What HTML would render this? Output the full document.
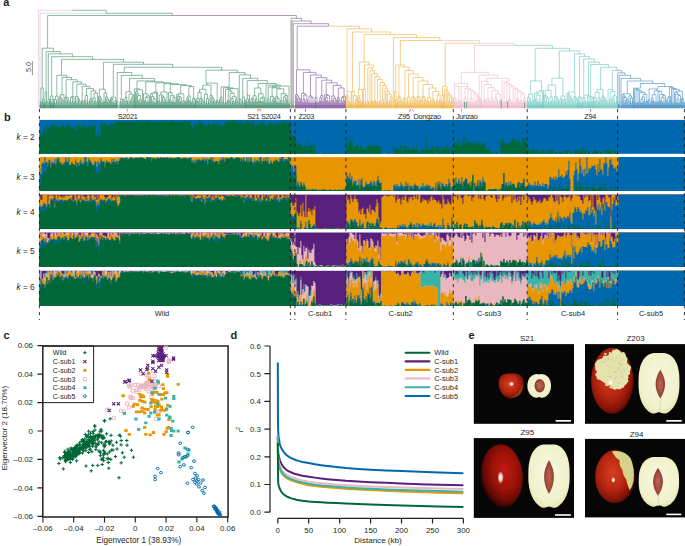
<!DOCTYPE html>
<html><head><meta charset="utf-8"><style>
html,body{margin:0;padding:0;background:#fff;}
body{width:685px;height:546px;overflow:hidden;}
svg{display:block;font-family:"Liberation Sans",sans-serif;}
</style></head><body>
<svg width="685" height="546" viewBox="0 0 685 546">
<text x="3.2" y="6.0" font-size="11" text-anchor="start" font-weight="bold" font-style="normal" fill="#231F20" >a</text>
<text x="4.0" y="120.6" font-size="11" text-anchor="start" font-weight="bold" font-style="normal" fill="#231F20" >b</text>
<text x="3.6" y="338.6" font-size="11" text-anchor="start" font-weight="bold" font-style="normal" fill="#231F20" >c</text>
<text x="230.6" y="338.8" font-size="11" text-anchor="start" font-weight="bold" font-style="normal" fill="#231F20" >d</text>
<text x="468.4" y="339.0" font-size="11" text-anchor="start" font-weight="bold" font-style="normal" fill="#231F20" >e</text>
<rect x="39.2" y="100.9" width="251.0" height="3.9" fill="#006838" fill-opacity="0.1"/>
<rect x="39.2" y="104.8" width="251.0" height="3.5" fill="#006838" fill-opacity="0.36"/>
<rect x="290.2" y="100.9" width="4.8" height="3.9" fill="#444444" fill-opacity="0.1"/>
<rect x="290.2" y="104.8" width="4.8" height="3.5" fill="#444444" fill-opacity="0.36"/>
<rect x="295.0" y="100.9" width="50.9" height="3.9" fill="#56207C" fill-opacity="0.1"/>
<rect x="295.0" y="104.8" width="50.9" height="3.5" fill="#56207C" fill-opacity="0.36"/>
<rect x="345.9" y="100.9" width="107.4" height="3.9" fill="#E89600" fill-opacity="0.1"/>
<rect x="345.9" y="104.8" width="107.4" height="3.5" fill="#E89600" fill-opacity="0.36"/>
<rect x="453.3" y="100.9" width="73.9" height="3.9" fill="#E6A0B4" fill-opacity="0.1"/>
<rect x="453.3" y="104.8" width="73.9" height="3.5" fill="#E6A0B4" fill-opacity="0.36"/>
<rect x="527.2" y="100.9" width="90.5" height="3.9" fill="#38B4A6" fill-opacity="0.1"/>
<rect x="527.2" y="104.8" width="90.5" height="3.5" fill="#38B4A6" fill-opacity="0.36"/>
<rect x="617.7" y="100.9" width="67.1" height="3.9" fill="#0068AC" fill-opacity="0.1"/>
<rect x="617.7" y="104.8" width="67.1" height="3.5" fill="#0068AC" fill-opacity="0.36"/>
<path d="M38.4,10.3H72.3M38.4,10.3V108.2" fill="none" stroke="#D868C8" stroke-opacity="0.32" stroke-width="0.9"/>
<path d="M72.3,10.3H106.2M106.2,10.3V13.3M106.2,13.3H172.3M172.3,13.3V15.5M47.6,15.5H172.0M47.6,15.5V48.2M42.2,48.2H47.8M47.8,48.2H53.4M42.2,48.2V88.0M41.0,88.0H42.1M42.1,88.0H43.2M41.0,88.0V102.3M40.5,102.3H41.0M41.0,102.3H41.5M40.5,102.3V108.2M41.5,102.3V108.2M43.2,88.0V99.1M42.5,99.1H43.2M43.2,99.1H44.0M42.5,99.1V108.2M44.0,99.1V103.4M43.5,103.4H44.0M44.0,103.4H44.5M43.5,103.4V108.2M44.5,103.4V108.2M53.4,48.2V51.6M46.1,51.6H53.2M53.2,51.6H60.4M46.1,51.6V92.0M45.0,92.0H45.8M45.8,92.0H46.5M45.0,92.0V108.2M46.5,92.0V102.2M46.0,102.2H46.5M46.5,102.2H47.0M46.0,102.2V108.2M47.0,102.2V108.2M60.4,51.6V53.8M48.3,53.8H60.4M60.4,53.8H72.4M48.3,53.8V99.0M48.0,99.0H48.8M48.8,99.0H49.5M48.0,99.0V108.2M49.5,99.0V102.6M49.0,102.6H49.5M49.5,102.6H50.0M49.0,102.6V108.2M50.0,102.6V108.2M72.4,53.8V56.7M51.7,56.7H72.2M72.2,56.7H92.6M51.7,56.7V96.0M50.5,96.0H51.6M51.6,96.0H52.8M50.5,96.0V108.2M52.8,96.0V99.2M52.0,99.2H52.8M52.8,99.2H53.5M52.0,99.2V103.1M51.5,103.1H52.0M52.0,103.1H52.5M51.5,103.1V108.2M52.5,103.1V108.2M53.5,99.2V108.2M92.6,56.7V59.4M61.5,59.4H92.5M92.5,59.4H123.6M61.5,59.4V75.3M56.8,75.3H61.8M61.8,75.3H66.8M56.8,75.3V96.2M55.5,96.2H56.8M56.8,96.2H58.0M55.5,96.2V99.6M54.5,99.6H55.5M55.5,99.6H56.5M54.5,99.6V103.3M54.0,103.3H54.5M54.5,103.3H55.0M54.0,103.3V108.2M55.0,103.3V108.2M56.5,99.6V102.9M56.0,102.9H56.5M56.5,102.9H57.0M56.0,102.9V108.2M57.0,102.9V108.2M58.0,96.2V108.2M66.8,75.3V77.5M62.0,77.5H66.8M66.8,77.5H71.6M62.0,77.5V94.8M60.1,94.8H62.0M62.0,94.8H64.0M60.1,94.8V97.2M59.0,97.2H60.1M60.1,97.2H61.1M59.0,97.2V108.2M61.1,97.2V98.8M60.0,98.8H61.1M61.1,98.8H62.2M60.0,98.8V108.2M62.2,98.8V100.2M61.5,100.2H62.2M62.2,100.2H63.0M61.5,100.2V103.2M61.0,103.2H61.5M61.5,103.2H62.0M61.0,103.2V108.2M62.0,103.2V108.2M63.0,100.2V108.2M64.0,94.8V108.2M71.6,77.5V79.7M66.1,79.7H71.6M71.6,79.7H77.1M66.1,79.7V97.0M65.0,97.0H66.1M66.1,97.0H67.1M65.0,97.0V108.2M67.1,97.0V97.9M66.0,97.9H67.1M67.1,97.9H68.2M66.0,97.9V108.2M68.2,97.9V100.1M67.5,100.1H68.2M68.2,100.1H69.0M67.5,100.1V102.5M67.0,102.5H67.5M67.5,102.5H68.0M67.0,102.5V108.2M68.0,102.5V108.2M69.0,100.1V108.2M77.1,79.7V81.9M72.8,81.9H77.1M77.1,81.9H81.4M72.8,81.9V96.6M71.5,96.6H72.8M72.8,96.6H74.0M71.5,96.6V97.5M70.5,97.5H71.5M71.5,97.5H72.5M70.5,97.5V102.7M70.0,102.7H70.5M70.5,102.7H71.0M70.0,102.7V108.2M71.0,102.7V108.2M72.5,97.5V102.1M72.0,102.1H72.5M72.5,102.1H73.0M72.0,102.1V108.2M73.0,102.1V108.2M74.0,96.6V108.2M81.4,81.9V84.2M76.8,84.2H81.4M81.4,84.2H86.1M76.8,84.2V96.6M75.5,96.6H76.8M76.8,96.6H78.1M75.5,96.6V102.7M75.0,102.7H75.5M75.5,102.7H76.0M75.0,102.7V108.2M76.0,102.7V108.2M78.1,96.6V98.7M77.0,98.7H78.1M78.1,98.7H79.2M77.0,98.7V108.2M79.2,98.7V100.3M78.5,100.3H79.2M79.2,100.3H80.0M78.5,100.3V103.6M78.0,103.6H78.5M78.5,103.6H79.0M78.0,103.6V108.2M79.0,103.6V108.2M80.0,100.3V108.2M86.1,84.2V86.4M82.2,86.4H86.1M86.1,86.4H89.9M82.2,86.4V100.8M81.5,100.8H82.2M82.2,100.8H83.0M81.5,100.8V103.0M81.0,103.0H81.5M81.5,103.0H82.0M81.0,103.0V108.2M82.0,103.0V108.2M83.0,100.8V108.2M89.9,86.4V88.6M86.4,88.6H89.9M89.9,88.6H93.5M86.4,88.6V95.6M85.2,95.6H86.4M86.4,95.6H87.5M85.2,95.6V100.2M84.5,100.2H85.2M85.2,100.2H86.0M84.5,100.2V102.1M84.0,102.1H84.5M84.5,102.1H85.0M84.0,102.1V108.2M85.0,102.1V108.2M86.0,100.2V108.2M87.5,95.6V103.6M87.0,103.6H87.5M87.5,103.6H88.0M87.0,103.6V108.2M88.0,103.6V108.2M93.5,88.6V90.8M91.1,90.8H93.5M93.5,90.8H95.8M91.1,90.8V98.6M90.2,98.6H91.1M91.1,98.6H92.0M90.2,98.6V100.3M89.5,100.3H90.2M90.2,100.3H91.0M89.5,100.3V102.2M89.0,102.2H89.5M89.5,102.2H90.0M89.0,102.2V108.2M90.0,102.2V108.2M91.0,100.3V108.2M92.0,98.6V108.2M95.8,90.8V93.0M94.1,93.0H95.8M95.8,93.0H97.5M94.1,93.0V97.9M93.0,97.9H94.1M94.1,97.9H95.2M93.0,97.9V108.2M95.2,97.9V101.3M94.5,101.3H95.2M95.2,101.3H96.0M94.5,101.3V102.9M94.0,102.9H94.5M94.5,102.9H95.0M94.0,102.9V108.2M95.0,102.9V108.2M96.0,101.3V108.2M97.5,93.0V102.7M97.0,102.7H97.5M97.5,102.7H98.0M97.0,102.7V108.2M98.0,102.7V108.2M123.6,59.4V62.2M103.4,62.2H123.5M123.5,62.2H143.5M103.4,62.2V89.2M99.4,89.2H102.4M102.4,89.2H105.3M99.4,89.2V96.4M98.5,96.4H99.4M99.4,96.4H100.4M98.5,96.4V108.2M100.4,96.4V97.8M99.5,97.8H100.4M100.4,97.8H101.2M99.5,97.8V108.2M101.2,97.8V99.7M100.5,99.7H101.2M101.2,99.7H102.0M100.5,99.7V108.2M102.0,99.7V103.1M101.5,103.1H102.0M102.0,103.1H102.5M101.5,103.1V108.2M102.5,103.1V108.2M105.3,89.2V92.9M104.0,92.9H105.3M105.3,92.9H106.6M104.0,92.9V102.0M103.5,102.0H104.0M104.0,102.0H104.5M103.5,102.0V108.2M104.5,102.0V108.2M106.6,92.9V97.1M105.5,97.1H106.6M106.6,97.1H107.6M105.5,97.1V108.2M107.6,97.1V99.0M106.5,99.0H107.6M107.6,99.0H108.8M106.5,99.0V108.2M108.8,99.0V100.5M108.0,100.5H108.8M108.8,100.5H109.5M108.0,100.5V102.6M107.5,102.6H108.0M108.0,102.6H108.5M107.5,102.6V108.2M108.5,102.6V108.2M109.5,100.5V108.2M143.5,62.2V64.3M113.3,64.3H143.0M143.0,64.3H172.7M113.3,64.3V97.2M111.4,97.2H113.6M113.6,97.2H115.8M111.4,97.2V98.1M110.5,98.1H111.4M111.4,98.1H112.2M110.5,98.1V108.2M112.2,98.1V99.5M111.5,99.5H112.2M112.2,99.5H113.0M111.5,99.5V108.2M113.0,99.5V102.8M112.5,102.8H113.0M113.0,102.8H113.5M112.5,102.8V108.2M113.5,102.8V108.2M115.8,97.2V100.8M115.0,100.8H115.8M115.8,100.8H116.5M115.0,100.8V103.4M114.5,103.4H115.0M115.0,103.4H115.5M114.5,103.4V108.2M115.5,103.4V108.2M116.5,100.8V108.2M172.7,64.3V67.3M124.2,67.3H172.9M172.9,67.3H221.6M124.2,67.3V72.5M117.2,72.5H124.5M124.5,72.5H131.8M117.2,72.5V108.2M131.8,72.5V75.4M121.3,75.4H131.8M131.8,75.4H142.3M121.3,75.4V99.2M120.5,99.2H121.9M121.9,99.2H123.2M120.5,99.2V102.1M120.0,102.1H120.5M120.5,102.1H121.0M120.0,102.1V108.2M121.0,102.1V108.2M123.2,99.2V100.1M122.5,100.1H123.2M123.2,100.1H124.0M122.5,100.1V102.6M122.0,102.6H122.5M122.5,102.6H123.0M122.0,102.6V108.2M123.0,102.6V108.2M124.0,100.1V108.2M142.3,75.4V78.4M129.5,78.4H142.1M142.1,78.4H154.6M129.5,78.4V91.8M125.9,91.8H128.5M128.5,91.8H131.0M125.9,91.8V97.5M125.0,97.5H125.9M125.9,97.5H126.8M125.0,97.5V108.2M126.8,97.5V101.4M126.0,101.4H126.8M126.8,101.4H127.5M126.0,101.4V108.2M127.5,101.4V103.3M127.0,103.3H127.5M127.5,103.3H128.0M127.0,103.3V108.2M128.0,103.3V108.2M131.0,91.8V94.2M129.0,94.2H131.0M131.0,94.2H133.1M129.0,94.2V108.2M133.1,94.2V96.0M132.1,96.0H133.1M133.1,96.0H134.0M132.1,96.0V98.4M131.2,98.4H132.1M132.1,98.4H133.0M131.2,98.4V100.5M130.5,100.5H131.2M131.2,100.5H132.0M130.5,100.5V102.2M130.0,102.2H130.5M130.5,102.2H131.0M130.0,102.2V108.2M131.0,102.2V108.2M132.0,100.5V108.2M133.0,98.4V108.2M134.0,96.0V108.2M154.6,78.4V80.9M137.0,80.9H145.8M145.8,80.9H154.6M137.0,80.9V88.9M134.5,88.9H137.0M137.0,88.9H139.6M134.5,88.9V108.2M139.6,88.9V89.8M136.6,89.8H139.6M139.6,89.8H142.5M136.6,89.8V91.7M135.5,91.7H136.6M136.6,91.7H137.7M135.5,91.7V108.2M137.7,91.7V93.7M136.5,93.7H137.7M137.7,93.7H138.9M136.5,93.7V108.2M138.9,93.7V95.6M137.5,95.6H138.9M138.9,95.6H140.4M137.5,95.6V108.2M140.4,95.6V99.6M139.2,99.6H140.4M140.4,99.6H141.5M139.2,99.6V101.0M138.5,101.0H139.2M139.2,101.0H140.0M138.5,101.0V108.2M140.0,101.0V103.0M139.5,103.0H140.0M140.0,103.0H140.5M139.5,103.0V108.2M140.5,103.0V108.2M141.5,99.6V108.2M142.5,89.8V108.2M154.6,80.9V81.8M145.8,81.8H154.6M154.6,81.8H163.4M145.8,81.8V93.8M143.5,93.8H145.8M145.8,93.8H148.1M143.5,93.8V108.2M148.1,93.8V96.0M146.6,96.0H148.1M148.1,96.0H149.5M146.6,96.0V97.3M145.2,97.3H146.6M146.6,97.3H148.0M145.2,97.3V100.8M144.5,100.8H145.2M145.2,100.8H146.0M144.5,100.8V108.2M146.0,100.8V102.5M145.5,102.5H146.0M146.0,102.5H146.5M145.5,102.5V108.2M146.5,102.5V108.2M148.0,97.3V102.7M147.5,102.7H148.0M148.0,102.7H148.5M147.5,102.7V108.2M148.5,102.7V108.2M149.5,96.0V108.2M163.4,81.8V82.8M155.8,82.8H163.4M163.4,82.8H171.1M155.8,82.8V92.1M154.1,92.1H155.8M155.8,92.1H157.5M154.1,92.1V93.0M151.6,93.0H154.1M154.1,93.0H156.5M151.6,93.0V94.1M150.5,94.1H151.6M151.6,94.1H152.8M150.5,94.1V108.2M152.8,94.1V96.6M151.5,96.6H152.8M152.8,96.6H154.0M151.5,96.6V108.2M154.0,96.6V98.6M153.0,98.6H154.0M154.0,98.6H155.0M153.0,98.6V102.5M152.5,102.5H153.0M153.0,102.5H153.5M152.5,102.5V108.2M153.5,102.5V108.2M155.0,98.6V103.2M154.5,103.2H155.0M155.0,103.2H155.5M154.5,103.2V108.2M155.5,103.2V108.2M156.5,93.0V108.2M157.5,92.1V108.2M171.1,82.8V83.7M164.0,83.7H171.1M171.1,83.7H178.2M164.0,83.7V92.0M160.9,92.0H164.0M164.0,92.0H167.0M160.9,92.0V95.0M159.2,95.0H160.9M160.9,95.0H162.6M159.2,95.0V101.1M158.5,101.1H159.2M159.2,101.1H160.0M158.5,101.1V108.2M160.0,101.1V103.1M159.5,103.1H160.0M160.0,103.1H160.5M159.5,103.1V108.2M160.5,103.1V108.2M162.6,95.0V96.2M161.5,96.2H162.6M162.6,96.2H163.6M161.5,96.2V108.2M163.6,96.2V97.6M162.5,97.6H163.6M163.6,97.6H164.8M162.5,97.6V108.2M164.8,97.6V99.5M164.0,99.5H164.8M164.8,99.5H165.5M164.0,99.5V102.3M163.5,102.3H164.0M164.0,102.3H164.5M163.5,102.3V108.2M164.5,102.3V108.2M165.5,99.5V108.2M167.0,92.0V102.3M166.5,102.3H167.0M167.0,102.3H167.5M166.5,102.3V108.2M167.5,102.3V108.2M178.2,83.7V84.6M170.3,84.6H178.2M178.2,84.6H186.0M170.3,84.6V92.6M168.5,92.6H170.3M170.3,92.6H172.1M168.5,92.6V108.2M172.1,92.6V95.7M170.2,95.7H172.1M172.1,95.7H174.0M170.2,95.7V99.8M169.5,99.8H170.2M170.2,99.8H171.0M169.5,99.8V108.2M171.0,99.8V102.2M170.5,102.2H171.0M171.0,102.2H171.5M170.5,102.2V108.2M171.5,102.2V108.2M174.0,95.7V97.2M173.0,97.2H174.0M174.0,97.2H175.0M173.0,97.2V102.1M172.5,102.1H173.0M173.0,102.1H173.5M172.5,102.1V108.2M173.5,102.1V108.2M175.0,97.2V102.9M174.5,102.9H175.0M175.0,102.9H175.5M174.5,102.9V108.2M175.5,102.9V108.2M186.0,84.6V85.6M180.7,85.6H186.0M186.0,85.6H191.3M180.7,85.6V93.8M177.7,93.8H180.7M180.7,93.8H183.8M177.7,93.8V94.7M176.5,94.7H177.7M177.7,94.7H178.9M176.5,94.7V108.2M178.9,94.7V96.6M177.5,96.6H178.9M178.9,96.6H180.4M177.5,96.6V108.2M180.4,96.6V97.7M179.2,97.7H180.4M180.4,97.7H181.5M179.2,97.7V99.5M178.5,99.5H179.2M179.2,99.5H180.0M178.5,99.5V108.2M180.0,99.5V102.0M179.5,102.0H180.0M180.0,102.0H180.5M179.5,102.0V108.2M180.5,102.0V108.2M181.5,97.7V108.2M183.8,93.8V101.1M183.0,101.1H183.8M183.8,101.1H184.5M183.0,101.1V103.5M182.5,103.5H183.0M183.0,103.5H183.5M182.5,103.5V108.2M183.5,103.5V108.2M184.5,101.1V108.2M191.3,85.6V86.5M188.9,86.5H191.3M191.3,86.5H193.6M188.9,86.5V96.0M187.6,96.0H188.9M188.9,96.0H190.2M187.6,96.0V97.8M186.8,97.8H187.6M187.6,97.8H188.5M186.8,97.8V99.9M186.0,99.9H186.8M186.8,99.9H187.5M186.0,99.9V102.2M185.5,102.2H186.0M186.0,102.2H186.5M185.5,102.2V108.2M186.5,102.2V108.2M187.5,99.9V108.2M188.5,97.8V108.2M190.2,96.0V101.1M189.5,101.1H190.2M190.2,101.1H191.0M189.5,101.1V108.2M191.0,101.1V102.9M190.5,102.9H191.0M191.0,102.9H191.5M190.5,102.9V108.2M191.5,102.9V108.2M193.6,86.5V98.3M192.5,98.3H193.6M193.6,98.3H194.8M192.5,98.3V108.2M194.8,98.3V99.2M194.0,99.2H194.8M194.8,99.2H195.5M194.0,99.2V103.4M193.5,103.4H194.0M194.0,103.4H194.5M193.5,103.4V108.2M194.5,103.4V108.2M195.5,99.2V108.2M221.6,67.3V70.2M206.0,70.2H221.7M221.7,70.2H237.4M206.0,70.2V83.1M206.0,83.1H212.1M212.1,83.1H217.2M206.9,83.1V85.1M202.8,85.1H206.9M206.9,85.1H211.0M202.8,85.1V89.3M199.5,89.3H202.8M202.8,89.3H206.0M199.5,89.3V92.3M197.9,92.3H199.5M199.5,92.3H201.1M197.9,92.3V98.3M196.8,98.3H197.9M197.9,98.3H199.0M196.8,98.3V100.9M196.0,100.9H196.8M196.8,100.9H197.5M196.0,100.9V108.2M197.5,100.9V102.2M197.0,102.2H197.5M197.5,102.2H198.0M197.0,102.2V108.2M198.0,102.2V108.2M199.0,98.3V108.2M201.1,92.3V98.3M200.0,98.3H201.1M201.1,98.3H202.2M200.0,98.3V108.2M202.2,98.3V99.9M201.5,99.9H202.2M202.2,99.9H203.0M201.5,99.9V103.4M201.0,103.4H201.5M201.5,103.4H202.0M201.0,103.4V108.2M202.0,103.4V108.2M203.0,99.9V108.2M206.0,89.3V94.2M204.5,94.2H206.0M206.0,94.2H207.5M204.5,94.2V102.3M204.0,102.3H204.5M204.5,102.3H205.0M204.0,102.3V108.2M205.0,102.3V108.2M207.5,94.2V98.7M206.5,98.7H207.5M207.5,98.7H208.5M206.5,98.7V103.5M206.0,103.5H206.5M206.5,103.5H207.0M206.0,103.5V108.2M207.0,103.5V108.2M208.5,98.7V103.4M208.0,103.4H208.5M208.5,103.4H209.0M208.0,103.4V108.2M209.0,103.4V108.2M211.0,85.1V95.3M210.0,95.3H211.0M211.0,95.3H212.1M210.0,95.3V108.2M212.1,95.3V97.1M211.0,97.1H212.1M212.1,97.1H213.1M211.0,97.1V108.2M213.1,97.1V98.8M212.0,98.8H213.1M213.1,98.8H214.2M212.0,98.8V108.2M214.2,98.8V101.0M213.5,101.0H214.2M214.2,101.0H215.0M213.5,101.0V102.6M213.0,102.6H213.5M213.5,102.6H214.0M213.0,102.6V108.2M214.0,102.6V108.2M215.0,101.0V108.2M217.2,83.1V100.5M216.5,100.5H217.2M217.2,100.5H218.0M216.5,100.5V102.3M216.0,102.3H216.5M216.5,102.3H217.0M216.0,102.3V108.2M217.0,102.3V108.2M218.0,100.5V108.2M237.4,70.2V72.6M229.2,72.6H237.1M237.1,72.6H245.0M229.2,72.6V86.9M221.1,86.9H224.7M224.7,86.9H229.2M221.1,86.9V97.2M220.2,97.2H221.1M221.1,97.2H222.0M220.2,97.2V99.4M219.5,99.4H220.2M220.2,99.4H221.0M219.5,99.4V102.0M219.0,102.0H219.5M219.5,102.0H220.0M219.0,102.0V108.2M220.0,102.0V108.2M221.0,99.4V108.2M222.0,97.2V108.2M228.2,86.9V87.8M223.5,87.8H228.2M228.2,87.8H232.9M223.5,87.8V103.2M223.0,103.2H223.5M223.5,103.2H224.0M223.0,103.2V108.2M224.0,103.2V108.2M232.9,87.8V88.7M227.8,88.7H232.9M232.9,88.7H238.0M227.8,88.7V89.6M225.5,89.6H227.8M227.8,89.6H230.2M225.5,89.6V103.5M225.0,103.5H225.5M225.5,103.5H226.0M225.0,103.5V108.2M226.0,103.5V108.2M230.2,89.6V91.2M228.2,91.2H230.2M230.2,91.2H232.1M228.2,91.2V100.3M227.5,100.3H228.2M228.2,100.3H229.0M227.5,100.3V102.0M227.0,102.0H227.5M227.5,102.0H228.0M227.0,102.0V108.2M228.0,102.0V108.2M229.0,100.3V108.2M232.1,91.2V93.2M230.0,93.2H232.1M232.1,93.2H234.2M230.0,93.2V108.2M234.2,93.2V96.7M232.1,96.7H234.2M234.2,96.7H236.2M232.1,96.7V98.6M231.0,98.6H232.1M232.1,98.6H233.2M231.0,98.6V108.2M233.2,98.6V101.3M232.5,101.3H233.2M233.2,101.3H234.0M232.5,101.3V103.6M232.0,103.6H232.5M232.5,103.6H233.0M232.0,103.6V108.2M233.0,103.6V108.2M234.0,101.3V108.2M236.2,96.7V99.3M235.5,99.3H236.2M236.2,99.3H237.0M235.5,99.3V102.1M235.0,102.1H235.5M235.5,102.1H236.0M235.0,102.1V108.2M236.0,102.1V108.2M237.0,99.3V108.2M238.0,88.7V108.2M245.0,72.6V74.9M239.3,74.9H244.9M244.9,74.9H250.6M239.3,74.9V99.0M239.3,99.0H240.2M240.2,99.0H241.0M239.5,99.0V103.2M239.0,103.2H239.5M239.5,103.2H240.0M239.0,103.2V108.2M240.0,103.2V108.2M241.0,99.0V108.2M250.6,74.9V78.3M242.7,78.3H250.2M250.2,78.3H257.7M242.7,78.3V97.0M242.5,97.0H243.5M243.5,97.0H244.5M242.5,97.0V102.4M242.0,102.4H242.5M242.5,102.4H243.0M242.0,102.4V108.2M243.0,102.4V108.2M244.5,97.0V103.3M244.0,103.3H244.5M244.5,103.3H245.0M244.0,103.3V108.2M245.0,103.3V108.2M257.7,78.3V80.6M247.2,80.6H257.2M257.2,80.6H267.2M247.2,80.6V95.0M247.2,95.0H248.4M248.4,95.0H249.5M247.4,95.0V99.0M246.2,99.0H247.4M247.4,99.0H248.5M246.2,99.0V100.8M245.5,100.8H246.2M246.2,100.8H247.0M245.5,100.8V108.2M247.0,100.8V102.6M246.5,102.6H247.0M247.0,102.6H247.5M246.5,102.6V108.2M247.5,102.6V108.2M248.5,99.0V108.2M249.5,95.0V108.2M267.2,80.6V83.5M258.2,83.5H267.2M267.2,83.5H276.3M258.2,83.5V88.0M254.6,88.0H257.7M257.7,88.0H260.8M254.6,88.0V95.8M252.9,95.8H254.6M254.6,95.8H256.2M252.9,95.8V98.2M251.8,98.2H252.9M252.9,98.2H254.0M251.8,98.2V99.4M251.0,99.4H251.8M251.8,99.4H252.5M251.0,99.4V102.4M250.5,102.4H251.0M251.0,102.4H251.5M250.5,102.4V108.2M251.5,102.4V108.2M252.5,99.4V108.2M254.0,98.2V102.1M253.5,102.1H254.0M254.0,102.1H254.5M253.5,102.1V108.2M254.5,102.1V108.2M256.2,95.8V99.1M255.5,99.1H256.2M256.2,99.1H257.0M255.5,99.1V108.2M257.0,99.1V102.1M256.5,102.1H257.0M257.0,102.1H257.5M256.5,102.1V108.2M257.5,102.1V108.2M260.8,88.0V93.7M258.5,93.7H260.8M260.8,93.7H263.1M258.5,93.7V108.2M263.1,93.7V97.2M261.6,97.2H263.1M263.1,97.2H264.5M261.6,97.2V98.3M260.2,98.3H261.6M261.6,98.3H263.0M260.2,98.3V101.0M259.5,101.0H260.2M260.2,101.0H261.0M259.5,101.0V108.2M261.0,101.0V102.3M260.5,102.3H261.0M261.0,102.3H261.5M260.5,102.3V108.2M261.5,102.3V108.2M263.0,98.3V102.0M262.5,102.0H263.0M263.0,102.0H263.5M262.5,102.0V108.2M263.5,102.0V108.2M264.5,97.2V108.2M276.3,83.5V85.2M266.0,85.2H273.3M273.3,85.2H280.6M266.0,85.2V103.2M265.5,103.2H266.0M266.0,103.2H266.5M265.5,103.2V108.2M266.5,103.2V108.2M280.6,85.2V86.1M272.2,86.1H280.6M280.6,86.1H289.0M272.2,86.1V87.0M268.2,87.0H272.2M272.2,87.0H276.1M268.2,87.0V99.1M267.5,99.1H268.2M268.2,99.1H269.0M267.5,99.1V108.2M269.0,99.1V103.2M268.5,103.2H269.0M269.0,103.2H269.5M268.5,103.2V108.2M269.5,103.2V108.2M276.1,87.0V87.9M272.1,87.9H276.1M276.1,87.9H280.2M272.1,87.9V96.4M270.5,96.4H272.1M272.1,96.4H273.6M270.5,96.4V108.2M273.6,96.4V98.3M272.8,98.3H273.6M273.6,98.3H274.5M272.8,98.3V100.6M272.0,100.6H272.8M272.8,100.6H273.5M272.0,100.6V103.4M271.5,103.4H272.0M272.0,103.4H272.5M271.5,103.4V108.2M272.5,103.4V108.2M273.5,100.6V108.2M274.5,98.3V108.2M280.2,87.9V88.8M276.8,88.8H280.2M280.2,88.8H283.7M276.8,88.8V96.8M275.5,96.8H276.8M276.8,96.8H278.0M275.5,96.8V108.2M278.0,96.8V98.1M277.0,98.1H278.0M278.0,98.1H279.0M277.0,98.1V102.8M276.5,102.8H277.0M277.0,102.8H277.5M276.5,102.8V108.2M277.5,102.8V108.2M279.0,98.1V103.1M278.5,103.1H279.0M279.0,103.1H279.5M278.5,103.1V108.2M279.5,103.1V108.2M283.7,88.8V93.7M281.2,93.7H283.7M283.7,93.7H286.1M281.2,93.7V100.3M280.5,100.3H281.2M281.2,100.3H282.0M280.5,100.3V108.2M282.0,100.3V103.4M281.5,103.4H282.0M282.0,103.4H282.5M281.5,103.4V108.2M282.5,103.4V108.2M286.1,93.7V95.6M284.6,95.6H286.1M286.1,95.6H287.5M284.6,95.6V97.0M283.5,97.0H284.6M284.6,97.0H285.8M283.5,97.0V108.2M285.8,97.0V99.7M285.0,99.7H285.8M285.8,99.7H286.5M285.0,99.7V103.5M284.5,103.5H285.0M285.0,103.5H285.5M284.5,103.5V108.2M285.5,103.5V108.2M286.5,99.7V108.2M287.5,95.6V108.2M289.0,86.1V103.6M288.5,103.6H289.0M289.0,103.6H289.5M288.5,103.6V108.2M289.5,103.6V108.2" fill="none" stroke="#006838" stroke-opacity="0.5" stroke-width="0.9"/>
<path d="M40.0,13.3H106.2M40.0,13.3V108.2" fill="none" stroke="#006838" stroke-opacity="0.2" stroke-width="0.9"/>
<path d="M172.0,15.5H296.4M296.4,15.5V18.4M296.3,18.4H301.6M301.6,18.4V21.0M301.5,21.0H311.0M311.0,21.0V23.7M310.9,23.7H328.5M328.5,23.7V26.2M297.2,26.2H328.4M297.2,26.2V69.8M296.5,69.8H303.1M303.1,69.8H309.7M296.5,69.8V94.7M295.5,94.7H296.5M296.5,94.7H297.6M295.5,94.7V108.2M297.6,94.7V95.9M296.5,95.9H297.6M297.6,95.9H298.6M296.5,95.9V108.2M298.6,95.9V98.2M297.5,98.2H298.6M298.6,98.2H299.8M297.5,98.2V108.2M299.8,98.2V99.2M299.0,99.2H299.8M299.8,99.2H300.5M299.0,99.2V102.0M298.5,102.0H299.0M299.0,102.0H299.5M298.5,102.0V108.2M299.5,102.0V108.2M300.5,99.2V108.2M309.7,69.8V72.4M303.4,72.4H309.7M309.7,72.4H315.9M303.4,72.4V93.4M301.5,93.4H303.4M303.4,93.4H305.2M301.5,93.4V108.2M305.2,93.4V95.0M303.8,95.0H305.2M305.2,95.0H306.8M303.8,95.0V99.1M303.0,99.1H303.8M303.8,99.1H304.5M303.0,99.1V103.0M302.5,103.0H303.0M303.0,103.0H303.5M302.5,103.0V108.2M303.5,103.0V108.2M304.5,99.1V108.2M306.8,95.0V99.6M306.0,99.6H306.8M306.8,99.6H307.5M306.0,99.6V103.0M305.5,103.0H306.0M306.0,103.0H306.5M305.5,103.0V108.2M306.5,103.0V108.2M307.5,99.6V108.2M315.9,72.4V75.0M310.5,75.0H315.9M315.9,75.0H321.4M310.5,75.0V96.1M309.0,96.1H310.5M310.5,96.1H312.0M309.0,96.1V103.0M308.5,103.0H309.0M309.0,103.0H309.5M308.5,103.0V108.2M309.5,103.0V108.2M312.0,96.1V97.5M311.0,97.5H312.0M312.0,97.5H313.0M311.0,97.5V103.3M310.5,103.3H311.0M311.0,103.3H311.5M310.5,103.3V108.2M311.5,103.3V108.2M313.0,97.5V103.5M312.5,103.5H313.0M313.0,103.5H313.5M312.5,103.5V108.2M313.5,103.5V108.2M321.4,75.0V77.6M316.0,77.6H321.4M321.4,77.6H326.8M316.0,77.6V97.8M315.0,97.8H316.0M316.0,97.8H317.0M315.0,97.8V103.4M314.5,103.4H315.0M315.0,103.4H315.5M314.5,103.4V108.2M315.5,103.4V108.2M317.0,97.8V103.1M316.5,103.1H317.0M317.0,103.1H317.5M316.5,103.1V108.2M317.5,103.1V108.2M326.8,77.6V80.2M321.8,80.2H326.8M326.8,80.2H331.7M321.8,80.2V95.6M320.6,95.6H321.8M321.8,95.6H323.0M320.6,95.6V97.8M319.8,97.8H320.6M320.6,97.8H321.5M319.8,97.8V101.2M319.0,101.2H319.8M319.8,101.2H320.5M319.0,101.2V103.0M318.5,103.0H319.0M319.0,103.0H319.5M318.5,103.0V108.2M319.5,103.0V108.2M320.5,101.2V108.2M321.5,97.8V108.2M323.0,95.6V102.3M322.5,102.3H323.0M323.0,102.3H323.5M322.5,102.3V108.2M323.5,102.3V108.2M331.7,80.2V82.8M326.2,82.8H331.7M331.7,82.8H337.2M326.2,82.8V94.7M324.5,94.7H326.2M326.2,94.7H327.9M324.5,94.7V108.2M327.9,94.7V95.6M326.4,95.6H327.9M327.9,95.6H329.5M326.4,95.6V97.3M325.5,97.3H326.4M326.4,97.3H327.2M325.5,97.3V108.2M327.2,97.3V101.0M326.5,101.0H327.2M327.2,101.0H328.0M326.5,101.0V108.2M328.0,101.0V102.8M327.5,102.8H328.0M328.0,102.8H328.5M327.5,102.8V108.2M328.5,102.8V108.2M329.5,95.6V108.2M337.2,82.8V85.4M333.2,85.4H337.2M337.2,85.4H341.2M333.2,85.4V96.0M331.8,96.0H333.2M333.2,96.0H334.6M331.8,96.0V100.6M331.0,100.6H331.8M331.8,100.6H332.5M331.0,100.6V102.8M330.5,102.8H331.0M331.0,102.8H331.5M330.5,102.8V108.2M331.5,102.8V108.2M332.5,100.6V108.2M334.6,96.0V98.4M333.5,98.4H334.6M334.6,98.4H335.8M333.5,98.4V108.2M335.8,98.4V100.3M335.0,100.3H335.8M335.8,100.3H336.5M335.0,100.3V103.1M334.5,103.1H335.0M335.0,103.1H335.5M334.5,103.1V108.2M335.5,103.1V108.2M336.5,100.3V108.2M341.2,85.4V88.0M338.4,88.0H341.2M341.2,88.0H344.1M338.4,88.0V97.6M337.5,97.6H338.4M338.4,97.6H339.2M337.5,97.6V108.2M339.2,97.6V99.8M338.5,99.8H339.2M339.2,99.8H340.0M338.5,99.8V108.2M340.0,99.8V103.4M339.5,103.4H340.0M340.0,103.4H340.5M339.5,103.4V108.2M340.5,103.4V108.2M344.1,88.0V96.3M342.6,96.3H344.1M344.1,96.3H345.5M342.6,96.3V97.4M341.5,97.4H342.6M342.6,97.4H343.8M341.5,97.4V108.2M343.8,97.4V100.8M343.0,100.8H343.8M343.8,100.8H344.5M343.0,100.8V103.1M342.5,103.1H343.0M343.0,103.1H343.5M342.5,103.1V108.2M343.5,103.1V108.2M344.5,100.8V108.2M345.5,96.3V108.2" fill="none" stroke="#56207C" stroke-opacity="0.5" stroke-width="0.9"/>
<path d="M291.0,18.4H296.3M291.0,18.4V108.2M292.0,21.0H301.5M292.0,21.0V108.2M293.3,23.7H310.9M293.3,23.7V108.2" fill="none" stroke="#444444" stroke-opacity="0.5" stroke-width="0.9"/>
<path d="M328.4,26.2H359.6M359.6,26.2V28.9M347.0,28.9H359.2M359.2,28.9H371.5M347.0,28.9V91.6M347.0,91.6H349.3M349.3,91.6H351.3M347.2,91.6V95.2M346.3,95.2H347.2M347.2,95.2H348.2M346.3,95.2V108.2M348.2,95.2V97.1M347.3,97.1H348.2M348.2,97.1H349.1M347.3,97.1V108.2M349.1,97.1V101.3M348.3,101.3H349.1M349.1,101.3H349.8M348.3,101.3V108.2M349.8,101.3V103.5M349.3,103.5H349.8M349.8,103.5H350.3M349.3,103.5V108.2M350.3,103.5V108.2M351.3,91.6V108.2M371.5,28.9V32.0M352.6,32.0H371.6M371.6,32.0H390.5M352.6,32.0V91.6M352.0,91.6H353.4M353.4,91.6H354.9M352.0,91.6V108.2M354.9,91.6V95.6M353.5,95.6H354.9M354.9,95.6H356.2M353.5,95.6V103.5M353.0,103.5H353.5M353.5,103.5H354.0M353.0,103.5V108.2M354.0,103.5V108.2M356.2,95.6V99.9M355.5,99.9H356.2M356.2,99.9H357.0M355.5,99.9V102.8M355.0,102.8H355.5M355.5,102.8H356.0M355.0,102.8V108.2M356.0,102.8V108.2M357.0,99.9V108.2M390.5,32.0V34.6M364.2,34.6H390.4M390.4,34.6H416.6M364.2,34.6V62.1M359.3,62.1H364.1M364.1,62.1H368.9M359.3,62.1V89.5M358.4,89.5H360.5M360.5,89.5H362.5M358.4,89.5V95.8M357.5,95.8H358.4M358.4,95.8H359.4M357.5,95.8V108.2M359.4,95.8V98.4M358.5,98.4H359.4M359.4,98.4H360.2M358.5,98.4V108.2M360.2,98.4V100.8M359.5,100.8H360.2M360.2,100.8H361.0M359.5,100.8V108.2M361.0,100.8V102.4M360.5,102.4H361.0M361.0,102.4H361.5M360.5,102.4V108.2M361.5,102.4V108.2M362.5,89.5V108.2M368.9,62.1V65.0M364.5,65.0H368.9M368.9,65.0H373.3M364.5,65.0V89.0M363.5,89.0H364.5M364.5,89.0H365.5M363.5,89.0V102.6M363.0,102.6H363.5M363.5,102.6H364.0M363.0,102.6V108.2M364.0,102.6V108.2M365.5,89.0V103.6M365.0,103.6H365.5M365.5,103.6H366.0M365.0,103.6V108.2M366.0,103.6V108.2M373.3,65.0V67.9M367.8,67.9H370.0M370.0,67.9H373.3M367.8,67.9V101.3M367.0,101.3H367.8M367.8,101.3H368.5M367.0,101.3V108.2M368.5,101.3V103.5M368.0,103.5H368.5M368.5,103.5H369.0M368.0,103.5V108.2M369.0,103.5V108.2M372.3,67.9V70.8M370.0,70.8H372.3M372.3,70.8H374.5M370.0,70.8V108.2M374.5,70.8V73.7M371.8,73.7H374.5M374.5,73.7H377.3M371.8,73.7V101.0M371.0,101.0H371.8M371.8,101.0H372.5M371.0,101.0V108.2M372.5,101.0V102.8M372.0,102.8H372.5M372.5,102.8H373.0M372.0,102.8V108.2M373.0,102.8V108.2M377.3,73.7V76.6M374.8,76.6H377.3M377.3,76.6H379.9M374.8,76.6V100.6M374.0,100.6H374.8M374.8,100.6H375.5M374.0,100.6V108.2M375.5,100.6V102.1M375.0,102.1H375.5M375.5,102.1H376.0M375.0,102.1V108.2M376.0,102.1V108.2M379.9,76.6V79.5M377.5,79.5H379.9M379.9,79.5H382.4M377.5,79.5V102.3M377.0,102.3H377.5M377.5,102.3H378.0M377.0,102.3V108.2M378.0,102.3V108.2M382.4,79.5V82.5M380.2,82.5H382.4M382.4,82.5H384.5M380.2,82.5V101.3M379.5,101.3H380.2M380.2,101.3H381.0M379.5,101.3V103.5M379.0,103.5H379.5M379.5,103.5H380.0M379.0,103.5V108.2M380.0,103.5V108.2M381.0,101.3V108.2M384.5,82.5V85.4M382.8,85.4H384.5M384.5,85.4H386.3M382.8,85.4V99.3M382.0,99.3H382.8M382.8,99.3H383.5M382.0,99.3V108.2M383.5,99.3V103.4M383.0,103.4H383.5M383.5,103.4H384.0M383.0,103.4V108.2M384.0,103.4V108.2M386.3,85.4V88.3M385.0,88.3H386.3M386.3,88.3H387.7M385.0,88.3V108.2M387.7,88.3V91.2M386.0,91.2H387.7M387.7,91.2H389.3M386.0,91.2V108.2M389.3,91.2V94.1M387.5,94.1H389.3M389.3,94.1H391.1M387.5,94.1V102.4M387.0,102.4H387.5M387.5,102.4H388.0M387.0,102.4V108.2M388.0,102.4V108.2M391.1,94.1V97.0M390.2,97.0H391.1M391.1,97.0H392.0M390.2,97.0V100.2M389.5,100.2H390.2M390.2,100.2H391.0M389.5,100.2V103.2M389.0,103.2H389.5M389.5,103.2H390.0M389.0,103.2V108.2M390.0,103.2V108.2M391.0,100.2V108.2M392.0,97.0V108.2M416.6,34.6V37.6M393.4,37.6H416.6M416.6,37.6H439.9M393.4,37.6V108.2M439.9,37.6V40.5M400.4,40.5H440.0M400.4,40.5V65.0M395.7,65.0H400.1M400.1,65.0H404.5M395.7,65.0V91.6M394.5,91.6H395.4M395.4,91.6H396.2M394.5,91.6V108.2M396.2,91.6V99.3M395.5,99.3H396.2M396.2,99.3H397.0M395.5,99.3V108.2M397.0,99.3V103.4M396.5,103.4H397.0M397.0,103.4H397.5M396.5,103.4V108.2M397.5,103.4V108.2M404.5,65.0V67.0M398.9,67.0H404.0M404.0,67.0H409.1M398.9,67.0V96.1M398.0,96.1H398.9M398.9,96.1H399.9M398.0,96.1V108.2M399.9,96.1V97.5M399.0,97.5H399.9M399.9,97.5H400.8M399.0,97.5V108.2M400.8,97.5V101.3M400.0,101.3H400.8M400.8,101.3H401.5M400.0,101.3V108.2M401.5,101.3V102.4M401.0,102.4H401.5M401.5,102.4H402.0M401.0,102.4V108.2M402.0,102.4V108.2M409.1,67.0V70.5M404.9,70.5H409.1M409.1,70.5H413.3M404.9,70.5V98.4M403.8,98.4H404.9M404.9,98.4H406.0M403.8,98.4V99.3M403.0,99.3H403.8M403.8,99.3H404.5M403.0,99.3V108.2M404.5,99.3V102.9M404.0,102.9H404.5M404.5,102.9H405.0M404.0,102.9V108.2M405.0,102.9V108.2M406.0,98.4V108.2M413.3,70.5V74.0M408.6,74.0H413.3M413.3,74.0H418.0M408.6,74.0V97.1M407.5,97.1H408.6M408.6,97.1H409.8M407.5,97.1V103.3M407.0,103.3H407.5M407.5,103.3H408.0M407.0,103.3V108.2M408.0,103.3V108.2M409.8,97.1V99.8M409.0,99.8H409.8M409.8,99.8H410.5M409.0,99.8V108.2M410.5,99.8V103.2M410.0,103.2H410.5M410.5,103.2H411.0M410.0,103.2V108.2M411.0,103.2V108.2M418.0,74.0V77.5M413.1,77.5H418.0M418.0,77.5H422.9M413.1,77.5V96.8M412.0,96.8H413.1M413.1,96.8H414.1M412.0,96.8V108.2M414.1,96.8V98.2M413.0,98.2H414.1M414.1,98.2H415.2M413.0,98.2V108.2M415.2,98.2V100.0M414.5,100.0H415.2M415.2,100.0H416.0M414.5,100.0V103.0M414.0,103.0H414.5M414.5,103.0H415.0M414.0,103.0V108.2M415.0,103.0V108.2M416.0,100.0V108.2M422.9,77.5V81.0M418.1,81.0H422.9M422.9,81.0H427.8M418.1,81.0V96.4M417.0,96.4H418.1M418.1,96.4H419.1M417.0,96.4V108.2M419.1,96.4V97.3M418.0,97.3H419.1M419.1,97.3H420.2M418.0,97.3V108.2M420.2,97.3V100.4M419.5,100.4H420.2M420.2,100.4H421.0M419.5,100.4V102.1M419.0,102.1H419.5M419.5,102.1H420.0M419.0,102.1V108.2M420.0,102.1V108.2M421.0,100.4V108.2M427.8,81.0V84.5M423.1,84.5H427.8M427.8,84.5H432.5M423.1,84.5V96.2M422.0,96.2H423.1M423.1,96.2H424.1M422.0,96.2V108.2M424.1,96.2V97.1M423.0,97.1H424.1M424.1,97.1H425.2M423.0,97.1V108.2M425.2,97.1V99.6M424.5,99.6H425.2M425.2,99.6H426.0M424.5,99.6V102.7M424.0,102.7H424.5M424.5,102.7H425.0M424.0,102.7V108.2M425.0,102.7V108.2M426.0,99.6V108.2M432.5,84.5V88.0M429.1,88.0H432.5M432.5,88.0H435.8M429.1,88.0V97.6M427.8,97.6H429.1M429.1,97.6H430.5M427.8,97.6V101.1M427.0,101.1H427.8M427.8,101.1H428.5M427.0,101.1V108.2M428.5,101.1V102.8M428.0,102.8H428.5M428.5,102.8H429.0M428.0,102.8V108.2M429.0,102.8V108.2M430.5,97.6V102.5M430.0,102.5H430.5M430.5,102.5H431.0M430.0,102.5V108.2M431.0,102.5V108.2M435.8,88.0V91.5M432.9,91.5H435.8M435.8,91.5H438.8M432.9,91.5V99.0M432.0,99.0H432.9M432.9,99.0H433.8M432.0,99.0V108.2M433.8,99.0V101.0M433.0,101.0H433.8M433.8,101.0H434.5M433.0,101.0V108.2M434.5,101.0V102.6M434.0,102.6H434.5M434.5,102.6H435.0M434.0,102.6V108.2M435.0,102.6V108.2M438.8,91.5V95.0M437.2,95.0H438.8M438.8,95.0H440.2M437.2,95.0V100.8M436.5,100.8H437.2M437.2,100.8H438.0M436.5,100.8V103.0M436.0,103.0H436.5M436.5,103.0H437.0M436.0,103.0V108.2M437.0,103.0V108.2M438.0,100.8V108.2M440.2,95.0V100.1M439.5,100.1H440.2M440.2,100.1H441.0M439.5,100.1V102.2M439.0,102.2H439.5M439.5,102.2H440.0M439.0,102.2V108.2M440.0,102.2V108.2M441.0,100.1V108.2M445.2,43.2H479.5M445.2,43.2V86.3M442.5,86.3H444.7M444.7,86.3H446.9M442.5,86.3V95.0M442.0,95.0H442.8M442.8,95.0H443.5M442.0,95.0V102.7M441.5,102.7H442.0M442.0,102.7H442.5M441.5,102.7V108.2M442.5,102.7V108.2M443.5,95.0V108.2M446.9,86.3V89.0M444.5,89.0H445.8M445.8,89.0H447.1M444.5,89.0V103.0M444.0,103.0H444.5M444.5,103.0H445.0M444.0,103.0V108.2M445.0,103.0V108.2M447.1,89.0V91.0M446.0,91.0H447.1M447.1,91.0H448.2M446.0,91.0V108.2M448.2,91.0V93.0M447.0,93.0H448.2M448.2,93.0H449.4M447.0,93.0V108.2M449.4,93.0V95.0M448.0,95.0H449.4M449.4,95.0H450.9M448.0,95.0V108.2M450.9,95.0V97.0M449.5,97.0H450.9M450.9,97.0H452.2M449.5,97.0V102.1M449.0,102.1H449.5M449.5,102.1H450.0M449.0,102.1V108.2M450.0,102.1V108.2M452.2,97.0V99.0M451.5,99.0H452.2M452.2,99.0H453.0M451.5,99.0V102.5M451.0,102.5H451.5M451.5,102.5H452.0M451.0,102.5V108.2M452.0,102.5V108.2M453.0,99.0V108.2" fill="none" stroke="#E89600" stroke-opacity="0.5" stroke-width="0.9"/>
<path d="M440.0,40.5H479.6M479.6,40.5V43.2M479.5,43.2H513.9M513.9,43.2V45.3M474.6,45.3H513.5M474.6,45.3V72.4M461.3,72.4H474.9M474.9,72.4H488.4M461.3,72.4V83.4M454.4,83.4H460.9M460.9,83.4H467.5M454.4,83.4V86.1M454.4,86.1H456.7M456.7,86.1H458.8M454.6,86.1V98.0M453.5,98.0H454.6M454.6,98.0H455.8M453.5,98.0V108.2M455.8,98.0V99.8M455.0,99.8H455.8M455.8,99.8H456.5M455.0,99.8V102.0M454.5,102.0H455.0M455.0,102.0H455.5M454.5,102.0V108.2M455.5,102.0V108.2M456.5,99.8V108.2M458.8,86.1V100.9M458.0,100.9H458.8M458.8,100.9H459.5M458.0,100.9V102.7M457.5,102.7H458.0M458.0,102.7H458.5M457.5,102.7V108.2M458.5,102.7V108.2M459.5,100.9V108.2M467.5,83.4V86.5M461.2,86.5H464.6M464.6,86.5H467.9M461.2,86.5V100.3M460.5,100.3H461.2M461.2,100.3H462.0M460.5,100.3V108.2M462.0,100.3V103.4M461.5,103.4H462.0M462.0,103.4H462.5M461.5,103.4V108.2M462.5,103.4V108.2M467.9,86.5V88.4M465.0,88.4H467.9M467.9,88.4H470.7M465.0,88.4V98.4M464.0,98.4H465.0M465.0,98.4H466.0M464.0,98.4V102.7M463.5,102.7H464.0M464.0,102.7H464.5M463.5,102.7V108.2M464.5,102.7V108.2M466.0,98.4V103.4M465.5,103.4H466.0M466.0,103.4H466.5M465.5,103.4V108.2M466.5,103.4V108.2M470.7,88.4V90.3M468.0,90.3H470.7M470.7,90.3H473.4M468.0,90.3V102.1M467.5,102.1H468.0M468.0,102.1H468.5M467.5,102.1V108.2M468.5,102.1V108.2M473.4,90.3V92.2M471.0,92.2H473.4M473.4,92.2H475.8M471.0,92.2V98.1M470.0,98.1H471.0M471.0,98.1H472.0M470.0,98.1V102.7M469.5,102.7H470.0M470.0,102.7H470.5M469.5,102.7V108.2M470.5,102.7V108.2M472.0,98.1V103.5M471.5,103.5H472.0M472.0,103.5H472.5M471.5,103.5V108.2M472.5,103.5V108.2M475.8,92.2V94.1M474.0,94.1H475.8M475.8,94.1H477.6M474.0,94.1V103.4M473.5,103.4H474.0M474.0,103.4H474.5M473.5,103.4V108.2M474.5,103.4V108.2M477.6,94.1V96.0M476.8,96.0H477.6M477.6,96.0H478.5M476.8,96.0V100.1M476.0,100.1H476.8M476.8,100.1H477.5M476.0,100.1V102.3M475.5,102.3H476.0M476.0,102.3H476.5M475.5,102.3V108.2M476.5,102.3V108.2M477.5,100.1V108.2M478.5,96.0V108.2M488.4,72.4V75.1M479.2,75.1H488.4M488.4,75.1H497.7M479.2,75.1V98.0M479.2,98.0H480.0M480.0,98.0H480.5M479.5,98.0V108.2M480.5,98.0V108.2M497.7,75.1V78.3M486.7,78.3H497.5M497.5,78.3H508.4M486.7,78.3V81.4M481.5,81.4H484.6M484.6,81.4H487.8M481.5,81.4V102.5M481.0,102.5H481.5M481.5,102.5H482.0M481.0,102.5V108.2M482.0,102.5V108.2M487.8,81.4V84.6M484.1,84.6H487.8M487.8,84.6H491.4M484.1,84.6V99.8M483.0,99.8H484.1M484.1,99.8H485.2M483.0,99.8V108.2M485.2,99.8V100.9M484.5,100.9H485.2M485.2,100.9H486.0M484.5,100.9V102.7M484.0,102.7H484.5M484.5,102.7H485.0M484.0,102.7V108.2M485.0,102.7V108.2M486.0,100.9V108.2M491.4,84.6V87.7M487.9,87.7H491.4M491.4,87.7H495.0M487.9,87.7V98.8M487.0,98.8H487.9M487.9,98.8H488.8M487.0,98.8V108.2M488.8,98.8V101.1M488.0,101.1H488.8M488.8,101.1H489.5M488.0,101.1V108.2M489.5,101.1V103.4M489.0,103.4H489.5M489.5,103.4H490.0M489.0,103.4V108.2M490.0,103.4V108.2M495.0,87.7V90.8M491.9,90.8H495.0M495.0,90.8H498.1M491.9,90.8V98.1M491.0,98.1H491.9M491.9,98.1H492.8M491.0,98.1V108.2M492.8,98.1V101.2M492.0,101.2H492.8M492.8,101.2H493.5M492.0,101.2V108.2M493.5,101.2V102.7M493.0,102.7H493.5M493.5,102.7H494.0M493.0,102.7V108.2M494.0,102.7V108.2M498.1,90.8V94.0M495.9,94.0H498.1M498.1,94.0H500.2M495.9,94.0V97.4M495.0,97.4H495.9M495.9,97.4H496.8M495.0,97.4V108.2M496.8,97.4V100.1M496.0,100.1H496.8M496.8,100.1H497.5M496.0,100.1V108.2M497.5,100.1V103.3M497.0,103.3H497.5M497.5,103.3H498.0M497.0,103.3V108.2M498.0,103.3V108.2M500.2,94.0V101.2M499.5,101.2H500.2M500.2,101.2H501.0M499.5,101.2V102.3M499.0,102.3H499.5M499.5,102.3H500.0M499.0,102.3V108.2M500.0,102.3V108.2M501.0,101.2V108.2M508.4,78.3V81.4M502.0,81.4H504.4M504.4,81.4H508.4M502.0,81.4V103.1M501.5,103.1H502.0M502.0,103.1H502.5M501.5,103.1V108.2M502.5,103.1V108.2M506.8,81.4V83.2M504.0,83.2H506.8M506.8,83.2H509.5M504.0,83.2V102.1M503.5,102.1H504.0M504.0,102.1H504.5M503.5,102.1V108.2M504.5,102.1V108.2M509.5,83.2V85.0M506.8,85.0H509.5M509.5,85.0H512.3M506.8,85.0V101.2M506.0,101.2H506.8M506.8,101.2H507.5M506.0,101.2V102.2M505.5,102.2H506.0M506.0,102.2H506.5M505.5,102.2V108.2M506.5,102.2V108.2M507.5,101.2V108.2M512.3,85.0V86.8M509.4,86.8H512.3M512.3,86.8H515.3M509.4,86.8V99.2M508.5,99.2H509.4M509.4,99.2H510.2M508.5,99.2V108.2M510.2,99.2V100.1M509.5,100.1H510.2M510.2,100.1H511.0M509.5,100.1V108.2M511.0,100.1V103.0M510.5,103.0H511.0M511.0,103.0H511.5M510.5,103.0V108.2M511.5,103.0V108.2M515.3,86.8V88.6M513.0,88.6H515.3M515.3,88.6H517.5M513.0,88.6V103.2M512.5,103.2H513.0M513.0,103.2H513.5M512.5,103.2V108.2M513.5,103.2V108.2M517.5,88.6V90.4M515.0,90.4H517.5M517.5,90.4H520.1M515.0,90.4V103.5M514.5,103.5H515.0M515.0,103.5H515.5M514.5,103.5V108.2M515.5,103.5V108.2M520.1,90.4V92.2M517.4,92.2H520.1M520.1,92.2H522.8M517.4,92.2V98.7M516.5,98.7H517.4M517.4,98.7H518.2M516.5,98.7V108.2M518.2,98.7V99.6M517.5,99.6H518.2M518.2,99.6H519.0M517.5,99.6V108.2M519.0,99.6V102.1M518.5,102.1H519.0M519.0,102.1H519.5M518.5,102.1V108.2M519.5,102.1V108.2M522.8,92.2V94.0M521.2,94.0H522.8M522.8,94.0H524.4M521.2,94.0V100.4M520.5,100.4H521.2M521.2,100.4H522.0M520.5,100.4V108.2M522.0,100.4V103.0M521.5,103.0H522.0M522.0,103.0H522.5M521.5,103.0V108.2M522.5,103.0V108.2M524.4,94.0V98.7M523.5,98.7H524.4M524.4,98.7H525.2M523.5,98.7V108.2M525.2,98.7V100.8M524.5,100.8H525.2M525.2,100.8H526.0M524.5,100.8V108.2M526.0,100.8V102.2M525.5,102.2H526.0M526.0,102.2H526.5M525.5,102.2V108.2M526.5,102.2V108.2" fill="none" stroke="#E6A0B4" stroke-opacity="0.5" stroke-width="0.9"/>
<path d="M513.5,45.3H552.4M552.4,45.3V48.3M535.2,48.3H552.4M552.4,48.3H569.5M535.2,48.3V80.9M530.7,80.9H536.1M536.1,80.9H541.5M530.7,80.9V94.2M528.6,94.2H530.7M530.7,94.2H532.8M528.6,94.2V97.6M527.5,97.6H528.6M528.6,97.6H529.8M527.5,97.6V108.2M529.8,97.6V99.3M529.0,99.3H529.8M529.8,99.3H530.5M529.0,99.3V102.5M528.5,102.5H529.0M529.0,102.5H529.5M528.5,102.5V108.2M529.5,102.5V108.2M530.5,99.3V108.2M532.8,94.2V100.3M532.0,100.3H532.8M532.8,100.3H533.5M532.0,100.3V102.8M531.5,102.8H532.0M532.0,102.8H532.5M531.5,102.8V108.2M532.5,102.8V108.2M533.5,100.3V108.2M541.5,80.9V90.5M539.4,90.5H541.5M541.5,90.5H543.5M539.4,90.5V91.9M536.3,91.9H539.4M539.4,91.9H542.5M536.3,91.9V93.3M534.5,93.3H536.3M536.3,93.3H538.1M534.5,93.3V108.2M538.1,93.3V95.2M536.2,95.2H538.1M538.1,95.2H540.0M536.2,95.2V99.0M535.5,99.0H536.2M536.2,99.0H537.0M535.5,99.0V108.2M537.0,99.0V102.0M536.5,102.0H537.0M537.0,102.0H537.5M536.5,102.0V108.2M537.5,102.0V108.2M540.0,95.2V99.7M539.0,99.7H540.0M540.0,99.7H541.0M539.0,99.7V102.3M538.5,102.3H539.0M539.0,102.3H539.5M538.5,102.3V108.2M539.5,102.3V108.2M541.0,99.7V102.5M540.5,102.5H541.0M541.0,102.5H541.5M540.5,102.5V108.2M541.5,102.5V108.2M542.5,91.9V108.2M543.5,90.5V108.2M569.5,48.3V51.0M559.3,51.0H569.5M569.5,51.0H579.7M559.3,51.0V78.2M551.9,78.2H557.4M557.4,78.2H562.9M551.9,78.2V85.1M548.1,85.1H551.9M551.9,85.1H555.7M548.1,85.1V90.3M545.1,90.3H548.1M548.1,90.3H551.1M545.1,90.3V95.3M544.0,95.3H545.1M545.1,95.3H546.2M544.0,95.3V108.2M546.2,95.3V96.4M545.0,96.4H546.2M546.2,96.4H547.5M545.0,96.4V108.2M547.5,96.4V98.1M546.5,98.1H547.5M547.5,98.1H548.5M546.5,98.1V102.1M546.0,102.1H546.5M546.5,102.1H547.0M546.0,102.1V108.2M547.0,102.1V108.2M548.5,98.1V103.1M548.0,103.1H548.5M548.5,103.1H549.0M548.0,103.1V108.2M549.0,103.1V108.2M551.1,90.3V97.0M550.0,97.0H551.1M551.1,97.0H552.2M550.0,97.0V108.2M552.2,97.0V100.6M551.5,100.6H552.2M552.2,100.6H553.0M551.5,100.6V102.6M551.0,102.6H551.5M551.5,102.6H552.0M551.0,102.6V108.2M552.0,102.6V108.2M553.0,100.6V108.2M555.7,85.1V96.5M554.5,96.5H555.7M555.7,96.5H556.9M554.5,96.5V102.3M554.0,102.3H554.5M554.5,102.3H555.0M554.0,102.3V108.2M555.0,102.3V108.2M556.9,96.5V98.1M556.0,98.1H556.9M556.9,98.1H557.8M556.0,98.1V108.2M557.8,98.1V99.8M557.0,99.8H557.8M557.8,99.8H558.5M557.0,99.8V108.2M558.5,99.8V102.2M558.0,102.2H558.5M558.5,102.2H559.0M558.0,102.2V108.2M559.0,102.2V108.2M562.9,78.2V96.0M561.1,96.0H562.9M562.9,96.0H564.8M561.1,96.0V98.9M560.0,98.9H561.1M561.1,98.9H562.2M560.0,98.9V108.2M562.2,98.9V99.9M561.5,99.9H562.2M562.2,99.9H563.0M561.5,99.9V103.2M561.0,103.2H561.5M561.5,103.2H562.0M561.0,103.2V108.2M562.0,103.2V108.2M563.0,99.9V108.2M564.8,96.0V99.3M564.0,99.3H564.8M564.8,99.3H565.5M564.0,99.3V108.2M565.5,99.3V103.3M565.0,103.3H565.5M565.5,103.3H566.0M565.0,103.3V108.2M566.0,103.3V108.2M579.7,51.0V53.9M574.6,53.9H579.6M579.6,53.9H584.6M574.6,53.9V92.0M568.0,92.0H571.5M571.5,92.0H574.9M568.0,92.0V93.4M567.0,93.4H568.0M568.0,93.4H569.0M567.0,93.4V108.2M569.0,93.4V95.0M568.0,95.0H569.0M569.0,95.0H569.9M568.0,95.0V108.2M569.9,95.0V96.6M569.0,96.6H569.9M569.9,96.6H570.9M569.0,96.6V108.2M570.9,96.6V98.6M570.0,98.6H570.9M570.9,98.6H571.8M570.0,98.6V108.2M571.8,98.6V99.8M571.0,99.8H571.8M571.8,99.8H572.5M571.0,99.8V108.2M572.5,99.8V103.3M572.0,103.3H572.5M572.5,103.3H573.0M572.0,103.3V108.2M573.0,103.3V108.2M574.9,92.0V96.7M574.0,96.7H574.9M574.9,96.7H575.9M574.0,96.7V108.2M575.9,96.7V97.8M575.0,97.8H575.9M575.9,97.8H576.8M575.0,97.8V108.2M576.8,97.8V99.3M576.0,99.3H576.8M576.8,99.3H577.5M576.0,99.3V108.2M577.5,99.3V103.3M577.0,103.3H577.5M577.5,103.3H578.0M577.0,103.3V108.2M578.0,103.3V108.2M584.6,53.9V56.4M579.5,56.4H584.4M584.4,56.4H589.2M579.5,56.4V97.0M578.5,97.0H579.8M579.8,97.0H581.0M578.5,97.0V108.2M581.0,97.0V98.0M580.0,98.0H581.0M581.0,98.0H582.0M580.0,98.0V102.4M579.5,102.4H580.0M580.0,102.4H580.5M579.5,102.4V108.2M580.5,102.4V108.2M582.0,98.0V103.2M581.5,103.2H582.0M582.0,103.2H582.5M581.5,103.2V108.2M582.5,103.2V108.2M589.2,56.4V59.0M583.7,59.0H589.0M589.0,59.0H594.3M583.7,59.0V95.0M583.7,95.0H585.7M585.7,95.0H587.5M583.9,95.0V97.5M583.0,97.5H583.9M583.9,97.5H584.8M583.0,97.5V108.2M584.8,97.5V101.4M584.0,101.4H584.8M584.8,101.4H585.5M584.0,101.4V108.2M585.5,101.4V103.3M585.0,103.3H585.5M585.5,103.3H586.0M585.0,103.3V108.2M586.0,103.3V108.2M587.5,95.0V102.4M587.0,102.4H587.5M587.5,102.4H588.0M587.0,102.4V108.2M588.0,102.4V108.2M594.3,59.0V62.2M588.5,62.2H594.1M594.1,62.2H599.7M588.5,62.2V96.0M588.5,96.0H589.8M589.8,96.0H590.5M589.0,96.0V102.6M588.5,102.6H589.0M589.0,102.6H589.5M588.5,102.6V108.2M589.5,102.6V108.2M590.5,96.0V108.2M599.7,62.2V64.5M590.7,64.5H599.6M599.6,64.5H608.5M590.7,64.5V97.0M590.7,97.0H592.8M592.8,97.0H593.5M592.0,97.0V102.0M591.5,102.0H592.0M592.0,102.0H592.5M591.5,102.0V108.2M592.5,102.0V108.2M593.5,97.0V108.2M608.5,64.5V67.3M600.6,67.3H608.8M608.8,67.3H617.0M600.6,67.3V89.3M597.1,89.3H600.0M600.0,89.3H603.0M597.1,89.3V92.4M595.1,92.4H597.1M597.1,92.4H599.1M595.1,92.4V97.9M594.0,97.9H595.1M595.1,97.9H596.2M594.0,97.9V108.2M596.2,97.9V100.9M595.5,100.9H596.2M596.2,100.9H597.0M595.5,100.9V102.4M595.0,102.4H595.5M595.5,102.4H596.0M595.0,102.4V108.2M596.0,102.4V108.2M597.0,100.9V108.2M599.1,92.4V98.2M598.0,98.2H599.1M599.1,98.2H600.2M598.0,98.2V108.2M600.2,98.2V100.4M599.5,100.4H600.2M600.2,100.4H601.0M599.5,100.4V103.2M599.0,103.2H599.5M599.5,103.2H600.0M599.0,103.2V108.2M600.0,103.2V108.2M601.0,100.4V108.2M603.0,89.3V96.0M602.0,96.0H603.0M603.0,96.0H603.9M602.0,96.0V108.2M603.9,96.0V97.6M603.0,97.6H603.9M603.9,97.6H604.9M603.0,97.6V108.2M604.9,97.6V99.1M604.0,99.1H604.9M604.9,99.1H605.8M604.0,99.1V108.2M605.8,99.1V100.8M605.0,100.8H605.8M605.8,100.8H606.5M605.0,100.8V108.2M606.5,100.8V103.4M606.0,103.4H606.5M606.5,103.4H607.0M606.0,103.4V108.2M607.0,103.4V108.2M617.0,67.3V70.4M612.3,70.4H616.8M612.3,70.4V89.3M608.0,89.3H610.2M610.2,89.3H612.5M608.0,89.3V108.2M612.5,89.3V91.7M610.2,91.7H612.5M612.5,91.7H614.7M610.2,91.7V99.3M609.5,99.3H610.2M610.2,99.3H611.0M609.5,99.3V103.3M609.0,103.3H609.5M609.5,103.3H610.0M609.0,103.3V108.2M610.0,103.3V108.2M611.0,99.3V108.2M614.7,91.7V96.0M612.9,96.0H614.7M614.7,96.0H616.5M612.9,96.0V97.8M612.0,97.8H612.9M612.9,97.8H613.8M612.0,97.8V108.2M613.8,97.8V99.5M613.0,99.5H613.8M613.8,99.5H614.5M613.0,99.5V108.2M614.5,99.5V103.2M614.0,103.2H614.5M614.5,103.2H615.0M614.0,103.2V108.2M615.0,103.2V108.2M616.5,96.0V102.5M616.0,102.5H616.5M616.5,102.5H617.0M616.0,102.5V108.2M617.0,102.5V108.2M617.5,104.0H618.0M617.5,104.0V108.2" fill="none" stroke="#38B4A6" stroke-opacity="0.5" stroke-width="0.9"/>
<path d="M616.8,70.4H621.4M621.4,70.4V72.9M617.7,72.9H621.2M621.2,72.9H624.8M617.7,72.9V104.0M618.0,104.0H618.5M618.5,104.0V108.2M624.8,72.9V75.3M619.3,75.3H625.0M625.0,75.3H630.6M619.3,75.3V108.2M630.6,75.3V78.4M621.0,78.4H630.9M630.9,78.4H640.7M621.0,78.4V108.2M640.7,78.4V81.0M627.3,81.0H640.1M640.1,81.0H652.9M627.3,81.0V93.8M623.1,93.8H626.7M626.7,93.8H630.2M623.1,93.8V94.7M622.0,94.7H623.1M623.1,94.7H624.3M622.0,94.7V108.2M624.3,94.7V96.7M623.0,96.7H624.3M624.3,96.7H625.6M623.0,96.7V108.2M625.6,96.7V97.7M624.0,97.7H625.6M625.6,97.7H627.1M624.0,97.7V108.2M627.1,97.7V99.4M626.2,99.4H627.1M627.1,99.4H628.0M626.2,99.4V100.6M625.5,100.6H626.2M626.2,100.6H627.0M625.5,100.6V102.8M625.0,102.8H625.5M625.5,102.8H626.0M625.0,102.8V108.2M626.0,102.8V108.2M627.0,100.6V108.2M628.0,99.4V108.2M630.2,93.8V95.9M629.0,95.9H630.2M630.2,95.9H631.5M629.0,95.9V108.2M631.5,95.9V98.0M630.5,98.0H631.5M631.5,98.0H632.5M630.5,98.0V103.2M630.0,103.2H630.5M630.5,103.2H631.0M630.0,103.2V108.2M631.0,103.2V108.2M632.5,98.0V102.6M632.0,102.6H632.5M632.5,102.6H633.0M632.0,102.6V108.2M633.0,102.6V108.2M652.9,81.0V83.5M640.4,83.5H652.6M652.6,83.5H664.8M640.4,83.5V88.2M633.5,88.2H634.9M634.9,88.2H640.4M633.5,88.2V108.2M636.3,88.2V89.1M634.5,89.1H636.3M636.3,89.1H638.1M634.5,89.1V108.2M638.1,89.1V90.0M636.0,90.0H638.1M638.1,90.0H640.1M636.0,90.0V103.5M635.5,103.5H636.0M636.0,103.5H636.5M635.5,103.5V108.2M636.5,103.5V108.2M640.1,90.0V90.9M638.0,90.9H640.1M640.1,90.9H642.2M638.0,90.9V103.0M637.5,103.0H638.0M638.0,103.0H638.5M637.5,103.0V108.2M638.5,103.0V108.2M642.2,90.9V92.6M639.5,92.6H642.2M642.2,92.6H645.0M639.5,92.6V108.2M645.0,92.6V94.3M643.2,94.3H645.0M645.0,94.3H646.8M643.2,94.3V97.1M642.0,97.1H643.2M643.2,97.1H644.5M642.0,97.1V99.4M641.0,99.4H642.0M642.0,99.4H643.0M641.0,99.4V103.0M640.5,103.0H641.0M641.0,103.0H641.5M640.5,103.0V108.2M641.5,103.0V108.2M643.0,99.4V102.8M642.5,102.8H643.0M643.0,102.8H643.5M642.5,102.8V108.2M643.5,102.8V108.2M644.5,97.1V108.2M646.8,94.3V101.2M646.0,101.2H646.8M646.8,101.2H647.5M646.0,101.2V102.5M645.5,102.5H646.0M646.0,102.5H646.5M645.5,102.5V108.2M646.5,102.5V108.2M647.5,101.2V108.2M664.8,83.5V86.5M658.0,86.5H665.1M665.1,86.5H672.2M658.0,86.5V89.0M649.2,89.0H653.1M653.1,89.0H658.0M649.2,89.0V99.7M648.5,99.7H649.2M649.2,99.7H650.0M648.5,99.7V108.2M650.0,99.7V103.6M649.5,103.6H650.0M650.0,103.6H650.5M649.5,103.6V108.2M650.5,103.6V108.2M657.0,89.0V90.9M654.2,90.9H657.0M657.0,90.9H659.9M654.2,90.9V94.7M652.4,94.7H654.2M654.2,94.7H656.0M652.4,94.7V98.4M651.5,98.4H652.4M652.4,98.4H653.2M651.5,98.4V108.2M653.2,98.4V101.1M652.5,101.1H653.2M653.2,101.1H654.0M652.5,101.1V108.2M654.0,101.1V102.2M653.5,102.2H654.0M654.0,102.2H654.5M653.5,102.2V108.2M654.5,102.2V108.2M656.0,94.7V102.9M655.5,102.9H656.0M656.0,102.9H656.5M655.5,102.9V108.2M656.5,102.9V108.2M659.9,90.9V91.8M658.0,91.8H659.9M659.9,91.8H661.8M658.0,91.8V102.1M657.5,102.1H658.0M658.0,102.1H658.5M657.5,102.1V108.2M658.5,102.1V108.2M661.8,91.8V94.5M659.5,94.5H661.8M661.8,94.5H664.1M659.5,94.5V108.2M664.1,94.5V95.7M662.6,95.7H664.1M664.1,95.7H665.5M662.6,95.7V97.6M661.2,97.6H662.6M662.6,97.6H664.0M661.2,97.6V100.9M660.5,100.9H661.2M661.2,100.9H662.0M660.5,100.9V108.2M662.0,100.9V102.7M661.5,102.7H662.0M662.0,102.7H662.5M661.5,102.7V108.2M662.5,102.7V108.2M664.0,97.6V103.1M663.5,103.1H664.0M664.0,103.1H664.5M663.5,103.1V108.2M664.5,103.1V108.2M665.5,95.7V108.2M672.2,86.5V87.6M669.4,87.6H671.6M671.6,87.6H673.8M669.4,87.6V96.5M668.4,96.5H669.4M669.4,96.5H670.5M668.4,96.5V97.9M667.2,97.9H668.4M668.4,97.9H669.5M667.2,97.9V100.4M666.5,100.4H667.2M667.2,100.4H668.0M666.5,100.4V108.2M668.0,100.4V102.9M667.5,102.9H668.0M668.0,102.9H668.5M667.5,102.9V108.2M668.5,102.9V108.2M669.5,97.9V108.2M670.5,96.5V108.2M673.8,87.6V88.5M671.5,88.5H673.8M673.8,88.5H676.1M671.5,88.5V108.2M676.1,88.5V89.4M673.0,89.4H676.1M676.1,89.4H679.2M673.0,89.4V103.5M672.5,103.5H673.0M673.0,103.5H673.5M672.5,103.5V108.2M673.5,103.5V108.2M679.2,89.4V91.2M675.9,91.2H679.2M679.2,91.2H682.4M675.9,91.2V92.3M674.5,92.3H675.9M675.9,92.3H677.4M674.5,92.3V108.2M677.4,92.3V94.2M675.5,94.2H677.4M677.4,94.2H679.2M675.5,94.2V108.2M679.2,94.2V95.6M678.0,95.6H679.2M679.2,95.6H680.5M678.0,95.6V99.1M677.0,99.1H678.0M678.0,99.1H679.0M677.0,99.1V103.0M676.5,103.0H677.0M677.0,103.0H677.5M676.5,103.0V108.2M677.5,103.0V108.2M679.0,99.1V103.6M678.5,103.6H679.0M679.0,103.6H679.5M678.5,103.6V108.2M679.5,103.6V108.2M680.5,95.6V108.2M682.4,91.2V98.4M681.5,98.4H682.4M682.4,98.4H683.2M681.5,98.4V108.2M683.2,98.4V99.7M682.5,99.7H683.2M683.2,99.7H684.0M682.5,99.7V108.2M684.0,99.7V103.0M683.5,103.0H684.0M684.0,103.0H684.5M683.5,103.0V108.2M684.5,103.0V108.2" fill="none" stroke="#0068AC" stroke-opacity="0.5" stroke-width="0.9"/>
<path d="M315.5,101.0V108.2M464.5,101.5V108.2M466.5,102.0V108.2M501.2,99.5V108.2M507.6,101.5V108.2M524.5,103.0V108.2" fill="none" stroke="#1A8A56" stroke-opacity="0.6" stroke-width="0.9"/>
<text transform="translate(30.7,67.0) rotate(-90)" font-size="7.2" text-anchor="middle" fill="#4a4a4a">5.0</text>
<line x1="32.4" y1="61" x2="32.4" y2="75.2" stroke="#777" stroke-width="0.75"/>
<rect x="39.4" y="119.9" width="645.6" height="33.90" fill="#0068AC"/>
<path d="M39.4,153.8H39.4V135.3H40.4V131.9H41.4V135.9H42.4V132.7H43.4V127.6H44.4V129.5H45.4V135.1H46.4V124.6H47.4V128.9H48.4V129H49.4V125.5H50.4V126.1H51.4V125.5H52.4V125.3H53.4V125.1H54.4V124H55.4V126.6H56.4V126.2H57.4V126.8H58.4V127.6H59.4V127.4H60.4V125.6H61.4V125.9H62.4V123.8H63.4V126.2H64.4V127.4H65.4V128.5H66.4V124.6H67.4V123.6H68.4V125.4H69.4V125H70.4V127H71.4V127.6H72.4V126.9H73.4V128.5H74.4V125.6H75.4V129.2H76.4V130.3H77.4V123.8H78.4V124.3H79.4V127.2H80.4V126H81.4V129H82.4V123.7H83.4V127.1H84.4V125.2H85.4V128.5H86.4V126.8H87.4V126.9H88.4V125.2H89.4V126.1H90.4V126.2H92.4V125.1H93.4V126.4H94.4V125.2H95.4V136H96.4V136.9H97.4V131.2H98.4V135.1H99.4V136H100.4V123.3H101.4V122.9H102.4V124.4H103.4V122.9H104.4V123.3H105.4V124.7H106.4V124.6H107.4V126.6H108.4V126.8H109.4V123.1H110.4V123.3H111.4V124.6H112.4V123.6H113.4V126.4H114.4V124H115.4V121H116.4V121.8H117.4V121.6H118.4V122.2H119.4V121.1H120.4V122.3H121.4V121.5H122.4V120.8H123.4V122.5H124.4V122.4H125.4V121.5H126.4V120.9H127.4V122.7H128.4V121.5H129.4V122H130.4V121.5H131.4V121.2H132.4V122.6H133.4V121.3H134.4V121.4H135.4V123.6H136.4V119.9H137.4V120.7H138.4V121.1H139.4V121.6H140.4V122.4H141.4V122.2H142.4V120.5H143.4V122.9H144.4V120.6H145.4V121.3H147.4V120.8H148.4V120.6H149.4V122.1H150.4V123H151.4V120.9H152.4V121.9H153.4V121.5H154.4V121.1H155.4V122H156.4V121.9H157.4V121.1H158.4V121.9H159.4V121H160.4V122H161.4V119.9H162.4V121.8H163.4V121.5H164.4V122H165.4V121.4H167.4V122.8H168.4V121.5H170.4V121.4H171.4V120.2H172.4V121.3H173.4V120.7H174.4V121.7H175.4V122.8H176.4V121.7H177.4V123H178.4V121.8H179.4V121.2H180.4V121.9H181.4V122.1H182.4V121.2H183.4V121.5H184.4V121H185.4V120.7H186.4V122H187.4V121.1H188.4V121H189.4V121.3H190.4V125H191.4V125.8H192.4V129.5H193.4V124.8H194.4V123.7H195.4V126.9H196.4V123.6H197.4V125.5H198.4V120.2H199.4V123.8H200.4V120.9H201.4V123.4H202.4V124.9H203.4V122.8H204.4V126.4H205.4V126.3H206.4V124.8H207.4V124.9H208.4V121.3H209.4V124.3H210.4V124H211.4V125.2H212.4V125.1H213.4V119.9H214.4V123.9H215.4V124.7H217.4V123H218.4V124.6H219.4V125.7H220.4V125.8H221.4V124.9H222.4V125.5H223.4V124H224.4V124.2H225.4V121.8H226.4V121.3H227.4V121.8H228.4V122.1H229.4V120.7H230.4V121.4H231.4V120.8H232.4V119.9H235.4V120.9H236.4V122.4H237.4V121H238.4V123.7H239.4V119.9H240.4V122.1H241.4V124.5H242.4V123.7H243.4V123.3H244.4V123.2H245.4V124.4H246.4V119.9H247.4V121.9H248.4V121.5H249.4V123.8H251.4V121.3H252.4V120.3H253.4V123H254.4V126H255.4V124H256.4V123.9H257.4V125.1H258.4V123.4H259.4V120.9H260.4V124.8H261.4V120.7H262.4V123H263.4V120.9H264.4V124H265.4V126.1H266.4V126.5H267.4V123H268.4V123.2H269.4V123.5H270.4V121.4H271.4V122.7H272.4V123.7H273.4V126.3H274.4V122.8H275.4V123.2H276.4V124.5H277.4V122.9H278.4V123.8H279.4V121H280.4V122.6H281.4V124.5H282.4V121.1H283.4V122H284.4V121.8H285.4V122.3H286.4V122.6H287.4V123.7H288.4V121.4H289.4V124.7H290.4V133.9H291.4V135.1H292.4V135.5H293.4V135.8H294.4V139.4H295.4V140H296.4V143.7H297.4V146.3H298.4V142.9H299.4V144H300.4V144.7H301.4V147.4H302.4V146.2H303.4V149.3H304.4V145.5H305.4V145.9H306.4V146H307.4V150.2H308.4V141.2H309.4V145.5H310.4V146.4H311.4V144.5H312.4V148.3H313.4V144.7H314.4V146.2H315.4V152.8H316.4V153.2H317.4V151.5H318.4V153.5H319.4V153.6H320.4V153.3H321.4V153.7H322.4V152.9H323.4V152.4H324.4V152.9H325.4V153.3H326.4V152.9H327.4V153.2H328.4V152.6H329.4V153.3H330.4V153H331.4V152.8H332.4V153.3H333.4V152.8H334.4V153.1H335.4V152.9H336.4V153H337.4V153.1H338.4V152.7H339.4V153.4H340.4V152.9H341.4V153.2H342.4V153H343.4V152.8H345.4V153.1H346.4V140.4H347.4V146.7H348.4V140.3H349.4V141.4H350.4V141.9H351.4V138.3H352.4V145.8H353.4V149H354.4V146.8H355.4V146.1H356.4V145H357.4V144.7H358.4V149.6H359.4V147.4H360.4V144.2H361.4V147.6H362.4V147.9H363.4V148.7H364.4V149.1H365.4V149.4H366.4V146.8H367.4V146.6H368.4V146.5H369.4V143H370.4V147.2H371.4V146.2H372.4V144.6H373.4V146.5H374.4V145.9H375.4V147.9H376.4V145.5H377.4V146.3H378.4V145.7H379.4V147H380.4V147.8H381.4V153.7H382.4V153.5H383.4V153.4H384.4V153.7H386.4V152.7H387.4V153.4H388.4V153.1H389.4V153.3H390.4V153.2H391.4V153.4H393.4V145.3H394.4V151.2H395.4V147.1H396.4V149.5H397.4V148.7H398.4V149.2H399.4V150H400.4V144.7H401.4V152.4H402.4V146.7H403.4V151.3H404.4V146.3H405.4V146H406.4V147H407.4V150.4H408.4V148.1H409.4V149.8H411.4V150.3H412.4V147.1H413.4V148.5H414.4V148H415.4V151.3H416.4V144.4H417.4V150.4H418.4V153H419.4V151.8H420.4V150.8H421.4V148.3H422.4V149.6H423.4V148.1H424.4V152.3H425.4V138.4H426.4V147H427.4V150.1H428.4V149.8H429.4V148.5H430.4V149.5H431.4V145.4H432.4V148H433.4V148.1H434.4V148.2H435.4V153.8H436.4V145.8H437.4V147.2H438.4V147H439.4V152.1H440.4V149.6H441.4V149.2H442.4V147.1H443.4V148.9H444.4V146.5H445.4V149.6H446.4V144.4H447.4V148.7H448.4V147.2H449.4V152.8H450.4V147.4H451.4V146.3H452.4V152.5H453.4V142.3H454.4V142.4H455.4V141.3H456.4V144.7H457.4V143.9H458.4V138.9H459.4V146.7H460.4V145.8H461.4V142.5H462.4V142.2H463.4V137.5H464.4V145.1H465.4V135.8H466.4V144.4H467.4V141.4H468.4V142H469.4V142.3H470.4V142.8H471.4V144.1H472.4V141.4H473.4V146H474.4V144.7H475.4V141.1H476.4V143.7H477.4V143.5H478.4V143.3H479.4V142.4H480.4V146.1H481.4V143.4H482.4V143.2H483.4V142.6H484.4V144.3H485.4V149.9H486.4V148.7H487.4V147.8H488.4V149.2H489.4V152.3H490.4V152.9H491.4V152H492.4V152.9H493.4V153.8H494.4V151.8H495.4V152.1H496.4V151.8H497.4V152.1H498.4V153.8H499.4V153.4H500.4V140H501.4V141.9H502.4V137.6H503.4V142.2H504.4V143.7H505.4V145.6H506.4V143.1H507.4V144.4H508.4V143.4H509.4V142.5H510.4V141.7H511.4V141.5H512.4V137.3H513.4V140.6H514.4V139.2H515.4V143H516.4V141.4H517.4V138.2H518.4V141H519.4V141.4H520.4V145.1H521.4V146.7H522.4V137.3H523.4V137.5H524.4V142H525.4V138.8H526.4V142.3H527.4V149.6H528.4V148.5H529.4V152.8H530.4V148.8H531.4V151.6H532.4V148H533.4V150.1H534.4V151.6H535.4V151.3H536.4V150.7H537.4V148.7H538.4V152.1H539.4V150.9H540.4V151.9H541.4V153.3H542.4V148.4H543.4V150.5H544.4V151.6H545.4V153.5H546.4V149.2H547.4V152.5H548.4V151.8H549.4V149.8H550.4V148.6H551.4V151.1H552.4V148.7H553.4V153.8H554.4V152.3H557.4V153.4H558.4V150.9H559.4V152.4H560.4V151.7H561.4V152.3H562.4V150.3H563.4V153.8H564.4V152H565.4V150.2H566.4V150.7H567.4V149.4H568.4V153.8H569.4V149.3H570.4V152.5H571.4V153.1H572.4V153.8H573.4V152.1H574.4V150.4H575.4V148.9H576.4V150.9H577.4V150.4H578.4V148.9H579.4V150.7H580.4V152.1H581.4V147.7H582.4V150H583.4V147.8H584.4V151H585.4V151.2H586.4V152.9H587.4V151H588.4V150.6H589.4V152.2H590.4V153.8H591.4V152.8H592.4V151.7H593.4V151.3H594.4V148.7H595.4V150.9H596.4V151.3H597.4V151.2H598.4V153.8H599.4V150H600.4V152.1H601.4V152.9H602.4V153H603.4V153.8H604.4V150.5H605.4V153.6H606.4V150H607.4V150.5H608.4V148.8H609.4V150.8H611.4V153.8H612.4V150.3H613.4V150.5H614.4V150.9H615.4V151H616.4V152.2H617.4V152.9H618.4V153.8H685V153.8Z" fill="#006838"/>
<rect x="39.4" y="157.1" width="645.6" height="33.90" fill="#E89600"/>
<path d="M39.4,191.0H39.4V168.5H40.4V174H41.4V163.7H42.4V161.9H43.4V163.5H44.4V157.1H45.4V162.7H46.4V161.8H47.4V167H48.4V159.9H49.4V159.6H50.4V167.8H51.4V161.3H52.4V162.4H53.4V162.9H54.4V159.1H55.4V164.9H56.4V158.9H57.4V157.1H58.4V158.4H59.4V163.4H60.4V162H61.4V165H62.4V164.1H63.4V162.7H64.4V162.2H65.4V157.1H66.4V161.7H67.4V161.5H68.4V157.1H69.4V164.7H70.4V165.3H71.4V162.3H72.4V164.1H74.4V165.2H75.4V159.4H76.4V166.5H77.4V163H78.4V165.4H79.4V161.8H80.4V159.8H81.4V164.6H82.4V161.9H83.4V163.4H84.4V157.1H86.4V161.5H87.4V165.9H88.4V157.9H89.4V159.9H90.4V161.5H91.4V163.8H92.4V164.7H93.4V164.4H94.4V160.8H95.4V161.9H96.4V166.8H97.4V160.9H98.4V162.4H99.4V164.4H100.4V158.4H101.4V160.2H102.4V161.9H103.4V161.5H104.4V167.5H105.4V162.1H106.4V160.2H107.4V162.6H108.4V161.5H109.4V162.8H110.4V163.9H111.4V158.9H112.4V161.7H113.4V158.7H114.4V161.5H115.4V162H116.4V160.4H117.4V164.7H118.4V160.9H119.4V158.3H120.4V158.2H121.4V157.5H122.4V158.5H123.4V158.2H124.4V158H125.4V158.6H126.4V157.1H127.4V158.7H128.4V159.2H129.4V158.5H130.4V157.1H131.4V157.4H132.4V158.4H133.4V157.9H135.4V157.8H138.4V158.6H139.4V157.1H140.4V157.7H141.4V157.6H142.4V157.9H143.4V158.4H144.4V159.3H145.4V159.5H146.4V157.1H148.4V157.4H149.4V158.1H150.4V157.5H151.4V161.5H152.4V157.8H153.4V159H154.4V158.4H155.4V158.1H156.4V159.4H157.4V157.1H158.4V158.3H159.4V158.5H160.4V157.1H161.4V157.9H163.4V157.6H164.4V158.1H166.4V157.1H167.4V157.8H168.4V159.3H169.4V157.8H170.4V158.5H171.4V158.1H172.4V158.7H173.4V158.5H174.4V158H175.4V158.6H176.4V157.6H177.4V157.1H179.4V157.9H180.4V159.3H181.4V158.4H182.4V158.8H183.4V158H185.4V157.7H186.4V158.4H187.4V159.4H188.4V158.2H189.4V158H190.4V157.1H191.4V162H192.4V160H193.4V163H194.4V159.8H195.4V162.5H196.4V159H197.4V160.5H198.4V158.8H199.4V159.9H200.4V161.3H201.4V159.4H202.4V159.6H203.4V157.7H204.4V160.9H205.4V159H206.4V158.6H207.4V164.5H208.4V159.5H209.4V159.3H210.4V157.1H211.4V160.6H212.4V157.6H213.4V161.2H214.4V162H215.4V160.7H216.4V160.9H217.4V161H218.4V163.9H219.4V160.6H220.4V158.3H221.4V160.1H222.4V157.1H223.4V158.7H224.4V162.1H225.4V157.8H226.4V159.2H227.4V157.9H228.4V158.9H229.4V158.3H230.4V157.5H231.4V157.1H232.4V158.7H233.4V159.5H234.4V158.6H235.4V158.2H236.4V157.8H237.4V157.6H238.4V158.2H239.4V157.8H240.4V161.3H241.4V158.6H242.4V161H243.4V157.1H244.4V161.1H245.4V161.7H246.4V157.1H247.4V162.5H248.4V157.1H249.4V161.9H250.4V157.2H251.4V161.9H252.4V161.3H253.4V163.5H254.4V159H255.4V162.8H256.4V160.5H257.4V159.6H258.4V162.1H259.4V157.1H261.4V163.6H262.4V161.3H263.4V158H264.4V161.2H265.4V157.1H266.4V162H267.4V157.1H268.4V164.2H269.4V163.7H270.4V160.2H271.4V163H272.4V163.9H273.4V160.7H274.4V161.2H275.4V159.4H276.4V159.7H277.4V161.3H278.4V162.5H279.4V158.4H280.4V158.6H281.4V157.1H283.4V160.8H284.4V159.1H285.4V159.2H286.4V159.5H287.4V158.8H288.4V157.1H289.4V162.7H290.4V168.5H291.4V165H292.4V166.1H293.4V171.2H294.4V166.7H295.4V165.7H296.4V185.7H297.4V181H298.4V184.7H299.4V187H300.4V182.1H301.4V184.7H302.4V186.8H303.4V182.4H304.4V185.4H305.4V189.4H306.4V190H307.4V189.3H308.4V189.7H310.4V189.5H311.4V189.8H312.4V189.1H313.4V190.1H314.4V189.5H315.4V189.6H316.4V189.7H317.4V189.9H318.4V190.1H319.4V189.5H320.4V190.3H321.4V190.1H322.4V189.2H323.4V190H324.4V189.3H325.4V190H326.4V189.9H327.4V190.3H328.4V190.1H329.4V189.4H330.4V190H331.4V190.1H332.4V189.9H333.4V190.1H334.4V189.4H335.4V190.1H336.4V190.2H337.4V190H338.4V189.8H339.4V189.7H340.4V190H341.4V189.9H342.4V189.5H343.4V190.3H344.4V189.5H345.4V188.6H346.4V173.4H347.4V176.4H348.4V178.4H349.4V173.2H350.4V179.7H351.4V176.2H352.4V186.5H353.4V181.2H354.4V180.9H355.4V180.5H356.4V185.8H357.4V185.2H358.4V179.6H359.4V188.9H360.4V180.1H361.4V178.2H362.4V187.4H363.4V186.4H364.4V186.5H365.4V181.8H366.4V183.7H367.4V184.1H368.4V184.3H369.4V182.9H370.4V180.8H371.4V182.5H372.4V185.7H373.4V180.8H374.4V182.3H375.4V186H376.4V181H377.4V175.7H378.4V180.1H379.4V183.3H380.4V182.5H381.4V190.9H382.4V190.7H383.4V190.9H384.4V190.4H385.4V190.6H386.4V190.7H387.4V190.5H388.4V190.6H389.4V190.3H390.4V190.9H391.4V191H392.4V190.7H393.4V185H394.4V184.5H395.4V186.8H396.4V183.9H397.4V186.2H398.4V186.3H399.4V186.5H400.4V182.8H401.4V184.7H402.4V185.8H403.4V187H404.4V186H405.4V181.4H406.4V186.2H407.4V183.2H408.4V191H409.4V185.3H410.4V186.4H411.4V185.8H412.4V188.6H413.4V185.6H414.4V183.5H415.4V185.1H416.4V186H417.4V186.1H418.4V189.5H419.4V188.1H420.4V186.3H421.4V186.8H422.4V182.9H423.4V187.5H424.4V185.7H425.4V186.3H426.4V184.5H427.4V185.3H428.4V186.3H429.4V185.2H430.4V188.8H431.4V187.7H432.4V187.5H433.4V186.9H434.4V191H435.4V182.4H436.4V191H437.4V181.6H438.4V184.6H439.4V181.3H440.4V189.2H441.4V182.9H442.4V183.7H443.4V185.8H444.4V187.2H445.4V183.7H446.4V184.5H447.4V186.4H448.4V178.8H449.4V183.1H450.4V191H451.4V187.1H452.4V186.1H453.4V177.8H454.4V184.8H455.4V177.8H456.4V182.1H457.4V184.1H458.4V178.4H459.4V183.9H460.4V182.2H461.4V177H462.4V187.3H463.4V181.8H464.4V180H465.4V177.7H466.4V179.3H467.4V183H468.4V184.6H469.4V181.7H470.4V187.6H471.4V181.6H472.4V174.8H473.4V191H474.4V182.8H475.4V187.3H476.4V186.2H477.4V179.8H478.4V186.3H479.4V180H480.4V181.5H481.4V186.7H482.4V177.3H483.4V180.8H484.4V182.3H485.4V190.3H486.4V190.9H487.4V190.5H488.4V189.5H489.4V189H490.4V189.9H491.4V189.2H493.4V189.8H494.4V189H495.4V188.6H496.4V190.3H497.4V190.4H498.4V189.2H499.4V191H500.4V188.8H501.4V183.7H502.4V184H503.4V172.9H504.4V185.5H505.4V182.2H506.4V183.1H507.4V186.9H508.4V181.8H509.4V185.6H510.4V181.6H511.4V186.1H512.4V183.8H513.4V184.3H514.4V186.7H515.4V187.9H516.4V188H517.4V182.9H518.4V181.8H519.4V187.4H520.4V183.1H521.4V183.3H522.4V183H523.4V178.4H524.4V186.2H525.4V187H526.4V188.8H527.4V184.7H528.4V182.5H529.4V184.8H530.4V185.6H531.4V184.6H532.4V186.3H533.4V185H534.4V181.6H535.4V186.1H536.4V185.6H537.4V180.8H538.4V186.1H539.4V184.1H540.4V186.3H541.4V186.1H542.4V183.3H543.4V186.5H544.4V184H545.4V183.8H546.4V184.2H547.4V188.4H548.4V185.2H549.4V177.3H550.4V176.7H551.4V179.4H552.4V178.5H553.4V176.6H554.4V180.2H555.4V176.2H556.4V179.3H557.4V177.3H558.4V169.3H559.4V177H560.4V176H561.4V174.4H562.4V177.9H563.4V177.6H564.4V176.2H565.4V171.3H566.4V174.7H567.4V170.1H568.4V160.7H569.4V178.9H570.4V191H573.4V175.2H574.4V170.7H575.4V162.4H576.4V169.3H577.4V180.5H578.4V173.5H579.4V158.3H580.4V165.7H581.4V173.4H582.4V169.4H583.4V176.6H584.4V168.8H585.4V174.6H586.4V157.1H587.4V173H588.4V167.7H589.4V169.7H590.4V168H591.4V165.8H592.4V166.6H593.4V166.1H594.4V165.1H595.4V169.8H596.4V175.3H597.4V163.9H598.4V171.9H599.4V159H600.4V169.5H601.4V169.4H602.4V174.8H603.4V162.5H604.4V164.3H605.4V157.1H606.4V163.2H607.4V176H608.4V167.5H609.4V160H610.4V158.8H611.4V164.5H612.4V164.9H613.4V168H614.4V169.1H615.4V167H616.4V171.5H617.4V167.5H618.4V157.1H685V191.0Z" fill="#0068AC"/>
<path d="M39.4,191.0H39.4V179H40.4V183.9H41.4V174.7H42.4V174.3H43.4V171.6H44.4V170.7H45.4V173.7H46.4V162.8H47.4V167H48.4V163.1H49.4V163.4H50.4V167.8H51.4V164.1H52.4V164.3H53.4V165.8H54.4V163H55.4V165.6H56.4V162.8H57.4V160.3H58.4V162.3H59.4V163.4H60.4V163.2H61.4V165.1H62.4V165.9H63.4V167.1H64.4V164.3H65.4V159.8H66.4V163.9H67.4V163.1H68.4V165.7H69.4V165.1H70.4V165.3H71.4V162.3H72.4V165.1H73.4V167.3H74.4V165.9H75.4V161.7H76.4V166.5H77.4V163H78.4V167.4H79.4V165.5H80.4V163.4H81.4V164.6H83.4V165.7H84.4V162.2H85.4V165H86.4V162.2H87.4V165.9H88.4V161.4H89.4V164.3H90.4V162.6H91.4V166.9H92.4V166.5H93.4V166.3H94.4V165.1H95.4V172.7H96.4V174.2H97.4V172.1H98.4V170.9H99.4V173.1H100.4V161.4H101.4V162.6H102.4V164.1H103.4V161.5H104.4V167.5H105.4V163.9H106.4V162.5H107.4V162.6H108.4V162.8H109.4V164.4H110.4V164.2H111.4V163.2H113.4V163.5H114.4V163.2H115.4V163.3H116.4V161.5H117.4V164.7H118.4V160.9H119.4V160.3H120.4V158.9H121.4V158.2H122.4V158.5H123.4V158.7H124.4V158.3H125.4V158.7H126.4V159.9H127.4V158.7H128.4V159.6H129.4V158.5H130.4V157.6H131.4V158.4H132.4V158.9H133.4V159.2H134.4V158H135.4V158.8H136.4V158.1H137.4V158.4H138.4V158.8H139.4V158H140.4V158.8H141.4V157.6H142.4V158.4H144.4V159.3H145.4V159.5H146.4V158.3H147.4V158H148.4V157.4H149.4V158.3H150.4V157.5H151.4V161.6H152.4V157.8H153.4V159.3H154.4V158.4H155.4V159.1H156.4V159.5H157.4V158H158.4V158.8H159.4V158.9H160.4V157.6H161.4V158H162.4V158.4H163.4V157.6H164.4V158.6H165.4V158.1H166.4V159.6H167.4V157.8H168.4V159.3H169.4V157.8H170.4V158.8H171.4V158.2H172.4V158.7H173.4V158.5H174.4V158H175.4V158.9H176.4V157.6H177.4V159.5H178.4V157.1H179.4V158.1H180.4V159.6H181.4V158.4H182.4V158.8H183.4V158H185.4V158.2H186.4V158.7H187.4V159.6H188.4V158.4H189.4V158H190.4V159.5H191.4V163H192.4V161.5H193.4V163.1H194.4V161.7H195.4V165.6H196.4V159.9H197.4V160.6H198.4V161.3H199.4V159.9H200.4V162H201.4V160.3H202.4V160.8H204.4V163.6H205.4V159.9H206.4V161.6H207.4V165H208.4V159.5H209.4V160.3H210.4V158.9H211.4V163.1H212.4V161.2H213.4V163.4H214.4V162.7H215.4V161.7H216.4V161.1H217.4V163.3H218.4V163.9H219.4V161.3H220.4V160H221.4V161.3H222.4V161.2H223.4V159.4H224.4V162.1H225.4V157.9H226.4V159.2H227.4V157.9H228.4V159H229.4V158.4H230.4V157.5H231.4V157.6H232.4V158.7H233.4V159.5H234.4V158.6H235.4V158.4H236.4V157.8H237.4V157.7H238.4V158.2H239.4V158H240.4V163.1H241.4V158.6H242.4V162.4H243.4V159.7H244.4V161.1H245.4V161.9H246.4V159.3H247.4V162.5H248.4V160.7H249.4V161.9H250.4V159.1H251.4V163H252.4V163.1H253.4V166.7H254.4V161.7H255.4V162.8H256.4V160.5H257.4V161.7H258.4V162.8H259.4V161.2H260.4V160.3H261.4V164.8H262.4V161.3H263.4V161.1H264.4V161.2H265.4V160.5H266.4V162H267.4V161.1H268.4V164.2H269.4V165.2H270.4V162.1H271.4V163H272.4V164.1H273.4V160.7H274.4V161.2H275.4V162.1H276.4V160.7H277.4V161.3H278.4V162.5H279.4V161.6H280.4V161.2H281.4V159.1H282.4V160.8H283.4V161.7H284.4V160.7H285.4V161.4H286.4V161H288.4V157.1H289.4V163.8H290.4V175.4H291.4V173.6H292.4V176.2H293.4V177.7H294.4V177.9H295.4V174.8H296.4V189.2H297.4V183.3H298.4V186.8H299.4V187H300.4V182.3H301.4V186H302.4V187.4H303.4V184.8H304.4V186.7H305.4V189.4H306.4V190.1H307.4V189.4H308.4V189.7H309.4V189.9H310.4V189.6H311.4V190.3H312.4V189.1H313.4V190.2H314.4V189.5H315.4V190H316.4V189.7H317.4V190.1H318.4V190.2H319.4V189.6H320.4V190.3H321.4V190.1H322.4V189.4H323.4V190H324.4V189.3H325.4V190H327.4V190.5H328.4V190.2H329.4V189.5H330.4V190H331.4V190.1H332.4V189.9H333.4V190.2H334.4V189.5H335.4V190.2H336.4V190.3H337.4V190H338.4V189.8H339.4V189.7H340.4V190H341.4V189.9H342.4V189.5H343.4V190.3H344.4V189.5H345.4V188.6H346.4V179.6H347.4V181.4H348.4V182.6H349.4V179.1H350.4V182.1H351.4V183.5H352.4V186.7H353.4V183.4H354.4V184H355.4V185.4H356.4V185.8H357.4V185.2H358.4V185H359.4V189.8H360.4V185H362.4V188.1H363.4V188.5H364.4V187H365.4V185.6H366.4V186.2H367.4V185.6H368.4V186.9H369.4V185.3H370.4V186.2H371.4V184.5H372.4V186.4H373.4V186.1H374.4V184.9H375.4V189.3H376.4V186.8H377.4V181.4H378.4V183.2H379.4V185.7H380.4V182.9H381.4V190.9H382.4V190.7H383.4V190.9H384.4V190.5H385.4V190.6H386.4V190.7H387.4V190.5H388.4V190.7H389.4V190.3H390.4V190.9H391.4V191H392.4V190.7H393.4V191H394.4V189.8H396.4V188.5H397.4V191H398.4V189.9H399.4V188H400.4V191H401.4V187.3H402.4V189.8H403.4V189.7H404.4V189.6H405.4V186.3H406.4V189.7H407.4V185.9H408.4V191H409.4V189.4H410.4V188.4H411.4V188.3H412.4V189.8H413.4V190.4H414.4V185.7H415.4V187.8H416.4V191H417.4V186.1H418.4V190.2H419.4V191H422.4V187.4H423.4V189.9H424.4V190.7H425.4V188.7H426.4V187.6H427.4V189.2H428.4V189.4H429.4V188.6H430.4V190H431.4V189.8H432.4V190.2H433.4V191H435.4V187.5H436.4V191H437.4V186.6H438.4V187.8H439.4V187H440.4V191H441.4V187.2H442.4V185.7H443.4V186.4H444.4V187.3H446.4V188H447.4V188.2H448.4V184.1H449.4V186.5H450.4V191H451.4V189H452.4V190.4H453.4V180.1H454.4V186H455.4V184.4H456.4V184.6H457.4V184.1H458.4V180.4H459.4V185H460.4V185.5H461.4V184.4H462.4V191H463.4V181.8H464.4V182.7H465.4V178.8H466.4V183.4H467.4V184.1H468.4V184.6H469.4V185.7H470.4V187.6H471.4V181.8H472.4V175.2H473.4V191H474.4V183.2H475.4V187.3H476.4V186.2H477.4V182.4H478.4V189.5H479.4V185.2H480.4V183H481.4V186.7H482.4V182.3H483.4V183.3H484.4V182.9H485.4V190.3H486.4V191H487.4V190.5H488.4V189.5H489.4V189H490.4V189.9H491.4V189.3H493.4V189.9H494.4V189H495.4V188.7H496.4V190.3H497.4V190.4H498.4V189.2H499.4V191H500.4V188.8H501.4V188.5H502.4V184H503.4V172.9H504.4V188.7H505.4V184.8H506.4V185.8H507.4V186.9H508.4V185.6H510.4V184.5H511.4V188.5H512.4V183.8H513.4V184.3H514.4V186.7H515.4V187.9H516.4V188H517.4V184.6H518.4V182.1H519.4V187.4H520.4V184.8H521.4V185.9H522.4V185.5H523.4V178.9H524.4V187.7H525.4V187H526.4V188.8H527.4V191H528.4V188.8H529.4V189.5H530.4V190.9H531.4V190.1H532.4V190.9H533.4V189.3H534.4V188.9H535.4V190.4H536.4V191H537.4V188.4H538.4V191H539.4V189.6H540.4V190.5H541.4V190.9H542.4V188.5H543.4V190.4H544.4V188.6H545.4V189.5H546.4V189H547.4V190.5H548.4V191H549.4V187.4H550.4V191H551.4V189.9H552.4V188.7H553.4V186.6H554.4V190.3H555.4V186.6H556.4V191H557.4V189.4H558.4V185.6H559.4V191H560.4V187.7H561.4V188H562.4V191H563.4V188.9H565.4V187.8H566.4V189H567.4V185.8H568.4V191H569.4V189.9H570.4V191H575.4V182.5H576.4V185.2H577.4V191H578.4V187.5H579.4V181.8H580.4V184.1H581.4V191H582.4V186H583.4V191H585.4V187.4H586.4V182.1H587.4V191H588.4V188.2H589.4V187.6H590.4V191H591.4V186.4H592.4V187.5H593.4V183H594.4V187.5H595.4V190.1H596.4V190H597.4V188.2H598.4V187.4H599.4V184.5H600.4V187.8H601.4V186.2H602.4V190.7H603.4V183H604.4V191H605.4V184.3H606.4V189.6H607.4V191H609.4V190.8H610.4V185.8H611.4V190.5H612.4V191H614.4V186.1H615.4V191H685V191.0Z" fill="#006838"/>
<rect x="39.4" y="194.6" width="645.6" height="34.50" fill="#56207C"/>
<path d="M39.4,229.1H39.4V196H40.4V199.8H42.4V194.6H44.4V194.7H45.4V194.6H47.4V202H48.4V196.1H49.4V194.6H51.4V195.8H52.4V194.6H53.4V196.6H54.4V203H55.4V194.6H56.4V194.9H57.4V197.9H58.4V194.6H59.4V196.1H60.4V196.4H61.4V197.5H62.4V195.4H63.4V197.8H64.4V195.7H65.4V195.6H66.4V195.7H67.4V195.5H68.4V195.4H69.4V195.7H70.4V194.6H72.4V201.8H73.4V199.9H74.4V194.6H76.4V199.6H77.4V196.1H78.4V194.6H80.4V200.5H81.4V194.6H82.4V195.5H83.4V196.9H84.4V196.5H85.4V199.5H86.4V196.5H87.4V194.6H88.4V195.3H89.4V196.3H90.4V200H91.4V194.6H93.4V195.4H94.4V197.4H95.4V195.7H96.4V200.1H97.4V194.6H98.4V198.9H99.4V194.6H100.4V195H101.4V194.6H103.4V195.2H104.4V197.3H105.4V199H106.4V197.3H107.4V196.9H108.4V194.6H111.4V198.7H112.4V196.8H113.4V194.6H114.4V197.7H115.4V194.6H116.4V194.7H117.4V197H118.4V194.6H119.4V196.9H120.4V195.3H121.4V195.8H122.4V195.1H123.4V194.6H124.4V195.1H125.4V194.6H126.4V195.7H127.4V196H128.4V194.6H129.4V196H130.4V195.7H131.4V195.8H132.4V195.7H133.4V195.1H135.4V195.5H136.4V195.2H137.4V195.4H138.4V195.5H139.4V195.6H140.4V194.8H141.4V195.5H142.4V195.6H143.4V194.8H144.4V195H146.4V195.2H147.4V195.1H148.4V195H149.4V194.6H151.4V195.1H152.4V194.6H153.4V195.8H154.4V194.6H155.4V195.9H156.4V196H157.4V195H158.4V194.8H159.4V195.1H160.4V195.2H161.4V195H162.4V195.3H163.4V196.9H164.4V194.6H166.4V196.3H167.4V195H168.4V195.9H169.4V194.6H171.4V194.8H172.4V194.6H173.4V195.5H174.4V195.3H175.4V194.8H176.4V195.1H177.4V194.8H179.4V195.1H180.4V194.6H181.4V196.3H182.4V195.7H183.4V195H184.4V196.5H185.4V194.7H186.4V195.5H187.4V195.3H188.4V194.6H189.4V195.2H190.4V194.6H191.4V199.4H192.4V194.6H194.4V196.2H196.4V196H197.4V194.6H199.4V196.1H200.4V194.6H201.4V200H202.4V194.6H206.4V196.4H207.4V196.8H208.4V194.6H210.4V200.6H211.4V196.8H212.4V194.6H213.4V198.8H214.4V195.7H215.4V194.6H216.4V195.3H217.4V196.2H218.4V194.6H219.4V196.9H220.4V196H221.4V194.6H222.4V195.9H223.4V196.4H224.4V198.5H225.4V195.1H226.4V196H227.4V194.6H229.4V196.5H230.4V194.6H233.4V196.8H234.4V194.6H235.4V195.9H236.4V196.8H237.4V194.6H239.4V196.5H240.4V194.6H241.4V195.4H242.4V194.6H243.4V198.8H244.4V195.7H245.4V194.6H246.4V194.7H247.4V194.6H248.4V197.4H249.4V194.6H251.4V195.7H252.4V198.8H253.4V197.7H254.4V194.6H256.4V198.6H257.4V194.6H259.4V199.5H260.4V197.6H261.4V194.6H265.4V198.6H266.4V198.2H267.4V194.6H268.4V196.9H269.4V194.6H270.4V196H271.4V194.6H274.4V200.9H275.4V194.6H276.4V198.5H277.4V194.6H279.4V197.8H280.4V197H281.4V194.6H283.4V196.4H284.4V195.9H285.4V194.6H286.4V196.8H287.4V194.6H288.4V195.4H289.4V198.1H290.4V202.5H291.4V202.6H292.4V206.1H293.4V205.4H294.4V202.1H295.4V198.6H296.4V211.6H297.4V213.5H298.4V216.2H299.4V212.8H300.4V204.7H301.4V216.4H302.4V202.7H303.4V211.6H304.4V217.1H305.4V194.6H306.4V217.1H307.4V211.4H308.4V207.9H309.4V211.7H310.4V209.4H311.4V215H312.4V209H313.4V210.2H314.4V206.2H315.4V228.8H316.4V228.4H317.4V228.8H319.4V227.8H320.4V228.7H321.4V228.9H322.4V228.6H323.4V228H324.4V227.7H325.4V228.7H326.4V228H327.4V228.6H328.4V227.9H329.4V229H330.4V228.7H331.4V227.9H332.4V228.3H334.4V228.2H335.4V228.1H336.4V228.6H337.4V228.1H338.4V227.6H339.4V228.5H340.4V228.9H341.4V228.4H342.4V228.6H343.4V228.1H344.4V228.3H345.4V227.5H346.4V196H347.4V200H348.4V198.6H349.4V203.7H350.4V194.8H351.4V198.4H352.4V201.9H353.4V199.2H354.4V195.4H355.4V199.1H356.4V198.9H357.4V202.2H358.4V212.2H359.4V209.5H360.4V214.4H361.4V208.9H362.4V207.5H363.4V214.5H364.4V213.7H365.4V218.7H366.4V208.7H367.4V208.4H368.4V212.3H369.4V204.7H370.4V214.5H371.4V209.9H372.4V209.4H373.4V210.7H374.4V212.2H375.4V206.5H376.4V199.2H377.4V203.2H378.4V217.4H379.4V224.4H380.4V221.5H381.4V197.3H382.4V196.4H383.4V195.8H384.4V195.2H385.4V195.4H386.4V195.7H387.4V196.7H388.4V195.2H389.4V195.9H390.4V195.1H391.4V195.6H392.4V194.9H393.4V197H394.4V194.9H395.4V202.7H396.4V199.8H397.4V196.1H398.4V199.1H399.4V198.1H400.4V204.2H401.4V199.4H402.4V196.6H403.4V200H404.4V196.5H405.4V194.6H406.4V200.9H407.4V202.7H408.4V197.3H409.4V199H410.4V196.5H411.4V197H412.4V200.2H413.4V195.5H414.4V196.2H415.4V198.9H416.4V194.6H417.4V199.4H418.4V195H419.4V194.6H420.4V203H421.4V201.7H422.4V198.4H423.4V200.6H424.4V199.6H425.4V199.7H426.4V200.7H427.4V204H428.4V199.2H429.4V201.8H430.4V197H431.4V195.8H432.4V200.3H433.4V198.1H434.4V200H435.4V199.9H436.4V202.5H437.4V201.6H438.4V200.4H439.4V204H440.4V203.6H441.4V208.5H442.4V194.6H443.4V199.2H444.4V204.8H445.4V203.6H446.4V203.9H447.4V199.3H448.4V202.1H449.4V203.8H450.4V204.5H451.4V194.6H452.4V200.8H453.4V194.6H454.4V196H455.4V197H456.4V194.6H457.4V199.6H458.4V194.6H460.4V197.4H461.4V198.1H462.4V203.7H463.4V196.6H464.4V194.6H467.4V196.2H468.4V195.5H469.4V196.1H470.4V195.3H471.4V200.9H472.4V196.8H473.4V197.6H474.4V194.6H476.4V195H477.4V195.6H478.4V198.7H479.4V194.6H480.4V199.2H481.4V194.6H483.4V199H484.4V200.7H485.4V196.5H486.4V194.7H487.4V196H488.4V194.6H490.4V197.3H491.4V197.7H492.4V194.6H494.4V195.6H495.4V199H496.4V201.9H497.4V194.7H498.4V199.1H499.4V194.6H502.4V200.5H503.4V198.1H504.4V194.6H505.4V197H506.4V194.6H507.4V196.6H508.4V194.6H509.4V196.3H510.4V194.6H511.4V202.9H512.4V194.6H513.4V200.2H514.4V194.6H515.4V198.4H516.4V202H517.4V196.4H518.4V200.4H519.4V196H520.4V205H521.4V196.4H522.4V194.6H523.4V200H524.4V194.6H525.4V194.9H526.4V195.4H527.4V200.5H528.4V197H529.4V198.8H530.4V201.8H531.4V205.1H532.4V201.5H533.4V197.1H534.4V199.2H535.4V200.3H536.4V203H537.4V200.9H538.4V201.7H539.4V199.5H540.4V203.3H541.4V202.4H542.4V200.7H543.4V198.1H544.4V197.8H545.4V199H546.4V200.9H547.4V200.7H548.4V196.8H549.4V197.8H550.4V194.6H552.4V197.8H553.4V201.1H554.4V202.3H555.4V194.6H556.4V200.5H557.4V194.6H558.4V204.3H559.4V194.6H560.4V196.6H561.4V197.6H562.4V202H563.4V196.8H564.4V194.6H565.4V196.9H566.4V197.7H567.4V197.2H568.4V196.5H569.4V194.6H570.4V200.7H571.4V197.9H572.4V195.2H573.4V194.6H576.4V196.1H577.4V194.6H578.4V195.7H579.4V196.9H580.4V199.9H581.4V200.3H582.4V203.7H583.4V194.6H584.4V198H585.4V194.6H586.4V196.2H587.4V194.6H588.4V201.4H589.4V199.9H590.4V194.6H591.4V207.4H592.4V194.6H593.4V206.7H594.4V210.1H595.4V212.8H596.4V194.6H597.4V200.1H598.4V194.6H599.4V197.4H600.4V202.1H601.4V207.7H602.4V198.6H603.4V197.2H604.4V204.5H605.4V194.6H607.4V195.5H608.4V197.8H609.4V196.8H610.4V216.6H611.4V194.6H615.4V201H616.4V199.7H617.4V194.6H685V229.1Z" fill="#E89600"/>
<path d="M39.4,229.1H39.4V204.6H40.4V206.7H41.4V206.3H42.4V205.5H43.4V202.4H44.4V203.7H45.4V204.3H46.4V207.1H47.4V202H48.4V204.1H49.4V207.6H50.4V198.4H51.4V199.6H52.4V199.8H53.4V197.9H54.4V207.6H55.4V198.2H56.4V199.7H57.4V201.1H58.4V199.1H59.4V200.2H60.4V200.1H61.4V199.2H62.4V199.9H63.4V201.1H64.4V199.7H65.4V199.9H66.4V201.5H67.4V200.1H68.4V199H69.4V198.8H70.4V198.1H71.4V200.7H72.4V201.8H73.4V201.5H74.4V199.9H75.4V200.9H76.4V205.5H77.4V199.8H78.4V198.7H79.4V201.6H80.4V202.8H81.4V200.6H82.4V199.2H84.4V200.9H85.4V201.1H86.4V198H87.4V201.4H88.4V200.5H89.4V198.1H90.4V201.6H91.4V198.6H92.4V199.9H93.4V199.4H94.4V198.8H95.4V201.2H96.4V205.6H97.4V201.7H98.4V204.5H99.4V199.9H100.4V199.2H101.4V200.4H102.4V199.6H103.4V200.5H104.4V199.5H105.4V203H106.4V200.7H107.4V199.6H108.4V197.9H109.4V199.6H110.4V199.2H111.4V201.4H112.4V200.5H114.4V200.8H115.4V196.3H116.4V203.6H117.4V206.2H118.4V205.1H119.4V203.2H120.4V195.3H121.4V195.8H122.4V195.1H123.4V195.7H124.4V195.2H125.4V196.3H126.4V195.9H127.4V196H128.4V195.3H129.4V196H130.4V195.7H131.4V195.8H132.4V195.7H133.4V195.5H134.4V195.8H135.4V195.5H136.4V195.9H137.4V196.1H138.4V195.5H139.4V195.8H140.4V195.7H141.4V195.6H142.4V196.3H143.4V195.2H145.4V195.6H146.4V195.8H147.4V195.3H148.4V195.2H149.4V195H150.4V195.6H151.4V195.4H152.4V195.1H153.4V196.6H154.4V195.3H155.4V196.3H156.4V196.5H157.4V195.6H158.4V195.5H159.4V195.7H160.4V195.2H161.4V195.6H162.4V195.3H163.4V197.1H164.4V195.4H165.4V196H166.4V196.3H167.4V195.8H168.4V195.9H169.4V194.9H170.4V195.4H171.4V195.9H172.4V194.8H173.4V196H174.4V195.9H175.4V194.8H176.4V195.1H177.4V195.7H178.4V195.2H179.4V195.4H180.4V196.3H181.4V196.5H182.4V195.7H183.4V196H184.4V197.5H185.4V194.9H186.4V195.5H187.4V195.3H188.4V195.5H189.4V195.6H190.4V199.3H191.4V201.8H192.4V198.4H193.4V195H194.4V197.6H195.4V199.1H196.4V198.7H197.4V198H198.4V198.1H200.4V197.3H201.4V202.1H202.4V196.9H203.4V199.3H204.4V204.1H205.4V195.7H206.4V197.9H207.4V198H208.4V197.3H209.4V197H210.4V202.2H211.4V199H212.4V200.8H213.4V199.6H214.4V198.2H215.4V197.5H217.4V196.2H218.4V199.7H219.4V199.6H220.4V198.7H221.4V201.3H222.4V200.1H223.4V198.6H224.4V200.6H225.4V195.8H226.4V196.1H227.4V196.3H229.4V197.1H230.4V195.3H231.4V196H232.4V196.1H233.4V197.1H234.4V195.8H235.4V197.1H236.4V196.8H237.4V195.4H238.4V195.3H239.4V196.5H240.4V198.6H241.4V196.3H242.4V197.6H243.4V202.6H244.4V198.1H245.4V198.3H246.4V196.1H247.4V197.1H248.4V197.6H249.4V197H250.4V198.8H251.4V197.4H252.4V201H253.4V197.7H254.4V200.6H255.4V201.3H256.4V200.2H257.4V197.5H258.4V198.4H259.4V202.1H260.4V197.6H261.4V201.2H262.4V200H263.4V194.6H264.4V196.7H265.4V200.8H266.4V200.7H267.4V196.8H268.4V196.9H269.4V202H270.4V199H271.4V197.9H272.4V200.2H273.4V196.2H274.4V200.9H275.4V196.4H276.4V200.6H277.4V198.7H278.4V199.1H279.4V201.9H280.4V197.7H281.4V199.4H282.4V197.2H283.4V197.4H284.4V197.7H285.4V196.6H286.4V200.1H287.4V196.8H288.4V198.8H289.4V198.1H290.4V215.4H291.4V214.4H292.4V216.3H293.4V216.4H294.4V215.2H295.4V211.4H296.4V227.5H297.4V228H298.4V227.5H299.4V228.5H300.4V220.5H301.4V229.1H304.4V226.9H305.4V222H306.4V228.6H307.4V228.7H308.4V220.5H309.4V224.2H310.4V228H311.4V227.2H312.4V226.2H313.4V223.9H314.4V226.1H315.4V228.9H316.4V228.8H317.4V228.9H319.4V228.1H320.4V228.8H321.4V229.1H322.4V228.8H323.4V228.2H324.4V228.9H325.4V228.8H326.4V228H327.4V229H328.4V228.4H329.4V229H330.4V228.7H331.4V228.1H332.4V228.5H334.4V228.2H335.4V228.4H336.4V228.8H338.4V228.1H339.4V228.6H340.4V229H341.4V228.4H342.4V229.1H343.4V228.5H344.4V228.8H345.4V228.1H346.4V221.8H347.4V221.2H348.4V223.4H349.4V226.6H350.4V218.9H351.4V220.1H352.4V222.4H353.4V220.8H354.4V218.7H355.4V222.1H356.4V222.3H357.4V226.4H358.4V227.2H359.4V219.6H360.4V226.7H361.4V224.4H362.4V222.4H363.4V229.1H364.4V227.9H365.4V228.8H366.4V222.5H367.4V221.3H368.4V228.8H369.4V223H370.4V225.8H371.4V223.6H372.4V223.5H373.4V225.8H374.4V226.2H375.4V223.3H376.4V218.2H377.4V219.4H378.4V224.5H379.4V228H380.4V226.9H381.4V228.5H382.4V229.1H384.4V227.9H385.4V227.3H386.4V228.2H387.4V229H388.4V228.2H389.4V229.1H390.4V228.2H391.4V228.5H392.4V227.7H393.4V229.1H394.4V228.3H395.4V229.1H396.4V228.2H397.4V225.3H398.4V228.1H399.4V224.7H400.4V225.8H401.4V226.5H402.4V223.7H403.4V226.7H404.4V224.5H405.4V226.3H406.4V227.9H407.4V227.5H408.4V225.2H409.4V224.5H410.4V221.9H411.4V224.5H412.4V227.3H413.4V223.9H414.4V225.1H415.4V227.7H416.4V222.7H417.4V227.6H418.4V223.6H419.4V224.3H420.4V226.5H421.4V225.5H422.4V223.6H423.4V224.4H424.4V225.2H425.4V225.6H426.4V225.1H427.4V227.1H428.4V224.6H429.4V226H430.4V222.5H431.4V225.7H432.4V226.8H433.4V223.8H434.4V223.1H435.4V226.9H436.4V227H437.4V225.8H438.4V225.2H439.4V228.1H440.4V225.6H441.4V228.1H442.4V218.6H443.4V225H444.4V229.1H446.4V227.7H447.4V223H448.4V225.2H449.4V227.6H450.4V228.8H451.4V216.9H452.4V226.8H453.4V228.2H454.4V224.3H455.4V228.5H456.4V222.1H457.4V226.8H458.4V228.6H459.4V224.7H460.4V224.6H461.4V228.4H462.4V229.1H463.4V224.8H464.4V223.6H465.4V227.6H466.4V223.9H467.4V227.5H468.4V227.1H469.4V227.4H470.4V227.8H471.4V226.6H472.4V226.7H473.4V228H474.4V220.3H475.4V224.8H476.4V223.3H477.4V226.3H478.4V228.5H479.4V225H480.4V226.5H481.4V220.3H482.4V225.1H483.4V228.2H484.4V228.7H485.4V226.5H486.4V226.9H487.4V228.3H488.4V226.9H490.4V228.6H491.4V228.3H492.4V225.9H493.4V227H494.4V227.8H495.4V228.5H496.4V228.1H497.4V228H498.4V229.1H499.4V227.3H500.4V223.2H501.4V222.2H502.4V228H503.4V225.1H504.4V225.5H505.4V223.2H507.4V225.1H508.4V222.5H509.4V223.9H510.4V223.2H511.4V228.5H512.4V224.8H513.4V227.2H514.4V219.7H515.4V227.8H516.4V228H517.4V222.2H518.4V228H519.4V225.3H520.4V228.5H521.4V225.4H522.4V221.5H523.4V227.9H524.4V222.1H525.4V222.9H526.4V224.1H527.4V224.9H528.4V220.5H529.4V221.3H530.4V223.1H531.4V225.4H532.4V223.7H533.4V222.3H534.4V223.7H535.4V224H536.4V224.9H538.4V224.4H539.4V222.8H540.4V224.5H541.4V221.9H542.4V221.5H543.4V219.6H544.4V222.9H545.4V225.1H546.4V222.5H547.4V224H548.4V219.9H549.4V218.1H550.4V213.7H551.4V217.7H552.4V219.7H553.4V220.8H554.4V221.1H555.4V217.2H556.4V222H557.4V211.6H558.4V221.4H559.4V215.7H560.4V218H561.4V217.9H562.4V221.1H563.4V216.7H564.4V217H565.4V219.1H566.4V217.8H567.4V216H568.4V217.4H569.4V212.5H570.4V221.7H571.4V223.9H572.4V213.1H573.4V212.4H574.4V207H575.4V208.8H576.4V211.9H577.4V207.1H578.4V208.8H579.4V212.1H580.4V210.7H581.4V213.4H582.4V219.4H583.4V212.9H584.4V213.9H585.4V209.4H586.4V211H587.4V206.9H588.4V215.4H589.4V214.9H590.4V206.7H591.4V213H592.4V209.6H593.4V216.6H594.4V213.2H595.4V224.6H596.4V205.6H597.4V209.3H598.4V203.4H599.4V210.6H600.4V207.2H601.4V214.9H602.4V205.1H603.4V203.4H604.4V210.8H605.4V203.7H606.4V202H607.4V206.6H608.4V206.9H609.4V207.7H610.4V228.4H611.4V209.8H612.4V204H613.4V196.9H614.4V200.5H615.4V205.9H616.4V205.2H617.4V204.8H618.4V194.6H685V229.1Z" fill="#0068AC"/>
<path d="M39.4,229.1H39.4V208.9H40.4V210.5H41.4V211.9H42.4V210.1H43.4V205.1H44.4V212.5H45.4V209.4H46.4V207.1H47.4V205.2H48.4V204.1H49.4V208H50.4V201.2H51.4V199.6H52.4V203.2H53.4V197.9H54.4V208.1H55.4V200.9H56.4V202.6H57.4V201.1H58.4V201.3H59.4V203.2H60.4V201.3H61.4V199.7H62.4V203.8H63.4V201.1H64.4V200.9H65.4V199.9H66.4V201.5H67.4V200.1H68.4V199H69.4V198.8H70.4V199.9H71.4V200.7H72.4V201.8H73.4V204H74.4V200.1H75.4V201.5H76.4V205.5H77.4V200.8H78.4V199.4H79.4V203H80.4V202.8H81.4V200.6H82.4V201.6H83.4V200.1H84.4V202.5H85.4V201.1H86.4V201.8H87.4V203.9H88.4V201H89.4V199.9H90.4V203.2H91.4V200.1H92.4V200.6H93.4V202.1H94.4V202.5H95.4V207.9H96.4V212.4H97.4V209.8H98.4V206.7H99.4V207.2H100.4V199.2H101.4V200.7H102.4V202H103.4V200.6H104.4V200H105.4V203H106.4V201.2H107.4V199.7H108.4V205.3H109.4V202H110.4V201.7H111.4V201.4H112.4V200.5H113.4V201.7H114.4V200.8H115.4V200.1H116.4V203.6H117.4V206.9H118.4V206.3H119.4V203.2H120.4V195.3H121.4V195.8H122.4V195.4H123.4V195.7H124.4V195.4H125.4V196.3H126.4V195.9H127.4V196.2H128.4V195.5H129.4V196H130.4V195.8H132.4V195.7H133.4V195.5H134.4V195.8H135.4V195.6H136.4V196H137.4V196.1H138.4V195.5H139.4V196H140.4V195.7H141.4V195.6H142.4V196.5H143.4V195.4H144.4V195.2H145.4V195.8H147.4V195.3H148.4V195.2H149.4V195.3H150.4V195.6H151.4V195.5H152.4V195.1H153.4V196.8H154.4V195.7H155.4V196.3H156.4V196.5H157.4V195.8H158.4V195.5H159.4V195.8H160.4V195.4H161.4V195.8H162.4V195.4H163.4V197.2H164.4V195.5H165.4V196H166.4V196.4H167.4V195.9H169.4V194.9H170.4V195.5H171.4V196.2H172.4V194.8H173.4V196.1H174.4V195.9H175.4V194.9H176.4V195.1H177.4V195.7H178.4V195.2H179.4V195.5H180.4V196.6H181.4V196.5H182.4V195.7H183.4V196H184.4V197.5H185.4V194.9H186.4V195.7H187.4V195.5H189.4V195.6H190.4V201.4H191.4V201.8H192.4V203H193.4V197.3H194.4V198.8H195.4V201.5H196.4V198.7H197.4V198.6H198.4V201.1H199.4V200.5H200.4V201.3H201.4V202.1H202.4V198.8H203.4V199.3H204.4V207H205.4V202.8H206.4V199.2H207.4V201.9H208.4V199.3H209.4V199H210.4V202.2H211.4V200.5H212.4V200.8H213.4V200H214.4V201.1H215.4V202.5H216.4V198.5H217.4V197.6H218.4V199.7H219.4V200.3H220.4V199.6H221.4V201.3H222.4V200.5H223.4V198.6H224.4V200.8H225.4V196.2H226.4V196.4H228.4V196.3H229.4V197.1H230.4V195.5H231.4V196H232.4V196.3H233.4V197.1H234.4V196.1H235.4V197.1H236.4V196.8H237.4V195.7H238.4V195.5H239.4V196.7H240.4V198.6H242.4V197.6H243.4V203.7H244.4V198.1H245.4V201.6H246.4V199.6H247.4V201.6H248.4V198H249.4V198.8H250.4V200.5H251.4V198.4H252.4V201H253.4V198.1H254.4V200.6H255.4V203.1H256.4V200.7H257.4V201.4H258.4V200.4H259.4V204.3H260.4V199.2H261.4V202.2H262.4V200.8H263.4V197H264.4V198.4H265.4V200.8H266.4V202.3H267.4V199.4H268.4V197.2H269.4V202.7H270.4V200.4H271.4V198.5H272.4V200.2H273.4V198.7H274.4V201.2H275.4V198.1H276.4V200.6H277.4V202.8H278.4V201.7H279.4V201.9H280.4V199.8H281.4V199.5H282.4V200H283.4V199.3H284.4V197.7H285.4V197.9H286.4V202.5H287.4V197.6H288.4V198.8H289.4V198.1H290.4V218.2H291.4V217.5H292.4V217.6H293.4V218.7H294.4V218.2H295.4V212.7H296.4V229H297.4V228H298.4V229.1H300.4V223.7H301.4V229.1H304.4V227.9H305.4V229.1H306.4V228.6H307.4V229.1H308.4V220.5H309.4V224.2H310.4V228H311.4V229H312.4V226.2H313.4V225H314.4V229.1H315.4V228.9H316.4V228.8H317.4V228.9H319.4V228.1H320.4V228.8H321.4V229.1H323.4V228.2H324.4V229H325.4V228.8H326.4V228H327.4V229.1H328.4V228.5H329.4V229.1H330.4V228.7H331.4V228.1H332.4V228.7H333.4V228.5H334.4V228.3H335.4V228.5H336.4V229H337.4V228.8H338.4V228.1H339.4V228.6H340.4V229.1H341.4V228.5H342.4V229.1H343.4V228.6H344.4V228.9H345.4V228.1H346.4V227.1H347.4V224.2H348.4V223.7H349.4V226.9H350.4V221.8H351.4V220.1H352.4V222.5H353.4V226.7H354.4V220H355.4V225.1H356.4V226.8H357.4V226.5H358.4V227.4H359.4V225.1H360.4V226.9H361.4V229.1H362.4V224.6H363.4V229.1H364.4V227.9H365.4V229.1H366.4V227.9H367.4V222H368.4V228.8H369.4V223H370.4V225.8H371.4V228.1H372.4V223.5H373.4V229.1H374.4V228.1H375.4V229.1H376.4V221.9H377.4V219.4H378.4V224.5H379.4V228.3H380.4V227.6H381.4V228.5H382.4V229.1H384.4V228.1H385.4V227.3H386.4V228.4H387.4V229.1H388.4V228.6H389.4V229.1H390.4V228.2H391.4V228.5H392.4V228.2H393.4V229.1H394.4V228.5H395.4V229.1H396.4V228.4H397.4V227.6H398.4V228.2H399.4V228.3H400.4V229.1H401.4V226.8H402.4V228H403.4V229.1H405.4V227.8H406.4V229.1H409.4V226.5H410.4V223.6H411.4V227.9H412.4V229.1H413.4V227.2H415.4V227.7H416.4V227.8H417.4V228.4H418.4V228.9H419.4V227.9H420.4V228.9H421.4V229.1H423.4V227.2H424.4V229.1H425.4V228.3H426.4V227.3H427.4V229.1H428.4V226.4H429.4V229.1H430.4V226.6H431.4V229.1H432.4V228.5H433.4V227.2H434.4V227.5H435.4V229H436.4V228.2H437.4V228.7H438.4V229.1H440.4V227.6H441.4V229.1H442.4V228.7H443.4V227.5H444.4V229.1H447.4V225.7H448.4V228H449.4V227.6H450.4V228.8H451.4V222H452.4V229.1H453.4V228.3H454.4V224.3H455.4V228.6H456.4V222.1H457.4V226.8H458.4V229.1H459.4V224.8H460.4V224.6H461.4V228.9H462.4V229.1H463.4V225.9H464.4V223.6H465.4V227.6H466.4V223.9H467.4V227.5H468.4V227.2H469.4V227.4H470.4V227.9H471.4V226.8H472.4V226.7H473.4V228H474.4V220.5H475.4V224.8H476.4V223.3H477.4V226.3H478.4V228.5H479.4V225H480.4V228H481.4V220.3H482.4V226H483.4V228.3H484.4V228.7H485.4V226.9H487.4V228.4H488.4V226.9H489.4V227.1H490.4V228.6H491.4V228.4H492.4V226.3H493.4V227H494.4V227.8H495.4V228.7H496.4V228.1H497.4V228.3H498.4V229.1H499.4V227.9H500.4V223.2H501.4V222.6H502.4V228H503.4V225.1H504.4V225.9H505.4V223.2H506.4V223.5H507.4V226H508.4V222.7H509.4V224.3H510.4V223.2H511.4V229.1H512.4V225.6H513.4V227.4H514.4V219.9H515.4V227.8H516.4V228H517.4V222.3H518.4V228H519.4V227.1H520.4V228.5H521.4V225.4H522.4V221.5H523.4V227.9H524.4V222.7H525.4V222.9H526.4V224.3H527.4V226.9H528.4V225.4H529.4V227.8H530.4V226.8H531.4V228.4H532.4V229.1H533.4V226.7H534.4V227.4H535.4V228.7H536.4V227.5H537.4V229.1H539.4V227.5H540.4V227.4H541.4V227.1H542.4V229H543.4V229.1H544.4V225.8H545.4V229.1H546.4V228.2H547.4V227.7H549.4V224.2H550.4V225.3H551.4V226.8H552.4V228.5H553.4V229.1H555.4V225.7H556.4V229.1H557.4V218.4H558.4V229.1H559.4V224H560.4V228.3H561.4V229.1H563.4V223.1H564.4V229H565.4V228.8H566.4V229.1H567.4V224.2H568.4V226.4H569.4V224.9H570.4V229.1H572.4V226.9H573.4V223.9H574.4V226H575.4V226.2H576.4V229.1H577.4V223.9H578.4V226.8H579.4V226.4H580.4V229.1H581.4V227.6H582.4V226.9H583.4V229.1H584.4V228.9H585.4V226.4H586.4V229.1H587.4V222.1H588.4V228.6H589.4V228.9H590.4V229.1H591.4V227.1H592.4V227.3H593.4V229.1H596.4V225.6H597.4V229.1H598.4V225.1H599.4V229.1H600.4V226.4H601.4V229.1H603.4V228.4H604.4V229.1H605.4V220.6H606.4V227.2H607.4V229.1H608.4V226H609.4V228.9H610.4V229.1H612.4V227.7H613.4V226H614.4V222.6H615.4V227.4H616.4V229.1H617.4V228.1H618.4V229.1H685V229.1Z" fill="#006838"/>
<rect x="39.4" y="232.5" width="645.6" height="34.40" fill="#56207C"/>
<path d="M39.4,266.9H39.4V238.2H40.4V232.5H41.4V233.8H42.4V232.5H44.4V234.1H45.4V234.3H46.4V232.5H47.4V238.3H48.4V238.1H49.4V240.9H50.4V233.4H51.4V233.2H52.4V232.5H53.4V237.2H54.4V232.5H56.4V235.1H57.4V232.5H59.4V232.6H60.4V234.6H61.4V232.5H63.4V234.2H64.4V234.5H65.4V232.6H66.4V232.5H70.4V235.7H71.4V232.5H73.4V232.9H74.4V232.5H78.4V239.4H79.4V234.7H80.4V237.5H81.4V232.5H83.4V237.5H84.4V232.5H85.4V232.6H86.4V232.5H88.4V237.2H89.4V235.6H90.4V234.3H91.4V232.5H93.4V234.1H94.4V232.5H95.4V239.6H96.4V233.8H97.4V236.2H98.4V242.4H99.4V232.5H102.4V235.8H103.4V235.4H104.4V236.2H105.4V236.4H106.4V238H107.4V232.5H109.4V236.8H110.4V232.5H112.4V235.1H113.4V232.5H116.4V233H117.4V235.3H118.4V236.6H119.4V232.5H121.4V232.7H122.4V234.8H123.4V233.2H124.4V233.4H126.4V233.5H127.4V233.7H128.4V234.9H129.4V232.5H130.4V233.5H131.4V233.3H132.4V232.9H133.4V232.8H134.4V233.3H135.4V233.1H136.4V233.9H137.4V233.2H138.4V234.1H139.4V232.5H140.4V232.8H141.4V232.5H142.4V235H143.4V232.5H144.4V232.8H145.4V233.1H146.4V233.4H147.4V232.5H149.4V234H150.4V233.1H151.4V233.5H152.4V232.5H153.4V233H154.4V234.5H155.4V233.9H156.4V232.6H157.4V233H158.4V233.1H159.4V233.3H160.4V232.5H162.4V233.5H163.4V232.9H164.4V232.5H165.4V232.7H166.4V233.2H167.4V233.7H168.4V232.7H169.4V233.6H170.4V233.4H171.4V234H172.4V232.8H173.4V233H175.4V232.5H176.4V232.6H177.4V233H178.4V233.9H179.4V232.7H180.4V233.5H181.4V233.2H182.4V232.5H184.4V233.3H185.4V233.9H186.4V234H187.4V232.5H188.4V233.6H189.4V233.2H190.4V234.8H191.4V232.5H194.4V234.7H195.4V233.3H196.4V232.5H197.4V233H198.4V235.7H199.4V232.5H201.4V235.6H202.4V232.5H206.4V232.8H207.4V233.8H208.4V232.5H209.4V237.3H210.4V232.7H211.4V232.5H213.4V236.5H214.4V232.5H216.4V234H217.4V232.5H218.4V235.6H219.4V232.5H220.4V233.5H221.4V232.5H223.4V233.7H224.4V234.1H225.4V233.6H226.4V235.1H227.4V232.5H228.4V234.5H229.4V234H230.4V233.8H231.4V232.5H232.4V234.2H233.4V233.5H234.4V233.3H235.4V234.5H236.4V233.8H237.4V232.8H238.4V234H239.4V232.5H240.4V235.9H241.4V236.4H242.4V233.8H243.4V233.6H244.4V232.5H252.4V232.9H253.4V236.1H254.4V232.5H255.4V232.7H256.4V232.5H258.4V234H259.4V232.5H261.4V236.7H262.4V236.1H263.4V232.5H265.4V236.8H266.4V232.5H275.4V235.1H276.4V237.5H277.4V238.1H278.4V232.5H279.4V235.1H280.4V232.5H281.4V234.1H282.4V232.5H283.4V236.4H284.4V234H285.4V233.4H286.4V232.5H287.4V233.1H288.4V232.5H289.4V238.4H290.4V238.6H291.4V241.4H292.4V245H293.4V242.6H294.4V232.5H295.4V246.3H296.4V246.9H297.4V254.3H298.4V247.2H299.4V247.8H300.4V241.1H301.4V255.1H302.4V259.4H303.4V246.1H304.4V251.6H305.4V248.3H306.4V247.3H307.4V258.9H308.4V249.7H309.4V252.4H310.4V253H311.4V249.8H312.4V248.5H313.4V243.8H314.4V262.1H315.4V264.8H316.4V265.6H317.4V266.3H318.4V266H319.4V265H320.4V265.1H321.4V264.9H322.4V265.9H323.4V266.2H324.4V265.9H325.4V266.9H326.4V266.1H327.4V265.1H328.4V266.2H329.4V265.7H330.4V266.2H331.4V266.3H332.4V265.3H333.4V265.5H334.4V265H335.4V265.4H336.4V266H337.4V265.3H338.4V266.3H339.4V266.2H340.4V265.5H341.4V265.7H342.4V264.6H343.4V266.2H344.4V265.7H345.4V265.4H346.4V238.7H347.4V243.9H348.4V237.2H349.4V232.5H351.4V232.9H352.4V234.5H353.4V234.7H354.4V238.9H355.4V232.5H356.4V239.5H357.4V241.3H358.4V247.9H359.4V234.3H360.4V245.3H361.4V246.2H362.4V252.8H363.4V240H364.4V241H365.4V245.8H366.4V238.9H367.4V241.1H368.4V247.9H369.4V247.5H370.4V238.3H371.4V239.2H372.4V241.6H373.4V246.4H374.4V248.2H375.4V245.3H376.4V246H377.4V240.7H378.4V254.4H379.4V246.8H380.4V260.5H381.4V233.2H382.4V232.5H383.4V233.9H384.4V232.5H385.4V234.2H386.4V232.5H387.4V235.5H388.4V232.5H389.4V233.7H390.4V232.6H391.4V233.9H392.4V233.6H393.4V234.2H394.4V233.2H395.4V233.5H396.4V241.2H397.4V232.5H399.4V233.2H400.4V232.8H401.4V232.5H402.4V233.7H403.4V234.3H404.4V232.5H405.4V234.7H406.4V232.5H407.4V238.2H408.4V232.5H409.4V235.6H410.4V232.5H411.4V236.9H412.4V233H413.4V240.4H414.4V234H415.4V233.8H416.4V234.7H417.4V232.5H418.4V233.1H419.4V234.8H420.4V235.2H421.4V236H422.4V236.2H423.4V234.6H424.4V235.5H425.4V232.5H428.4V235.5H429.4V232.9H430.4V235.7H431.4V232.5H432.4V232.7H433.4V232.5H434.4V239.4H435.4V232.5H436.4V234.9H437.4V237.1H438.4V232.5H439.4V237.3H440.4V242.2H441.4V237.8H442.4V237.9H443.4V240H444.4V241H445.4V242.1H446.4V234.8H447.4V233.8H448.4V236.3H449.4V240.2H450.4V237.3H451.4V233.2H452.4V237.5H453.4V236.7H454.4V235.5H455.4V232.5H456.4V234H457.4V236.2H458.4V237.3H459.4V237.5H460.4V232.5H461.4V237.9H462.4V232.5H463.4V236H464.4V240.9H465.4V239.3H466.4V233.4H467.4V235.8H468.4V235.5H469.4V239.7H470.4V232.5H471.4V242.6H472.4V233.9H473.4V232.5H474.4V233.3H475.4V235.6H476.4V232.5H477.4V233H478.4V232.5H482.4V237.7H483.4V232.5H484.4V242.1H485.4V232.5H486.4V232.8H487.4V232.5H488.4V232.8H489.4V236.4H490.4V234H491.4V232.8H492.4V233.4H493.4V234.3H494.4V237H495.4V235.3H496.4V234.3H497.4V235.3H498.4V234.9H499.4V236.4H500.4V233.7H501.4V236.7H502.4V232.5H505.4V236.8H506.4V232.5H508.4V235.2H509.4V236.6H510.4V235.4H511.4V232.5H516.4V240.1H517.4V235.1H518.4V234.9H519.4V232.5H520.4V233.1H521.4V233H522.4V232.5H523.4V236.7H524.4V232.5H525.4V234.7H526.4V232.5H527.4V237.7H528.4V236.3H529.4V238.2H530.4V235.1H531.4V241.9H532.4V240.9H533.4V234.5H534.4V235.4H535.4V237.2H536.4V232.5H537.4V240.3H538.4V241H539.4V239.1H540.4V236.1H541.4V232.5H542.4V239.7H543.4V238.2H544.4V234.8H545.4V233.8H546.4V236.5H547.4V232.5H548.4V239.4H549.4V232.5H550.4V236.9H551.4V232.5H552.4V232.9H553.4V233.6H554.4V243.8H555.4V240.2H556.4V238.6H557.4V235.3H558.4V235.7H559.4V237H560.4V236.7H561.4V236.3H562.4V237.3H563.4V234.7H564.4V232.5H565.4V238.5H566.4V235.6H567.4V233.2H568.4V232.5H569.4V235.7H570.4V235.2H571.4V246.9H572.4V232.5H573.4V235H574.4V232.5H576.4V237.9H577.4V236.3H578.4V240.6H579.4V238.1H580.4V232.5H584.4V235.1H585.4V233.7H586.4V235.5H587.4V232.5H588.4V236.2H589.4V232.5H591.4V241.9H592.4V232.5H593.4V236.7H594.4V234.2H595.4V246.1H596.4V234.4H597.4V243.4H598.4V232.5H600.4V235H601.4V232.5H602.4V236.3H603.4V232.5H604.4V237.6H605.4V241.9H606.4V232.5H608.4V234.3H609.4V232.5H610.4V239.3H611.4V236.8H612.4V241.4H613.4V242.8H614.4V239H615.4V232.5H617.4V232.6H618.4V232.5H685V266.9Z" fill="#EAB6C0"/>
<path d="M39.4,266.9H39.4V241.2H40.4V232.5H41.4V233.8H42.4V236.2H43.4V237.3H44.4V241.4H45.4V235.3H46.4V238.6H47.4V241.9H48.4V239.7H49.4V241.2H50.4V234.4H51.4V236.1H52.4V235.2H53.4V237.2H54.4V235.8H55.4V237H56.4V235.1H57.4V232.5H58.4V233.3H59.4V233.8H60.4V234.6H61.4V234H62.4V232.5H63.4V234.2H64.4V234.5H65.4V232.6H66.4V235.1H67.4V234.3H68.4V233.1H69.4V232.5H70.4V235.7H71.4V235H72.4V234.3H73.4V232.9H74.4V235.7H75.4V234H76.4V232.9H77.4V234.1H78.4V239.4H79.4V234.7H80.4V237.5H81.4V233.1H82.4V232.5H83.4V238.3H84.4V235.6H85.4V234H86.4V235.4H87.4V235.2H88.4V237.2H89.4V235.6H90.4V234.3H91.4V232.5H92.4V235.8H93.4V235.1H94.4V234H95.4V239.6H96.4V234.2H97.4V237.9H98.4V243.2H99.4V232.5H100.4V234H101.4V232.5H102.4V235.8H103.4V235.4H104.4V236.2H105.4V237.1H106.4V238H107.4V235.4H108.4V236.7H109.4V236.8H110.4V234.3H111.4V232.5H112.4V236.9H113.4V233.5H114.4V235.5H115.4V232.5H116.4V235.9H117.4V235.3H118.4V236.6H119.4V238.7H120.4V232.6H121.4V233.7H122.4V234.9H123.4V233.5H124.4V233.8H125.4V234H127.4V234.1H128.4V235.7H129.4V234.4H130.4V233.5H131.4V233.9H132.4V233.3H133.4V233.9H134.4V233.3H135.4V233.6H136.4V233.9H137.4V233.4H138.4V234.1H139.4V234.9H140.4V232.8H141.4V233.9H142.4V235H143.4V234H144.4V233.4H145.4V233.9H146.4V233.8H147.4V233H148.4V233.2H149.4V234.1H150.4V233.9H152.4V233.5H153.4V234.3H154.4V234.7H155.4V233.9H156.4V233.8H157.4V233.9H158.4V233.6H159.4V233.8H160.4V233.4H161.4V233.1H162.4V233.8H163.4V234H164.4V232.9H165.4V233.9H166.4V234.1H167.4V234H168.4V234.5H169.4V233.8H170.4V233.9H171.4V234H172.4V233.7H173.4V233H174.4V233.4H175.4V234.6H176.4V233.5H177.4V233.7H178.4V234.8H179.4V233.3H180.4V234.2H181.4V233.5H182.4V233.3H183.4V234.1H184.4V234.2H185.4V234.1H186.4V234.3H187.4V233H188.4V233.7H189.4V234H190.4V235.4H191.4V235.8H192.4V232.5H193.4V232.9H194.4V237H195.4V233.9H196.4V232.5H197.4V234.2H198.4V235.7H199.4V232.5H200.4V236.4H201.4V235.6H202.4V234.9H203.4V235.1H204.4V233.7H205.4V233.3H206.4V233.2H207.4V234.1H208.4V236H209.4V237.5H210.4V234.1H211.4V235.2H212.4V232.5H213.4V238.8H214.4V232.5H215.4V234.1H216.4V234H217.4V233.1H218.4V235.9H219.4V232.5H220.4V233.8H221.4V232.6H222.4V232.5H223.4V234.5H225.4V234.6H226.4V235.1H227.4V233.5H228.4V234.5H229.4V234H230.4V234.4H231.4V232.9H232.4V234.2H233.4V235H234.4V233.9H235.4V234.5H236.4V234.8H237.4V234.5H238.4V234H239.4V236.2H240.4V235.9H241.4V236.4H242.4V235.9H243.4V233.6H244.4V232.5H245.4V235.1H246.4V234.2H247.4V233.3H248.4V233.2H249.4V233.7H250.4V232.5H251.4V234.7H252.4V232.9H253.4V236.1H254.4V233.9H255.4V232.7H256.4V232.5H257.4V236.3H258.4V235.9H259.4V233.9H260.4V232.7H261.4V236.7H263.4V233.1H264.4V236.1H265.4V236.9H266.4V235.8H267.4V236.2H268.4V232.5H269.4V234H270.4V232.5H272.4V235.4H273.4V233.7H274.4V233H275.4V236.3H276.4V237.5H277.4V238.1H278.4V235H279.4V238.2H280.4V232.5H281.4V236.8H282.4V233.5H283.4V237.5H284.4V235.3H285.4V233.4H286.4V235.7H287.4V233.1H288.4V235.7H289.4V238.4H290.4V249.1H291.4V247.6H292.4V254.4H293.4V253H294.4V250.8H295.4V252.5H296.4V261.8H297.4V266.9H298.4V265.7H299.4V260.3H301.4V264H302.4V265.6H303.4V260.2H304.4V265.8H305.4V255.3H306.4V257.6H307.4V266H308.4V262.3H309.4V259.8H310.4V264.2H311.4V261.1H312.4V264.6H313.4V264.9H314.4V266.9H315.4V266H317.4V266.6H318.4V266.5H319.4V265.7H320.4V266.1H321.4V266.8H322.4V266.4H323.4V266.2H324.4V266.5H325.4V266.9H326.4V266.7H327.4V265.9H328.4V266.7H329.4V265.9H330.4V266.6H331.4V266.4H332.4V266.9H333.4V266.4H334.4V265.4H335.4V266.2H336.4V266.8H337.4V266.3H338.4V266.7H339.4V266.8H340.4V266.6H341.4V266H342.4V265.5H343.4V266.5H345.4V266.4H346.4V239.7H347.4V245.1H348.4V241.7H349.4V243H350.4V237H351.4V238.2H352.4V240.5H353.4V240.3H354.4V242.2H355.4V236.1H356.4V240.8H357.4V245.7H358.4V251H359.4V241.1H360.4V251.2H361.4V246.5H362.4V252.8H363.4V240.3H364.4V244H365.4V246.3H366.4V240.5H367.4V247.6H368.4V247.9H369.4V249.9H370.4V247.1H371.4V240.3H372.4V247H373.4V247.3H374.4V251.2H375.4V251.8H376.4V246H377.4V245.4H378.4V258H379.4V248.4H380.4V261.8H381.4V236.3H382.4V236.1H383.4V235.4H385.4V235.5H386.4V235.6H387.4V236.6H388.4V235.7H389.4V235.2H390.4V235.8H391.4V236.8H392.4V235.2H393.4V237.1H394.4V236H395.4V234.7H396.4V244.7H397.4V235.1H398.4V234.7H399.4V236.9H400.4V235.4H401.4V235.5H402.4V235.9H403.4V235.6H404.4V234.5H405.4V238.3H406.4V236H407.4V239H408.4V232.5H409.4V235.6H410.4V236.6H411.4V237H412.4V237.4H413.4V240.4H414.4V236.3H415.4V235.3H416.4V235.9H417.4V235.7H418.4V237.2H419.4V239H420.4V236.8H421.4V238.8H422.4V237.6H423.4V237.4H424.4V237.3H425.4V234.9H426.4V233.8H427.4V234.6H428.4V236.2H429.4V234H430.4V236.7H431.4V233.7H432.4V235H433.4V234.7H434.4V242.8H435.4V235.4H436.4V237.9H437.4V240.8H438.4V236.1H439.4V237.8H440.4V250.9H441.4V244.5H442.4V245H443.4V243.8H444.4V245.2H445.4V246.7H446.4V243.2H447.4V240H448.4V245.6H449.4V246.1H450.4V244.3H451.4V239.5H452.4V244.5H453.4V265.7H454.4V261.4H455.4V258.1H456.4V260H457.4V264.8H458.4V262.9H459.4V261.9H460.4V256.6H461.4V265.7H462.4V257.8H463.4V259.7H464.4V265.6H465.4V264.1H466.4V262.6H467.4V262.4H468.4V257.2H469.4V266.9H470.4V262.1H471.4V266.9H472.4V260.2H473.4V258.9H474.4V260.7H475.4V263.4H476.4V260.7H477.4V261.9H478.4V257.2H479.4V259.4H480.4V252.1H481.4V253.2H482.4V263.8H483.4V260.7H484.4V266.5H485.4V265H486.4V264.6H487.4V264.9H488.4V265.7H489.4V266.7H490.4V264.7H491.4V265.8H492.4V265.2H493.4V266.9H494.4V265.2H495.4V266.7H496.4V265.3H497.4V264.9H498.4V266.6H499.4V266.3H500.4V260.7H501.4V262.2H502.4V261.4H503.4V258.8H504.4V261.9H505.4V263H506.4V260.3H507.4V262.1H508.4V265.2H509.4V260.1H510.4V262.5H511.4V262.4H512.4V259.1H513.4V260.1H514.4V261.3H515.4V260.6H516.4V264.4H517.4V262.6H518.4V262H519.4V259H520.4V262H521.4V262.8H522.4V261.7H523.4V265.6H524.4V262.3H525.4V263.7H526.4V259H527.4V238.2H528.4V240.2H529.4V238.2H530.4V237.7H531.4V241.9H532.4V243.1H533.4V239.3H534.4V239.1H535.4V238.3H536.4V234.1H537.4V240.3H538.4V241.6H539.4V239.1H540.4V236.8H541.4V237.2H542.4V244.3H543.4V239.5H544.4V238.6H545.4V234.7H546.4V237.9H547.4V236.9H548.4V239.4H549.4V232.6H550.4V237.5H551.4V232.5H552.4V233.7H553.4V234H554.4V243.8H555.4V241H556.4V238.6H557.4V236.3H558.4V236H559.4V237H560.4V236.7H561.4V236.8H562.4V237.3H563.4V234.7H564.4V232.5H565.4V239.2H566.4V235.6H567.4V233.2H568.4V232.8H569.4V235.7H570.4V235.2H571.4V247.2H572.4V233.6H573.4V235H574.4V232.5H575.4V233.7H576.4V238.4H577.4V236.3H578.4V241.2H579.4V238.1H580.4V233.2H582.4V232.5H584.4V235.7H585.4V234.2H586.4V235.5H587.4V232.9H588.4V236.6H589.4V232.7H590.4V232.5H591.4V243.9H592.4V233.4H593.4V236.7H594.4V234.4H595.4V247.5H596.4V234.4H597.4V243.4H598.4V233.6H599.4V232.5H600.4V235H601.4V233.9H602.4V236.3H603.4V233.6H604.4V237.6H605.4V241.9H606.4V233.4H607.4V233.6H608.4V234.4H609.4V232.5H610.4V241.1H611.4V236.8H612.4V241.4H613.4V243.3H614.4V239H615.4V232.5H616.4V233.5H617.4V232.6H618.4V232.5H685V266.9Z" fill="#E89600"/>
<path d="M39.4,266.9H39.4V244.3H40.4V241.2H41.4V240H42.4V239.2H43.4V237.7H44.4V241.7H45.4V238.4H46.4V243.9H47.4V241.9H48.4V239.7H49.4V241.2H50.4V238.6H51.4V239.7H52.4V239.5H53.4V238.1H54.4V239.3H55.4V239.9H56.4V239.2H57.4V236.5H59.4V236.6H60.4V239.8H61.4V238.6H62.4V237.5H63.4V239.8H64.4V236.5H65.4V235.9H66.4V237.7H67.4V240.3H68.4V239.9H69.4V235.2H70.4V237.7H71.4V238.5H72.4V238.9H73.4V232.9H74.4V239.6H75.4V238.2H76.4V236.7H77.4V235.3H78.4V242.5H79.4V241.3H80.4V239.1H81.4V237.1H82.4V236.6H83.4V240.8H85.4V235.8H86.4V237.1H87.4V240.3H88.4V237.2H89.4V239.1H90.4V237.7H91.4V237H92.4V237.2H93.4V237.6H94.4V236.9H95.4V240.7H96.4V238.4H97.4V242.2H98.4V245.6H99.4V235.6H100.4V239.6H101.4V236.4H102.4V240.1H103.4V237.2H104.4V237.9H105.4V240H106.4V238H107.4V238.8H108.4V239.9H110.4V239.4H111.4V236.3H112.4V239H113.4V240.8H114.4V240.3H115.4V237.3H116.4V237.7H118.4V239.9H119.4V243.6H120.4V233H121.4V233.9H122.4V235.2H123.4V233.5H124.4V233.8H125.4V234H127.4V234.2H128.4V235.7H129.4V234.4H130.4V233.6H131.4V233.9H132.4V233.4H133.4V233.9H134.4V233.3H135.4V233.8H136.4V234H137.4V233.5H138.4V234.1H139.4V234.9H140.4V232.8H141.4V233.9H142.4V235H143.4V234H144.4V233.4H145.4V234H146.4V233.8H147.4V233H148.4V233.2H149.4V234.1H150.4V233.9H152.4V233.5H153.4V234.3H154.4V234.8H155.4V234.2H156.4V233.9H157.4V234.1H158.4V233.9H159.4V233.8H160.4V233.5H161.4V233.2H162.4V233.8H163.4V234H164.4V232.9H165.4V233.9H166.4V234.2H167.4V234.1H168.4V234.7H169.4V234H170.4V233.9H171.4V234H172.4V233.9H173.4V233.2H174.4V233.6H175.4V234.8H176.4V233.6H177.4V233.7H178.4V234.8H179.4V233.3H180.4V234.3H181.4V233.9H182.4V233.4H183.4V234.1H184.4V234.3H187.4V233.2H188.4V233.7H189.4V234H190.4V238H191.4V238.9H192.4V236.1H193.4V234.6H194.4V239.2H195.4V237H196.4V235.6H197.4V237.3H198.4V236.5H199.4V239.7H201.4V235.6H202.4V238.5H203.4V235.9H204.4V237.2H205.4V235.1H206.4V238.1H207.4V237.2H208.4V239.5H209.4V238.4H210.4V237H211.4V237.7H212.4V234.2H213.4V239.2H214.4V235.3H215.4V237.1H216.4V235.6H217.4V237.5H218.4V237.9H219.4V238.8H220.4V233.8H221.4V234.7H222.4V236.7H223.4V236.8H224.4V238.5H225.4V234.8H226.4V235.1H227.4V233.5H228.4V234.7H229.4V234H230.4V234.7H231.4V233.1H232.4V234.4H233.4V235H234.4V233.9H235.4V234.5H236.4V235H237.4V234.5H238.4V234H239.4V236.2H240.4V235.9H241.4V237.9H242.4V237.2H243.4V236.7H244.4V235.9H245.4V236.6H246.4V236.7H247.4V233.3H248.4V236.8H249.4V234.4H250.4V234H251.4V235.2H252.4V235.8H253.4V238.1H254.4V235.3H255.4V235.2H256.4V235.6H257.4V240.1H258.4V237.5H259.4V238H260.4V234.9H261.4V240.1H262.4V239.1H263.4V236.1H264.4V237.5H265.4V238.6H266.4V240.6H267.4V239.5H268.4V241.4H269.4V235.9H270.4V233.5H271.4V233H272.4V237.9H273.4V235.8H274.4V237.9H275.4V237.6H276.4V238.7H277.4V238.1H279.4V238.2H280.4V238.4H281.4V236.8H282.4V237.6H283.4V237.9H284.4V237.2H285.4V235.8H286.4V239.8H287.4V237.1H288.4V239.1H289.4V238.9H290.4V250.7H291.4V250.8H292.4V258.9H293.4V258.8H294.4V255.9H295.4V253.2H296.4V263.9H297.4V266.9H299.4V264.1H300.4V264.6H301.4V264H302.4V265.6H303.4V266.2H304.4V266.1H305.4V262.5H306.4V261H307.4V266H308.4V262.3H309.4V266.9H310.4V265.1H311.4V261.1H312.4V264.6H313.4V265.5H314.4V266.9H315.4V266H317.4V266.7H318.4V266.5H319.4V265.7H320.4V266.1H321.4V266.8H322.4V266.5H323.4V266.2H324.4V266.5H325.4V266.9H326.4V266.8H327.4V266H328.4V266.7H329.4V266H330.4V266.6H331.4V266.7H332.4V266.9H333.4V266.4H334.4V265.6H335.4V266.2H336.4V266.8H337.4V266.5H338.4V266.7H339.4V266.8H340.4V266.6H341.4V266H342.4V265.6H343.4V266.5H344.4V266.6H345.4V266.5H346.4V263.5H347.4V265.1H348.4V263H349.4V261.8H350.4V258.3H351.4V261.2H352.4V263.8H353.4V263.3H354.4V261.6H355.4V260.6H356.4V262.8H357.4V261.2H358.4V265.2H359.4V256.7H360.4V265.4H361.4V258.8H362.4V263.9H363.4V258.4H364.4V259.6H365.4V262H366.4V257.6H367.4V262.2H368.4V262.1H369.4V266.2H370.4V260.1H371.4V258H372.4V258.8H373.4V264.3H374.4V266.5H375.4V266.1H377.4V266.9H378.4V261.5H379.4V264.1H380.4V265H381.4V266.6H382.4V266H383.4V266.9H384.4V266.6H385.4V266.9H386.4V266.4H387.4V266.8H388.4V265.6H389.4V266.7H390.4V265.9H391.4V266.6H393.4V266.7H395.4V261H396.4V266.9H397.4V263.5H398.4V261.5H399.4V264.4H400.4V260.8H401.4V261.4H402.4V262.1H403.4V263.5H404.4V260.3H405.4V265.3H406.4V264.5H407.4V266H408.4V259.1H409.4V264.2H410.4V261.9H411.4V265.4H412.4V264.8H413.4V266.6H414.4V264.2H415.4V262.6H416.4V263.2H417.4V261.4H418.4V266H419.4V264.2H420.4V264.6H421.4V265.9H422.4V266.9H423.4V264H424.4V263.9H425.4V260.8H426.4V259.1H427.4V261.8H428.4V264.1H429.4V263.2H430.4V265.6H431.4V263.1H432.4V262.7H433.4V263.4H435.4V263.2H436.4V265.6H437.4V263.2H438.4V263.3H439.4V265.7H440.4V264.2H441.4V266.9H442.4V266.5H443.4V263.4H444.4V264.6H445.4V266.9H446.4V264.9H447.4V262.1H448.4V266.8H450.4V266.9H451.4V264.6H452.4V263.4H453.4V265.7H454.4V263H455.4V261.5H456.4V260.3H457.4V264.8H458.4V262.9H459.4V261.9H460.4V258.7H461.4V265.7H462.4V257.9H463.4V259.7H464.4V266.9H465.4V264.1H466.4V262.6H467.4V263.4H468.4V260.4H469.4V266.9H470.4V262.1H471.4V266.9H472.4V260.2H473.4V260H474.4V260.7H475.4V264.2H476.4V260.7H477.4V262.9H478.4V258H479.4V261.7H480.4V252.9H481.4V256.4H482.4V266.4H483.4V260.7H484.4V266.9H485.4V265H486.4V264.6H487.4V265.3H488.4V265.7H489.4V266.9H490.4V264.7H491.4V265.8H492.4V265.4H493.4V266.9H494.4V265.4H495.4V266.7H496.4V265.3H497.4V264.9H498.4V266.6H499.4V266.4H500.4V260.7H501.4V262.2H502.4V262.6H503.4V258.9H504.4V262.4H505.4V263H506.4V260.3H507.4V262.2H508.4V265.2H509.4V260.1H510.4V263H511.4V262.4H512.4V260.4H513.4V260.1H514.4V262H515.4V260.6H516.4V265.1H517.4V262.7H518.4V262H519.4V259.7H520.4V262H521.4V262.8H522.4V261.7H523.4V265.6H524.4V262.3H525.4V263.7H526.4V259.5H527.4V260.7H528.4V265H529.4V263.1H530.4V262.8H531.4V264.8H532.4V266.6H533.4V263.8H534.4V262.9H535.4V264.9H536.4V256.9H537.4V263.5H538.4V263H539.4V265.6H540.4V262.8H541.4V260.6H542.4V266.9H543.4V264.6H544.4V264.8H545.4V260.6H546.4V260H547.4V260.5H548.4V260.7H549.4V254.2H550.4V258.7H551.4V256.7H552.4V257.9H553.4V255.8H554.4V254.8H555.4V257.2H556.4V254.9H557.4V259.1H558.4V257.7H559.4V258.4H560.4V257.9H561.4V260.1H562.4V256.7H563.4V255.3H564.4V250.7H565.4V258.2H566.4V254.8H567.4V256.6H568.4V254.6H569.4V256.9H570.4V254.9H571.4V263.7H572.4V245.8H573.4V258.4H574.4V246.8H575.4V252.1H576.4V254.9H577.4V253.9H578.4V251.9H579.4V249.8H580.4V247.4H581.4V252.5H582.4V245.9H583.4V247.1H584.4V247H585.4V246.9H586.4V247.4H587.4V242.3H588.4V244.6H589.4V244.7H590.4V246.7H591.4V251.3H592.4V250H593.4V251.9H594.4V246.9H595.4V253.9H596.4V248H597.4V246.4H598.4V241.2H599.4V241.7H600.4V246.9H601.4V245.6H602.4V240.3H603.4V239.2H604.4V249.9H605.4V244.1H606.4V244.5H607.4V248.6H608.4V248H609.4V238.9H610.4V241.1H611.4V244H612.4V248.2H613.4V246.9H615.4V235.6H616.4V242.4H617.4V244.5H618.4V232.5H685V266.9Z" fill="#0068AC"/>
<path d="M39.4,266.9H39.4V248H40.4V248.2H41.4V245.4H42.4V241.9H43.4V247.5H44.4V245.9H45.4V242.1H46.4V245.3H47.4V243.2H49.4V242H50.4V239.5H51.4V240.2H52.4V241.4H53.4V238.8H54.4V241.5H55.4V243.5H56.4V241.1H57.4V238.3H58.4V245.6H59.4V238.7H60.4V242.3H61.4V238.6H62.4V237.5H63.4V239.9H64.4V238.5H65.4V240.3H66.4V239.9H67.4V242.4H68.4V241.3H69.4V238.4H70.4V237.7H71.4V239.5H72.4V239.6H73.4V235.6H74.4V239.6H75.4V238.2H76.4V237H77.4V237.8H78.4V242.6H79.4V241.3H80.4V239.1H81.4V241H82.4V239.2H83.4V242.9H84.4V240.8H85.4V237.9H86.4V241.9H87.4V240.3H88.4V239.3H89.4V240.3H90.4V237.7H91.4V237H92.4V238.9H93.4V237.7H94.4V239.4H95.4V247.6H96.4V245.5H97.4V246.1H98.4V252H99.4V243.2H100.4V239.6H101.4V236.4H102.4V240.4H103.4V238H104.4V240.2H105.4V241H106.4V239H107.4V238.8H108.4V241.2H109.4V240.8H110.4V239.4H111.4V239.7H112.4V239H113.4V240.8H114.4V240.9H115.4V240.2H116.4V238.2H117.4V237.7H118.4V240.5H119.4V244.1H120.4V233H121.4V233.9H122.4V235.2H123.4V233.7H124.4V233.8H125.4V234H127.4V234.2H128.4V235.9H129.4V234.5H130.4V233.6H131.4V233.9H132.4V233.4H133.4V234H134.4V233.4H135.4V233.9H136.4V234.1H137.4V233.6H138.4V234.1H139.4V235H140.4V232.8H141.4V233.9H142.4V235H143.4V234H144.4V233.4H145.4V234H146.4V233.8H147.4V233.1H148.4V233.4H149.4V234.1H150.4V233.9H152.4V233.5H153.4V234.3H154.4V234.8H155.4V234.3H156.4V233.9H157.4V234.2H158.4V234H160.4V233.5H162.4V233.8H163.4V234H164.4V233.1H165.4V233.9H166.4V234.2H168.4V234.7H169.4V234H170.4V233.9H171.4V234H172.4V233.9H173.4V233.3H174.4V233.7H175.4V234.8H176.4V233.8H177.4V233.7H178.4V235.1H179.4V233.4H180.4V234.5H181.4V233.9H183.4V234.1H184.4V234.4H185.4V234.6H186.4V234.3H187.4V233.2H188.4V233.7H189.4V234.1H190.4V238.3H191.4V239.9H192.4V238.5H193.4V237.1H194.4V239.2H195.4V237H196.4V238.6H197.4V239H198.4V237.2H199.4V239.7H200.4V240.9H201.4V235.9H202.4V239.4H203.4V237H204.4V240.6H205.4V237.2H206.4V238.1H208.4V242.6H209.4V239.7H210.4V237.1H211.4V238.4H212.4V235.8H213.4V240.6H214.4V241.9H215.4V238.7H216.4V238H217.4V244.4H218.4V239H219.4V240.9H220.4V236.4H221.4V236.7H222.4V237.9H223.4V237.6H224.4V238.5H225.4V234.9H226.4V235.3H227.4V233.5H228.4V234.7H229.4V234H230.4V235H231.4V233.3H232.4V234.4H233.4V235H234.4V233.9H235.4V234.5H236.4V235H237.4V234.7H238.4V234H239.4V236.4H240.4V237.4H241.4V238H242.4V239.2H243.4V236.9H244.4V238.5H245.4V238.2H246.4V236.7H247.4V238H248.4V236.8H249.4V237H250.4V236.3H251.4V239.4H252.4V236.6H253.4V238.1H254.4V237.3H255.4V236.7H256.4V238.6H257.4V240.1H258.4V237.5H259.4V239.1H260.4V236H261.4V240.1H262.4V239.1H263.4V237.3H264.4V239.1H265.4V239.6H266.4V240.8H267.4V241.7H268.4V241.4H269.4V238.8H270.4V237.5H271.4V235.9H272.4V237.9H273.4V237.1H274.4V239.6H275.4V237.6H276.4V238.7H277.4V239.1H278.4V239.5H279.4V239H280.4V241.5H281.4V236.8H282.4V237.7H283.4V237.9H284.4V237.2H285.4V238.1H286.4V239.8H287.4V238.9H288.4V241.6H289.4V238.9H290.4V256.9H291.4V252.9H292.4V261.4H293.4V260.9H294.4V255.9H295.4V254.4H296.4V264.3H297.4V266.9H299.4V264.1H300.4V265.5H301.4V264H302.4V265.6H303.4V266.9H306.4V261H307.4V266.9H308.4V262.9H309.4V266.9H311.4V261.9H312.4V266.9H315.4V266.1H316.4V266H317.4V266.7H318.4V266.5H319.4V265.7H320.4V266.2H321.4V266.8H322.4V266.5H323.4V266.3H324.4V266.5H325.4V266.9H327.4V266.1H328.4V266.8H329.4V266.1H330.4V266.6H331.4V266.7H332.4V266.9H333.4V266.4H334.4V265.8H335.4V266.2H336.4V266.9H337.4V266.5H338.4V266.8H339.4V266.9H340.4V266.6H341.4V266.5H342.4V265.6H343.4V266.5H344.4V266.7H345.4V266.5H346.4V264.1H347.4V265.2H348.4V266.9H350.4V265.1H351.4V261.2H352.4V263.9H353.4V263.3H354.4V264.7H355.4V263.5H356.4V265.7H357.4V262.3H358.4V265.3H359.4V260.7H360.4V265.8H361.4V262.1H362.4V264H363.4V262.5H364.4V261.3H365.4V262H366.4V261.9H367.4V265.8H368.4V262.3H369.4V266.2H370.4V262.5H371.4V260.6H372.4V264.9H373.4V266.9H376.4V266.1H377.4V266.9H378.4V261.5H379.4V264.5H380.4V265H381.4V266.9H384.4V266.8H385.4V266.9H387.4V266.8H388.4V265.7H389.4V266.9H390.4V265.9H391.4V266.6H393.4V266.9H395.4V264.6H396.4V266.9H397.4V265.3H398.4V263.5H399.4V264.4H400.4V263.7H401.4V265.9H402.4V262.7H403.4V264.1H404.4V263.9H405.4V266.9H406.4V264.5H407.4V266H408.4V260.2H409.4V265.8H410.4V264.6H411.4V266.3H412.4V266.9H413.4V266.8H414.4V266.3H415.4V266.6H416.4V264.6H417.4V265.3H418.4V266.9H423.4V266.8H424.4V266.4H425.4V262.3H426.4V261.4H427.4V264.7H428.4V266.9H429.4V266H430.4V266.6H431.4V265H432.4V266.9H433.4V266.1H434.4V266.6H435.4V266.9H437.4V263.9H438.4V264.8H439.4V266.2H440.4V265.3H441.4V266.9H442.4V266.5H443.4V266.9H444.4V265.3H445.4V266.9H446.4V266.7H447.4V264.7H448.4V266.9H451.4V265.4H452.4V266.9H454.4V263H455.4V262H456.4V260.6H457.4V265.8H458.4V263.4H459.4V261.9H460.4V262.2H461.4V265.7H462.4V259.8H463.4V261.6H464.4V266.9H466.4V263H467.4V263.4H468.4V262.7H469.4V266.9H470.4V262.2H471.4V266.9H472.4V260.2H473.4V260H474.4V262.8H475.4V264.2H476.4V260.7H477.4V263.9H478.4V264.2H479.4V261.7H480.4V261.4H481.4V257.9H482.4V266.9H483.4V260.9H484.4V266.9H485.4V265.5H486.4V264.6H487.4V265.3H488.4V266.1H489.4V266.9H490.4V264.7H491.4V265.8H492.4V265.6H493.4V266.9H494.4V265.4H495.4V266.9H496.4V265.5H498.4V266.9H499.4V266.7H500.4V261.3H501.4V262.2H502.4V263H503.4V259.3H504.4V263.1H505.4V263.3H506.4V261.5H507.4V262.2H508.4V265.9H509.4V260.1H510.4V263.4H511.4V262.7H512.4V260.8H513.4V260.1H514.4V262H515.4V260.6H516.4V265.1H517.4V262.7H518.4V262H519.4V259.7H520.4V262H521.4V263.5H522.4V261.7H523.4V266.9H524.4V262.8H525.4V263.7H526.4V259.7H527.4V266.7H528.4V266.9H531.4V266.5H532.4V266.9H534.4V266.8H535.4V266.9H536.4V261H537.4V266.9H538.4V266.2H539.4V266.9H540.4V264.4H541.4V265H542.4V266.9H545.4V266.2H546.4V265H547.4V265.4H548.4V266.9H549.4V262.2H550.4V262.3H551.4V264H552.4V263.4H553.4V266.9H554.4V265.8H555.4V263.3H556.4V263.4H557.4V266.9H558.4V265.4H559.4V264.9H560.4V266.9H562.4V262H563.4V266.9H564.4V260H565.4V266.9H566.4V261.8H567.4V266.9H568.4V263.1H569.4V266.4H570.4V263.5H571.4V266.9H572.4V264.8H573.4V266.9H574.4V263.8H575.4V266.3H576.4V266.9H579.4V264.8H580.4V263H581.4V266.9H582.4V262.2H583.4V265.4H584.4V266.9H585.4V264.3H586.4V261.3H587.4V265.8H588.4V260.2H589.4V265.9H590.4V265.1H591.4V266.9H592.4V265.8H593.4V266.9H594.4V266.2H595.4V266.9H598.4V263.6H599.4V265H600.4V264H601.4V266.9H602.4V259.1H603.4V264.6H604.4V266.9H605.4V265.9H606.4V266.9H607.4V266.1H608.4V266.9H609.4V264.9H610.4V266.1H611.4V266.9H613.4V266.3H614.4V266.9H615.4V259.7H616.4V264.4H617.4V263.8H618.4V266.9H685V266.9Z" fill="#006838"/>
<rect x="39.4" y="270.8" width="645.6" height="35.10" fill="#56207C"/>
<path d="M39.4,305.9H39.4V281.1H40.4V270.8H41.4V278.6H42.4V279.4H43.4V273H44.4V277.2H45.4V272.9H46.4V271.3H47.4V270.8H48.4V271.4H49.4V274.3H50.4V271H51.4V270.8H52.4V279.8H53.4V270.8H57.4V272.9H58.4V271.2H59.4V270.8H61.4V273.3H62.4V276.7H63.4V273.7H64.4V270.8H65.4V270.9H66.4V274.8H67.4V270.8H69.4V271.2H70.4V270.8H71.4V273.4H72.4V270.8H75.4V277.4H76.4V270.8H79.4V270.9H80.4V273.9H81.4V270.8H82.4V273.9H83.4V270.8H84.4V275.6H85.4V270.8H86.4V271.9H87.4V270.8H89.4V271H90.4V270.8H91.4V274.7H92.4V270.8H94.4V271.5H95.4V275.8H96.4V276.3H97.4V275.7H98.4V273.3H99.4V278.9H100.4V275.8H101.4V276.8H102.4V270.8H103.4V274.3H104.4V270.8H106.4V271.2H107.4V277.8H108.4V271.7H109.4V276.8H110.4V270.8H111.4V277.4H112.4V270.8H113.4V272.1H114.4V270.8H117.4V273.7H118.4V271H119.4V270.8H121.4V272.1H123.4V270.9H124.4V270.8H125.4V270.9H126.4V270.8H127.4V271.2H128.4V271.3H129.4V272.6H130.4V270.9H131.4V271.4H132.4V272.1H133.4V271H134.4V271.8H135.4V271.1H136.4V271.3H138.4V270.8H139.4V271.1H141.4V270.8H143.4V272.1H144.4V270.8H145.4V270.9H146.4V271.1H147.4V271.2H148.4V273.1H149.4V271H150.4V272H151.4V271.8H152.4V270.8H154.4V271.9H155.4V271.5H156.4V272.3H157.4V270.8H161.4V271.7H162.4V271H164.4V270.8H165.4V271.5H166.4V271H167.4V270.8H168.4V270.9H169.4V271.1H170.4V272.9H171.4V270.8H172.4V271.6H173.4V270.9H174.4V271.7H175.4V271.3H176.4V271H177.4V270.8H178.4V271.3H179.4V271.1H180.4V271.3H181.4V271.8H182.4V270.8H183.4V271.4H184.4V270.8H186.4V271.1H187.4V271.2H188.4V271.9H189.4V271.8H190.4V270.8H193.4V271.2H194.4V270.8H196.4V273.3H197.4V272.4H198.4V270.8H199.4V274.7H200.4V270.8H204.4V274.9H205.4V270.8H208.4V271.7H209.4V270.8H210.4V273.3H211.4V272H212.4V274.5H213.4V275.2H214.4V271H215.4V270.8H216.4V273.5H217.4V271.2H218.4V270.8H220.4V275.6H221.4V271.9H222.4V270.8H224.4V271H225.4V273.7H226.4V272.1H227.4V271.3H229.4V270.8H230.4V271.2H231.4V271.4H233.4V272.4H234.4V270.8H235.4V271.5H236.4V270.8H237.4V271H238.4V271.2H239.4V270.9H240.4V275.1H241.4V273H242.4V270.8H245.4V273.6H246.4V270.8H247.4V272.7H248.4V270.8H252.4V275.1H253.4V274.6H254.4V273.2H255.4V270.8H256.4V277.4H257.4V272.2H258.4V275H259.4V270.9H260.4V270.8H266.4V276H267.4V270.8H271.4V272.7H272.4V270.8H274.4V276H275.4V273.5H276.4V277.1H277.4V273.9H278.4V271.4H279.4V270.8H284.4V274H285.4V270.8H287.4V273.5H288.4V272.7H289.4V274.8H290.4V278.8H291.4V273.8H292.4V283.4H293.4V274.2H294.4V282.5H295.4V277.5H296.4V297.3H297.4V290.9H298.4V300.2H299.4V295.1H300.4V276.8H301.4V295.1H302.4V289.2H303.4V284.2H304.4V291.4H305.4V284.5H306.4V285.4H307.4V286.2H308.4V295.5H309.4V295.8H310.4V290.7H311.4V285.5H312.4V286H313.4V281H314.4V283H315.4V305.2H316.4V305.3H317.4V305.2H318.4V304.8H319.4V304.3H320.4V305.1H321.4V305.8H323.4V305.3H324.4V305.4H325.4V305.2H326.4V305.9H327.4V305.6H328.4V305.5H329.4V305.3H330.4V304.5H331.4V304.7H333.4V305.8H334.4V305.4H335.4V304.9H336.4V305.5H337.4V303.9H338.4V305H339.4V305.1H340.4V303.9H341.4V305.2H342.4V304.7H343.4V305H344.4V305.2H345.4V304.8H346.4V270.8H347.4V278.5H348.4V288.1H349.4V272.6H350.4V270.8H351.4V272.3H352.4V278.3H353.4V275.9H354.4V279H355.4V278.9H356.4V273H357.4V278.2H358.4V276.9H359.4V276.1H360.4V295.9H361.4V289.4H362.4V270.8H363.4V277.9H364.4V272.2H365.4V274.8H366.4V271.9H367.4V270.8H372.4V287.2H373.4V281.8H374.4V280.5H375.4V276.9H376.4V280.8H377.4V280H378.4V295.7H379.4V300H380.4V292.8H381.4V271.3H382.4V271.7H383.4V271.4H384.4V271.2H385.4V271.8H386.4V271.7H387.4V270.8H388.4V271.7H390.4V270.8H391.4V271.7H392.4V271H393.4V272H394.4V271.6H395.4V274.5H397.4V272.7H398.4V275H399.4V277.3H400.4V275.5H401.4V271H402.4V271.1H403.4V274.2H404.4V274.4H405.4V275H406.4V274H407.4V272.1H408.4V274.8H409.4V277.3H410.4V276H411.4V272.7H412.4V271H413.4V273.1H414.4V270.8H415.4V274.3H416.4V272.7H417.4V276.4H418.4V273.2H419.4V272.1H420.4V270.8H422.4V271.8H423.4V273.3H424.4V270.8H426.4V271.1H427.4V270.8H429.4V271.7H430.4V270.8H434.4V273H435.4V270.8H436.4V271.3H437.4V270.8H440.4V276.5H441.4V274H442.4V271H443.4V277.4H444.4V274.1H445.4V276.3H446.4V278H447.4V277.7H448.4V277.2H449.4V272.4H450.4V276H451.4V276.5H452.4V270.8H453.4V272H454.4V270.8H455.4V274.8H456.4V273.1H457.4V274.7H458.4V270.8H462.4V273.2H463.4V274.5H464.4V276.7H465.4V270.8H466.4V271.9H467.4V279.1H468.4V270.8H470.4V273.3H471.4V271.7H472.4V274.9H473.4V271.4H474.4V273.5H475.4V270.8H476.4V274.7H477.4V270.8H479.4V276.6H480.4V275H481.4V272.6H482.4V270.8H483.4V276.9H484.4V270.8H485.4V276.4H486.4V277.6H487.4V272.8H488.4V278.2H489.4V272H490.4V272.7H491.4V270.8H492.4V273.6H493.4V278.3H494.4V280H495.4V275.9H496.4V270.8H497.4V276.4H498.4V275.2H499.4V272.2H500.4V271.9H501.4V277.5H502.4V270.8H503.4V272.8H504.4V270.8H505.4V274.3H506.4V271.1H507.4V275.6H508.4V271.2H509.4V270.8H510.4V273.2H511.4V280.9H512.4V274.8H513.4V272.3H514.4V270.9H515.4V280.7H516.4V270.8H517.4V271.6H518.4V272.5H519.4V276.9H520.4V281.9H521.4V273.6H522.4V275.8H523.4V273.6H524.4V276.5H525.4V273H526.4V273.2H527.4V274.3H528.4V270.8H531.4V278.5H532.4V273H533.4V275.6H534.4V270.8H535.4V276.4H536.4V270.8H537.4V276.5H538.4V278.9H539.4V271.8H540.4V270.8H541.4V272.7H542.4V278H543.4V270.8H547.4V271.1H548.4V277.9H549.4V270.8H551.4V273.4H552.4V270.8H553.4V273.2H554.4V272.7H555.4V273.2H556.4V270.8H557.4V281.5H558.4V275.6H559.4V280.6H560.4V286.1H561.4V270.8H562.4V274.1H563.4V270.8H565.4V278.6H566.4V270.8H568.4V272.2H569.4V271.8H570.4V270.8H577.4V279.3H578.4V278.9H579.4V270.8H582.4V275.4H583.4V270.8H588.4V275.1H589.4V270.8H590.4V276.1H591.4V272.2H592.4V270.8H593.4V273.7H594.4V270.8H601.4V277.9H602.4V277.4H603.4V270.8H606.4V277.2H607.4V270.8H608.4V276.7H609.4V280.9H610.4V270.8H611.4V271.4H612.4V273.5H613.4V270.8H614.4V274.5H615.4V270.8H685V305.9Z" fill="#38B4A6"/>
<path d="M39.4,305.9H39.4V281.6H40.4V270.8H41.4V279.1H42.4V279.4H43.4V274.2H44.4V277.4H45.4V273.1H46.4V275.5H47.4V273.6H48.4V271.4H49.4V277.3H50.4V271.3H51.4V272.5H52.4V279.8H53.4V270.8H55.4V271.8H56.4V271.1H57.4V272.9H58.4V271.2H59.4V270.8H60.4V271.4H61.4V273.6H62.4V279.3H63.4V274H64.4V275.4H65.4V270.9H66.4V276.2H67.4V273.1H68.4V270.8H69.4V271.2H70.4V271.7H71.4V275.1H72.4V270.9H73.4V270.8H74.4V277.3H75.4V277.4H76.4V270.8H79.4V270.9H80.4V276.6H81.4V270.8H82.4V273.9H83.4V271.5H84.4V275.6H85.4V270.8H86.4V272.7H87.4V270.8H88.4V271.6H89.4V271.1H90.4V272.2H91.4V275.6H92.4V274.8H93.4V271.7H94.4V271.9H95.4V276.1H96.4V277.2H97.4V275.7H98.4V274.1H99.4V279H100.4V275.8H101.4V276.8H102.4V270.8H103.4V275.1H104.4V271.1H106.4V271.2H107.4V277.8H108.4V271.7H109.4V276.8H110.4V271.6H111.4V277.6H112.4V270.8H113.4V272.8H114.4V271.1H115.4V271.2H117.4V273.7H118.4V271.6H119.4V271H120.4V271.5H121.4V272.1H123.4V271.7H124.4V271.4H125.4V270.9H126.4V272.3H127.4V271.2H128.4V272.2H129.4V272.6H130.4V270.9H131.4V271.9H132.4V272.1H133.4V271.6H134.4V271.9H135.4V271.1H136.4V271.6H137.4V271.7H138.4V271.9H139.4V271.1H141.4V270.8H142.4V271H143.4V272.2H144.4V271.6H145.4V271.3H146.4V271.1H147.4V271.8H148.4V273.1H149.4V271.2H150.4V272.3H151.4V271.8H152.4V271.2H153.4V272H154.4V271.9H155.4V271.6H156.4V272.3H157.4V271.7H158.4V272.1H159.4V271.7H160.4V270.8H161.4V272.4H162.4V271.2H163.4V271.7H164.4V271.6H165.4V271.5H166.4V271.1H167.4V271.5H168.4V270.9H169.4V272.2H170.4V273.3H171.4V271.4H172.4V272.1H173.4V271.4H174.4V271.7H175.4V271.5H176.4V271.2H177.4V270.8H178.4V271.4H179.4V271.3H180.4V271.7H181.4V271.8H182.4V271.5H183.4V271.9H184.4V271.5H185.4V271.7H186.4V271.9H187.4V271.2H188.4V271.9H189.4V272.2H190.4V271.1H191.4V270.8H193.4V271.9H194.4V270.8H196.4V273.5H197.4V272.4H198.4V270.8H199.4V274.7H200.4V270.9H201.4V270.8H204.4V274.9H205.4V271.2H206.4V271H207.4V270.8H208.4V271.7H209.4V270.8H210.4V273.3H211.4V272H212.4V274.5H213.4V276.6H214.4V271H215.4V270.8H216.4V273.8H217.4V271.3H218.4V271.6H219.4V271.3H220.4V275.6H221.4V272.4H222.4V270.8H224.4V271.1H225.4V273.7H226.4V272.4H228.4V271.6H229.4V271.3H230.4V272.6H231.4V272H233.4V273.4H234.4V272.1H235.4V273.1H236.4V271.5H237.4V271.9H238.4V272H239.4V272.4H240.4V275.1H241.4V275.2H242.4V272.5H243.4V277.8H244.4V274.4H245.4V275.4H246.4V271.4H247.4V273H248.4V277.4H249.4V271.8H250.4V275.1H251.4V271.5H252.4V277.6H253.4V277.1H254.4V274.5H255.4V277.6H256.4V277.9H257.4V272.2H258.4V275H259.4V273.6H260.4V270.8H261.4V273.6H262.4V274.6H263.4V274.8H264.4V272H265.4V273.7H266.4V276H267.4V276.7H268.4V275.9H269.4V273.2H270.4V272.9H271.4V275.6H272.4V270.8H274.4V276H275.4V274.7H276.4V277.1H277.4V277.3H278.4V271.9H279.4V272.6H280.4V273.8H282.4V274.6H283.4V272.5H284.4V276.6H285.4V272.3H286.4V272.5H287.4V274.1H288.4V274.7H289.4V274.8H290.4V282.4H291.4V275.2H292.4V283.4H293.4V276.3H294.4V283.7H295.4V278.8H296.4V297.3H297.4V294.4H298.4V300.2H299.4V295.1H300.4V279.9H301.4V295.1H302.4V289.2H303.4V293.3H304.4V291.4H305.4V284.5H306.4V286.8H307.4V286.2H308.4V302.6H309.4V295.8H310.4V295.7H311.4V285.5H312.4V286H313.4V281H314.4V283H315.4V305.2H316.4V305.4H317.4V305.2H318.4V304.9H319.4V304.5H320.4V305.1H321.4V305.8H323.4V305.3H324.4V305.5H325.4V305.3H326.4V305.9H327.4V305.6H329.4V305.5H330.4V304.6H331.4V304.7H332.4V305.2H333.4V305.8H334.4V305.5H335.4V305.1H336.4V305.5H337.4V303.9H338.4V305H339.4V305.2H340.4V304H341.4V305.2H342.4V304.9H343.4V305.1H344.4V305.2H345.4V304.8H346.4V276.8H347.4V278.5H348.4V290.6H349.4V276.1H350.4V272.9H351.4V272.3H352.4V278.3H353.4V281.6H354.4V280.3H355.4V281H356.4V279H357.4V278.2H358.4V276.9H359.4V279H360.4V295.9H361.4V289.4H362.4V270.8H363.4V277.9H364.4V272.2H365.4V274.8H366.4V280.8H367.4V274.7H368.4V272.5H369.4V271.9H370.4V277.2H371.4V270.8H372.4V288.8H373.4V281.8H374.4V280.5H375.4V280.4H376.4V281.5H377.4V284.1H378.4V295.7H379.4V301.5H380.4V294.4H381.4V271.3H382.4V271.7H383.4V271.4H384.4V271.2H385.4V271.8H386.4V271.7H387.4V270.9H388.4V271.7H390.4V270.8H391.4V271.7H392.4V271H393.4V272H394.4V271.6H395.4V274.5H396.4V274.6H397.4V272.9H398.4V275.3H399.4V278.3H400.4V275.5H401.4V271.5H402.4V271.1H403.4V274.2H404.4V274.5H405.4V275H406.4V274H407.4V272.7H408.4V274.8H409.4V277.3H410.4V276H411.4V272.7H412.4V271.6H413.4V273.1H414.4V270.8H415.4V274.4H416.4V272.7H417.4V276.5H418.4V273.4H419.4V272.3H420.4V286.6H421.4V287.1H422.4V287.6H423.4V287.5H424.4V285.3H425.4V286.3H426.4V286.5H427.4V286.3H428.4V285.1H429.4V286.8H430.4V286.4H431.4V284.8H432.4V287.1H433.4V286.4H434.4V286.7H435.4V287.5H436.4V287.2H437.4V305.9H440.4V277H441.4V274H442.4V271.5H443.4V277.4H444.4V274.4H445.4V279.7H446.4V278H447.4V277.9H448.4V277.2H449.4V273.2H450.4V276H451.4V276.9H452.4V270.8H453.4V278.5H454.4V278.2H455.4V279.9H456.4V278.9H457.4V282.7H458.4V278.3H459.4V279.1H460.4V277.3H461.4V278H462.4V279.9H463.4V280.5H464.4V282.8H465.4V275.9H466.4V278.8H467.4V280H468.4V275.1H469.4V276.1H470.4V280.6H471.4V281.3H472.4V280.7H473.4V278.5H474.4V278.8H475.4V276.3H476.4V274.7H477.4V276.9H478.4V273.9H479.4V285.8H480.4V279.6H481.4V279H482.4V270.8H483.4V283.2H484.4V280.5H485.4V281.4H486.4V282.5H487.4V280H488.4V283H489.4V279.9H490.4V276.8H491.4V281.1H492.4V280.5H493.4V281.6H494.4V282.9H495.4V280.5H496.4V278.7H497.4V282.6H498.4V281.2H499.4V279.4H500.4V275.3H501.4V283.3H502.4V275.7H503.4V277.4H504.4V275.3H505.4V279.2H506.4V276.8H507.4V279.5H508.4V272.7H509.4V276.6H510.4V276.4H511.4V283.7H512.4V281.2H513.4V277.4H514.4V270.9H515.4V281.3H516.4V273.7H517.4V278.3H518.4V280.8H519.4V278.9H520.4V284.3H521.4V279.9H522.4V276.6H523.4V277.1H524.4V278.6H525.4V276.2H526.4V278.9H527.4V286.3H528.4V284H529.4V285H530.4V282.9H531.4V289.3H532.4V288.1H533.4V288.7H534.4V284.3H535.4V287.2H536.4V283.8H537.4V290.4H538.4V291.4H539.4V282H540.4V285.1H541.4V283H542.4V289.9H543.4V284.3H544.4V283.8H545.4V285.2H546.4V287H547.4V285.6H548.4V283.9H549.4V281.9H550.4V275.2H551.4V276.4H552.4V279.3H553.4V283.3H554.4V283.4H555.4V283.7H556.4V281.7H557.4V289.4H558.4V284.9H559.4V288.3H560.4V296.3H561.4V281.1H562.4V282.8H563.4V283.9H564.4V285.4H565.4V284.7H566.4V282.1H567.4V280.3H568.4V281.2H569.4V281.4H570.4V279.2H571.4V285.2H572.4V283.2H573.4V276.8H574.4V280.5H575.4V270.8H576.4V285H577.4V280.3H578.4V285.5H579.4V276.7H580.4V282.6H581.4V282.1H582.4V279H583.4V278.2H584.4V279.4H585.4V277.4H586.4V280H587.4V283H588.4V283.9H589.4V287.3H590.4V286H591.4V280.7H592.4V280.4H593.4V287.5H594.4V282.5H595.4V278.7H596.4V281.3H597.4V275.2H598.4V280.9H599.4V281.5H600.4V279.2H601.4V282.4H602.4V283.4H603.4V280.5H604.4V283H605.4V280.5H606.4V284.4H607.4V277.3H608.4V288.3H609.4V280.9H610.4V281.7H611.4V282.8H612.4V276.9H613.4V278.6H614.4V285H615.4V279.5H617.4V274.4H618.4V270.8H685V305.9Z" fill="#EAB6C0"/>
<path d="M39.4,305.9H39.4V284.7H40.4V278.3H41.4V279.1H42.4V279.4H43.4V276.4H44.4V280.7H45.4V275.3H46.4V276.3H47.4V278.4H48.4V271.4H49.4V277.3H50.4V271.3H51.4V273.5H52.4V279.8H53.4V272.9H54.4V275.2H55.4V272.8H56.4V271.1H57.4V273.6H58.4V272.3H59.4V271.7H60.4V272H61.4V273.6H62.4V279.4H63.4V274H64.4V277.7H65.4V272H66.4V276.2H67.4V274.1H68.4V270.8H69.4V271.2H70.4V272.8H71.4V275.1H72.4V273.2H73.4V274.7H74.4V277.3H75.4V278H76.4V270.8H77.4V273.1H78.4V271.5H79.4V271.2H80.4V276.6H81.4V270.8H82.4V273.9H83.4V273.5H84.4V277.1H85.4V272.1H86.4V272.7H87.4V270.8H88.4V273.9H89.4V271.9H90.4V274H91.4V277.8H92.4V278H93.4V274.2H94.4V272.6H95.4V276.1H96.4V277.7H97.4V275.7H98.4V274.7H99.4V280.7H100.4V275.8H101.4V276.8H102.4V270.8H103.4V278.8H104.4V273.8H105.4V274.2H106.4V273.7H107.4V279.5H108.4V272H109.4V276.8H110.4V278.4H111.4V279.5H112.4V273.2H113.4V273.1H114.4V272.4H115.4V273.1H116.4V276.9H117.4V273.7H118.4V272.9H119.4V274.1H120.4V272.6H121.4V272.1H122.4V272.5H123.4V272.3H124.4V272.1H125.4V271.6H126.4V272.3H127.4V271.3H128.4V272.2H129.4V272.7H130.4V271.1H131.4V271.9H132.4V272.6H133.4V271.6H134.4V272H135.4V271.2H136.4V271.6H137.4V272H138.4V272.3H139.4V271.2H140.4V271.4H141.4V271.1H142.4V272.4H143.4V272.6H144.4V271.6H145.4V271.4H146.4V272.1H147.4V272H148.4V273.3H149.4V271.4H150.4V272.5H151.4V272.3H152.4V272.6H153.4V272H154.4V271.9H155.4V272.1H156.4V272.3H157.4V272H158.4V273.5H159.4V272.6H160.4V271.2H161.4V272.4H162.4V272.1H163.4V271.9H164.4V272.2H165.4V271.9H166.4V271.6H167.4V271.5H168.4V271.4H169.4V273.1H170.4V273.3H172.4V273.1H173.4V271.9H174.4V273H175.4V271.9H176.4V271.6H177.4V271.5H178.4V271.8H179.4V272.1H180.4V271.9H181.4V271.8H182.4V272.4H183.4V271.9H184.4V272.3H185.4V272.8H186.4V272.2H187.4V271.9H188.4V272.4H189.4V272.2H190.4V273H191.4V273.2H192.4V271.5H193.4V271.9H194.4V271.3H195.4V272H196.4V275.7H197.4V274.3H198.4V272.8H199.4V275.6H200.4V272H201.4V271.1H202.4V271.2H203.4V272.4H204.4V274.9H205.4V271.2H206.4V272.8H207.4V273.5H208.4V272.5H209.4V272H210.4V274.1H211.4V273.4H212.4V275.4H213.4V276.6H214.4V273.5H215.4V272.4H216.4V276H217.4V271.3H218.4V272.7H219.4V273H220.4V275.6H221.4V273.8H222.4V270.8H223.4V275.2H224.4V273.9H225.4V273.8H226.4V272.4H227.4V272.5H228.4V271.8H229.4V271.4H230.4V272.7H231.4V272H232.4V272.2H233.4V273.5H234.4V272.1H235.4V273.2H236.4V271.5H237.4V272.2H238.4V272.1H239.4V272.4H240.4V275.1H241.4V275.2H242.4V272.8H243.4V278H244.4V274.4H245.4V275.4H246.4V274.2H247.4V274.4H248.4V277.4H249.4V275.3H250.4V275.1H251.4V274.1H252.4V277.6H253.4V277.1H254.4V276.7H255.4V277.6H256.4V279.2H257.4V272.6H258.4V277.2H259.4V273.6H260.4V275H261.4V275.6H262.4V275.9H263.4V274.8H264.4V272.7H265.4V274.9H266.4V276.8H267.4V277.6H268.4V278.2H269.4V274.6H270.4V273.5H271.4V276.5H272.4V270.8H273.4V271.6H274.4V276.1H275.4V274.8H276.4V277.1H277.4V277.3H278.4V272.2H279.4V272.6H280.4V274.2H281.4V273.8H282.4V274.6H283.4V273.6H284.4V276.6H285.4V272.6H286.4V273.2H287.4V274.1H288.4V275H289.4V274.8H290.4V291.1H291.4V285.3H292.4V289.1H293.4V286.9H294.4V290.7H295.4V291.4H296.4V305.3H297.4V297.7H298.4V300.2H299.4V304.9H300.4V293.8H301.4V305.7H302.4V300.3H303.4V298.6H304.4V304.6H305.4V299.5H306.4V294.3H307.4V305.8H308.4V302.6H309.4V305.9H310.4V302.8H311.4V298.7H312.4V297.2H313.4V291.1H314.4V290.8H315.4V305.6H316.4V305.7H318.4V305.3H319.4V305.1H320.4V305.7H321.4V305.9H322.4V305.8H323.4V305.6H324.4V305.7H325.4V305.5H326.4V305.9H327.4V305.6H329.4V305.8H330.4V305.1H332.4V305.9H335.4V305.8H336.4V305.9H337.4V304.8H338.4V305.5H339.4V305.2H340.4V304.4H341.4V305.8H342.4V305.2H343.4V305.1H344.4V305.9H345.4V304.8H346.4V280.2H347.4V283.4H348.4V290.6H349.4V287.2H350.4V280H351.4V278.1H352.4V282.9H353.4V287.6H354.4V281.7H355.4V282.8H356.4V287H357.4V278.4H358.4V279.1H359.4V282.2H360.4V296.4H361.4V289.4H362.4V273.9H363.4V284.6H364.4V282.6H365.4V282.3H366.4V289.8H367.4V281.8H368.4V275.1H369.4V276.4H370.4V282.9H371.4V272H372.4V292.8H373.4V283.1H374.4V290.5H375.4V288.7H376.4V282H377.4V287.7H378.4V300.4H379.4V303.1H380.4V298.6H381.4V271.3H382.4V271.7H383.4V271.4H384.4V271.2H385.4V271.8H386.4V271.7H387.4V270.9H388.4V271.7H390.4V270.8H391.4V271.7H392.4V271.2H393.4V272H394.4V271.6H395.4V275.4H396.4V274.6H397.4V272.9H398.4V275.3H399.4V278.3H400.4V275.5H401.4V271.5H402.4V272.2H403.4V274.2H404.4V274.6H405.4V275H406.4V274H407.4V273H408.4V274.8H409.4V277.3H410.4V276H411.4V272.7H412.4V271.6H413.4V273.1H414.4V270.8H415.4V274.5H416.4V273.1H417.4V277H418.4V273.7H419.4V272.9H420.4V286.6H421.4V287.3H422.4V287.9H423.4V287.6H424.4V285.3H425.4V286.3H426.4V286.8H427.4V286.3H428.4V285.1H429.4V287.2H430.4V287H431.4V284.8H432.4V287.1H433.4V286.4H434.4V286.7H435.4V287.5H436.4V287.4H437.4V305.9H440.4V293.3H441.4V293H442.4V292.6H443.4V295.3H444.4V292.1H445.4V295.9H446.4V296.8H447.4V296.6H448.4V294H449.4V290.3H450.4V293.1H451.4V293H452.4V290H453.4V303.6H454.4V302.5H455.4V301.8H456.4V301.4H457.4V304.3H458.4V300.3H459.4V302H460.4V301H461.4V300.3H462.4V304.4H463.4V302.6H464.4V303.7H465.4V296H466.4V302.9H467.4V300.8H468.4V299H469.4V297.4H470.4V300.5H471.4V304H472.4V302H473.4V302.7H474.4V303.5H475.4V298.2H476.4V299.6H477.4V301H478.4V295.9H479.4V303.6H481.4V303.3H482.4V302.7H483.4V302H484.4V303.2H485.4V305.7H486.4V304.1H487.4V303.2H488.4V305.9H489.4V304.7H490.4V302.9H491.4V303.8H492.4V304.9H493.4V304.8H494.4V305.1H495.4V303.8H496.4V302.3H497.4V305.3H498.4V303.5H499.4V304.2H500.4V299.6H501.4V304.7H502.4V296.2H503.4V300.9H504.4V299.3H505.4V302.4H506.4V302.3H507.4V299.4H508.4V299.5H509.4V299.8H510.4V300.1H511.4V305H512.4V303H513.4V302.4H514.4V297.9H515.4V300H516.4V301.4H517.4V303.9H518.4V303.3H519.4V300.7H520.4V305.3H521.4V303.7H522.4V300.5H523.4V299H524.4V303.2H525.4V302.6H526.4V303.6H527.4V286.3H528.4V285H529.4V286.6H530.4V286.5H531.4V289.3H532.4V291.3H533.4V288.7H534.4V287.2H536.4V288.2H537.4V290.4H538.4V294H539.4V282.2H540.4V288H541.4V283H542.4V291.5H543.4V284.3H544.4V285.9H545.4V286.4H546.4V290.7H547.4V285.6H548.4V284.2H549.4V281.9H550.4V275.2H551.4V278.1H552.4V279.7H553.4V283.3H554.4V283.4H555.4V283.7H556.4V282.6H557.4V290H558.4V286.3H559.4V288.3H560.4V296.3H561.4V282.1H562.4V282.8H563.4V283.9H564.4V285.4H565.4V284.7H566.4V282.1H567.4V280.3H568.4V282H569.4V281.7H570.4V280H571.4V285.2H572.4V283.9H573.4V278H574.4V280.5H575.4V271.1H576.4V285H577.4V281.2H578.4V287.2H579.4V278.8H580.4V282.6H581.4V282.1H582.4V279H583.4V278.5H584.4V280.7H585.4V277.5H586.4V280.4H587.4V284.3H588.4V284.9H589.4V288.9H590.4V286H591.4V281.9H592.4V282.1H593.4V288.3H594.4V282.5H595.4V279.3H596.4V283H597.4V275.5H598.4V280.9H599.4V281.5H600.4V279.3H601.4V283H602.4V283.4H603.4V280.5H604.4V283H605.4V280.5H606.4V284.4H607.4V277.5H608.4V288.3H609.4V280.9H610.4V282.7H611.4V283.3H612.4V277.7H613.4V278.7H614.4V285H615.4V279.5H617.4V274.4H618.4V270.8H685V305.9Z" fill="#E89600"/>
<path d="M39.4,305.9H39.4V285.3H40.4V278.8H41.4V281.5H42.4V284H43.4V284.2H44.4V287.9H45.4V283.5H46.4V277.2H47.4V284.4H48.4V280.3H49.4V282.4H50.4V274.1H51.4V275.1H52.4V280.4H53.4V276.9H54.4V278.2H55.4V277.3H56.4V273.8H57.4V275.9H58.4V272.3H59.4V277.3H60.4V276.8H61.4V275.6H62.4V280.6H63.4V277.3H64.4V277.7H65.4V276.1H66.4V277H67.4V278H68.4V275.7H69.4V274.8H70.4V276H71.4V277.3H72.4V276.2H73.4V276.8H74.4V279.1H75.4V278.8H76.4V275.8H77.4V277.2H78.4V277.5H79.4V274.7H80.4V279H81.4V274H82.4V276.7H83.4V277.4H84.4V277.1H85.4V273.4H86.4V276.6H87.4V274.7H88.4V279H89.4V273.5H90.4V277.6H91.4V278.2H92.4V281.9H93.4V276.8H94.4V275.1H95.4V279.8H96.4V284H97.4V276.3H98.4V276.5H99.4V281.7H100.4V276.7H101.4V278.4H102.4V275.1H103.4V278.8H104.4V275.8H105.4V276.7H106.4V277.3H107.4V279.5H108.4V277.2H109.4V277.9H110.4V283.3H111.4V280.1H112.4V278.1H113.4V276.6H114.4V274.6H115.4V282.2H116.4V280.6H117.4V278.1H118.4V277.4H119.4V277.3H120.4V272.6H121.4V272.1H122.4V272.5H123.4V272.4H124.4V272.3H125.4V271.6H126.4V272.4H127.4V271.7H128.4V272.2H129.4V272.7H130.4V271.1H131.4V272.1H132.4V272.6H133.4V271.6H134.4V272H135.4V271.3H136.4V271.6H137.4V272H138.4V272.3H139.4V271.2H140.4V271.4H141.4V271.1H142.4V272.4H143.4V272.6H144.4V271.6H146.4V272.1H147.4V272H148.4V273.5H149.4V271.5H150.4V272.7H151.4V272.3H152.4V272.8H153.4V272H154.4V271.9H155.4V272.1H156.4V272.4H157.4V272.2H158.4V273.6H159.4V272.6H160.4V271.3H161.4V272.4H162.4V272.1H164.4V272.2H165.4V271.9H166.4V271.7H167.4V271.5H169.4V273.1H170.4V273.4H172.4V273.1H173.4V271.9H174.4V273H175.4V272H176.4V271.6H178.4V271.8H179.4V272.1H180.4V271.9H181.4V271.8H182.4V272.4H183.4V272.3H184.4V272.6H185.4V272.8H186.4V272.2H187.4V271.9H188.4V272.6H189.4V272.2H190.4V274.7H191.4V275.5H192.4V273.1H193.4V274H194.4V275H195.4V274.1H196.4V275.7H197.4V274.9H198.4V273.9H199.4V275.6H200.4V275H201.4V273.5H202.4V275.8H203.4V274.8H204.4V275.6H205.4V275.2H206.4V275.5H207.4V276.4H208.4V273.3H209.4V276H210.4V274.3H211.4V276.9H212.4V277.1H213.4V278H214.4V275.6H215.4V276.7H216.4V277.4H217.4V273.1H218.4V275.2H219.4V274.6H220.4V277.3H221.4V276.3H222.4V273.1H223.4V277H224.4V275.1H225.4V273.8H226.4V272.4H227.4V272.5H228.4V271.9H229.4V272.3H230.4V272.7H231.4V272.1H232.4V272.2H233.4V273.6H234.4V272.1H235.4V273.2H236.4V271.5H237.4V272.2H238.4V272.1H239.4V272.4H240.4V276.8H241.4V276.1H242.4V272.8H243.4V280.2H244.4V277.5H245.4V276.6H246.4V277.9H247.4V276.1H248.4V279.4H249.4V278.4H250.4V279.7H251.4V276.6H252.4V278.6H253.4V277.1H254.4V278H255.4V279.2H257.4V274.8H258.4V277.7H259.4V274.6H260.4V275H261.4V279.3H262.4V277.9H263.4V276.1H264.4V275.9H265.4V275.7H266.4V276.8H267.4V280H268.4V280.8H269.4V274.6H270.4V277.2H271.4V276.5H272.4V274.2H273.4V275.5H274.4V276.1H275.4V275.4H276.4V277.1H277.4V277.3H278.4V276H279.4V275.9H280.4V277.1H281.4V276.3H282.4V277.4H283.4V278H284.4V276.6H285.4V275.1H286.4V275.2H287.4V274.9H288.4V275.1H289.4V275.7H290.4V293.7H291.4V292.4H292.4V293.7H293.4V296.4H294.4V295.2H295.4V296.6H296.4V305.3H297.4V301.7H298.4V304.4H299.4V304.9H300.4V301.6H301.4V305.7H302.4V304.1H303.4V298.6H304.4V305.2H305.4V303.8H306.4V301.3H307.4V305.8H308.4V305.9H311.4V300.9H312.4V303.6H313.4V296.1H314.4V302.7H315.4V305.7H318.4V305.3H319.4V305.1H320.4V305.8H321.4V305.9H322.4V305.8H323.4V305.6H324.4V305.7H325.4V305.5H326.4V305.9H327.4V305.6H329.4V305.8H330.4V305.6H331.4V305.1H332.4V305.9H335.4V305.8H336.4V305.9H337.4V304.8H338.4V305.5H339.4V305.2H340.4V304.6H341.4V305.8H342.4V305.3H343.4V305.1H344.4V305.9H345.4V304.8H346.4V297H347.4V294.8H348.4V305.9H349.4V300.5H350.4V292.4H351.4V301.2H352.4V299H353.4V303.6H354.4V295.6H355.4V299.9H356.4V303.4H357.4V295.6H358.4V295H359.4V298H360.4V304.8H361.4V302.3H362.4V287.4H363.4V298.6H364.4V299.7H365.4V295.7H366.4V302.7H367.4V292.8H368.4V294.5H369.4V287.8H370.4V297.8H371.4V286.7H372.4V302.7H373.4V301H374.4V302.4H375.4V305.9H376.4V303.1H377.4V302.4H378.4V303.3H379.4V303.1H380.4V301H381.4V305.7H382.4V305.9H384.4V305.6H385.4V305.8H386.4V305.9H387.4V305.8H388.4V305.9H389.4V305.8H390.4V305.6H391.4V305.8H392.4V305.9H393.4V305.8H394.4V305.9H395.4V304.9H396.4V305.1H397.4V302.8H398.4V303.8H399.4V305.9H400.4V305.5H401.4V302.1H402.4V302.3H403.4V303.6H404.4V304.1H405.4V305.1H406.4V302.3H407.4V304.2H408.4V304.6H409.4V304.9H410.4V305.8H411.4V302.5H412.4V301.4H413.4V303.6H414.4V300.6H415.4V303.5H416.4V303.9H417.4V305.4H418.4V304.8H419.4V303H420.4V305.8H421.4V305.9H424.4V305.8H426.4V305.6H427.4V305.5H428.4V305.7H429.4V305.9H430.4V305.4H431.4V304.3H432.4V305.9H433.4V304.6H434.4V305.9H435.4V305.3H436.4V305.9H440.4V303.5H441.4V303.7H442.4V304.8H443.4V305.9H445.4V305.8H446.4V302.2H447.4V304.5H448.4V304.8H449.4V305.7H450.4V302.5H451.4V304.9H452.4V303.1H453.4V303.6H454.4V305.7H455.4V301.8H456.4V303.7H457.4V305.3H458.4V303.2H459.4V305.4H460.4V302.4H461.4V305.9H463.4V303.5H464.4V303.7H465.4V296.1H466.4V303.3H467.4V300.8H468.4V299.6H469.4V300.2H470.4V302.2H471.4V305.3H472.4V303.3H473.4V302.7H474.4V303.5H475.4V299.9H476.4V301.8H477.4V301H478.4V300.1H479.4V303.9H480.4V303.6H481.4V303.7H482.4V302.7H483.4V304H484.4V303.2H485.4V305.7H486.4V304.1H487.4V303.4H488.4V305.9H489.4V305.2H490.4V302.9H491.4V304.2H492.4V305.9H493.4V305.3H494.4V305.9H495.4V303.8H496.4V302.3H497.4V305.3H498.4V303.5H499.4V304.2H500.4V300.3H501.4V304.7H502.4V296.2H503.4V302.4H504.4V299.5H505.4V302.4H506.4V302.6H507.4V299.4H508.4V299.5H509.4V299.8H510.4V300.1H511.4V305H512.4V303H513.4V302.4H514.4V299H515.4V300H516.4V301.8H517.4V303.9H518.4V303.3H519.4V300.7H520.4V305.6H521.4V303.7H522.4V301.5H523.4V299H524.4V303.4H525.4V302.6H526.4V303.6H527.4V299.7H528.4V297.3H529.4V296.4H530.4V299.8H531.4V300.4H532.4V304.1H533.4V301.3H534.4V304.3H535.4V301.7H536.4V302.3H537.4V304.6H538.4V304.2H539.4V299.4H540.4V299.3H541.4V295.7H542.4V305.9H543.4V303.7H544.4V299.7H545.4V300.2H546.4V305.2H547.4V300.6H548.4V293.6H549.4V294H550.4V292.4H551.4V289.3H552.4V289.9H553.4V295H554.4V293.6H555.4V295H556.4V292.1H557.4V298.7H558.4V291.6H559.4V298.4H560.4V305.9H561.4V291.8H562.4V293.6H563.4V292.6H564.4V291.1H565.4V296.3H566.4V293.6H567.4V292.7H568.4V293.2H569.4V290.4H570.4V290.2H571.4V293.2H572.4V288H573.4V281.4H574.4V283.1H575.4V277H576.4V286.5H577.4V288.2H578.4V287.2H579.4V283H580.4V284.7H581.4V284.4H582.4V284H583.4V282.7H584.4V280.7H585.4V279.3H586.4V282.3H587.4V287H588.4V289.3H589.4V288.9H590.4V289.5H591.4V287.3H592.4V282.1H593.4V291.2H594.4V282.8H595.4V284.5H596.4V283H597.4V278H598.4V281.3H599.4V288H600.4V279.3H601.4V283H602.4V283.4H603.4V286.8H604.4V283H605.4V281.8H606.4V288.2H607.4V279.2H608.4V288.3H609.4V282.8H610.4V287.7H611.4V284H612.4V277.7H613.4V280.8H614.4V285H615.4V283.6H616.4V281.7H617.4V274.4H618.4V270.8H685V305.9Z" fill="#0068AC"/>
<path d="M39.4,305.9H39.4V290.3H40.4V287.5H41.4V285.7H42.4V284H43.4V284.3H44.4V287.9H45.4V286.5H46.4V277.2H47.4V284.4H48.4V280.3H49.4V283.9H50.4V277.4H51.4V278.9H52.4V281.6H53.4V280.1H54.4V278.2H55.4V277.3H56.4V276.7H57.4V277.2H58.4V274.3H59.4V277.4H60.4V279.8H61.4V276.5H62.4V280.6H63.4V281H64.4V278.2H65.4V278.7H66.4V279.3H67.4V278H68.4V279.2H69.4V274.8H70.4V276H71.4V277.3H72.4V279.1H73.4V278.6H74.4V279.1H75.4V278.8H76.4V277.4H77.4V279.2H78.4V278.8H79.4V274.8H80.4V279H81.4V277.9H82.4V276.7H83.4V284.5H84.4V279.2H85.4V276.9H86.4V276.7H87.4V275H88.4V280.7H89.4V277.3H90.4V277.6H91.4V278.2H92.4V281.9H93.4V278.1H94.4V275.1H95.4V284.5H96.4V288.1H97.4V282.4H98.4V283.8H99.4V288.5H100.4V278.4H101.4V279H102.4V276.5H103.4V278.8H104.4V276.6H105.4V278.6H106.4V280H107.4V280.6H108.4V278.9H109.4V279H110.4V284.2H111.4V280.1H112.4V278.1H113.4V276.6H114.4V279.4H115.4V283.1H116.4V281.3H117.4V278.8H118.4V277.4H119.4V277.3H120.4V272.8H121.4V272.1H122.4V272.5H124.4V272.7H125.4V271.6H126.4V272.4H127.4V272.1H128.4V272.2H129.4V272.7H130.4V271.2H131.4V272.3H132.4V272.8H133.4V271.9H134.4V272.1H135.4V271.7H136.4V271.9H137.4V272.2H138.4V272.3H139.4V271.3H140.4V271.4H141.4V271.2H142.4V272.6H143.4V272.7H144.4V271.6H146.4V272.1H147.4V272H148.4V273.5H149.4V271.5H150.4V273.2H151.4V272.3H152.4V272.9H153.4V272.1H154.4V271.9H155.4V272.1H156.4V272.5H157.4V272.2H158.4V273.9H159.4V272.6H160.4V271.7H161.4V272.5H162.4V272.1H164.4V272.2H165.4V271.9H166.4V271.7H167.4V271.5H168.4V271.6H169.4V273.1H170.4V273.4H171.4V273.5H172.4V273.1H173.4V272H174.4V273H175.4V272H176.4V271.6H178.4V272H179.4V272.1H180.4V272.2H181.4V271.8H182.4V272.5H184.4V272.6H185.4V272.8H186.4V272.5H187.4V272.2H188.4V272.6H189.4V272.3H190.4V274.7H191.4V278.8H192.4V276.9H193.4V274.2H194.4V277.5H195.4V276.2H197.4V275.4H198.4V275.5H199.4V275.6H200.4V275H201.4V276.4H202.4V277.2H203.4V274.9H204.4V275.7H205.4V278.3H206.4V278.1H207.4V279.9H208.4V275.6H209.4V278.4H210.4V276.7H211.4V277.3H212.4V277.1H213.4V278.5H214.4V275.6H215.4V277.2H216.4V278.3H217.4V273.1H218.4V280.6H219.4V276.1H220.4V279H221.4V277H222.4V277.1H223.4V278.2H224.4V276H225.4V273.9H226.4V272.4H227.4V272.5H228.4V271.9H229.4V272.6H230.4V272.7H231.4V272.5H233.4V273.7H234.4V272.5H235.4V273.2H236.4V271.8H237.4V272.2H239.4V272.4H240.4V277.7H241.4V276.1H242.4V276.6H243.4V281.2H244.4V279.3H245.4V276.6H246.4V277.9H247.4V277.1H248.4V279.4H249.4V279.8H250.4V280.5H251.4V278H252.4V278.6H253.4V277.3H254.4V278H255.4V280.4H256.4V279.4H257.4V275.1H258.4V277.7H259.4V276.8H260.4V276.9H261.4V280.1H262.4V279.8H263.4V276.1H264.4V275.9H265.4V277.5H266.4V276.8H267.4V280.4H268.4V281.7H269.4V277.4H270.4V277.2H271.4V276.5H272.4V275.1H273.4V275.5H274.4V276.5H275.4V275.4H276.4V277.1H277.4V277.4H278.4V276H279.4V276.2H280.4V277.4H281.4V276.3H282.4V278.4H283.4V278H284.4V276.7H285.4V275.1H286.4V275.6H287.4V275H288.4V275.4H289.4V275.7H290.4V297H291.4V295H292.4V295.3H293.4V296.4H294.4V296.9H295.4V297.9H296.4V305.7H297.4V301.7H298.4V305.8H299.4V304.9H300.4V301.7H301.4V305.7H302.4V305.9H303.4V298.9H304.4V305.9H305.4V303.8H306.4V302.2H307.4V305.9H311.4V301.7H312.4V303.6H313.4V297H314.4V302.7H315.4V305.7H318.4V305.3H319.4V305.6H320.4V305.9H322.4V305.8H323.4V305.6H324.4V305.7H325.4V305.5H326.4V305.9H327.4V305.6H329.4V305.8H330.4V305.6H331.4V305.1H332.4V305.9H337.4V305.3H338.4V305.5H339.4V305.4H340.4V304.8H341.4V305.8H342.4V305.3H343.4V305.1H344.4V305.9H345.4V304.8H346.4V302.3H347.4V302.8H348.4V305.9H349.4V300.5H350.4V296.4H351.4V303.3H352.4V299H353.4V304.7H354.4V302.4H355.4V302.6H356.4V303.4H357.4V298.2H358.4V302H359.4V300.4H360.4V304.8H361.4V305.7H362.4V289.5H363.4V301.8H364.4V301.4H365.4V299.3H366.4V303.1H367.4V297.1H368.4V294.5H369.4V301.8H370.4V300.7H371.4V287.7H372.4V302.7H373.4V304.4H374.4V304.1H375.4V305.9H376.4V303.1H377.4V302.7H378.4V303.4H379.4V305.2H380.4V301H381.4V305.9H384.4V305.7H385.4V305.9H387.4V305.8H388.4V305.9H389.4V305.8H391.4V305.9H393.4V305.8H394.4V305.9H395.4V304.9H396.4V305.9H397.4V304.7H398.4V305.3H399.4V305.9H401.4V304.2H402.4V305.7H403.4V305H404.4V304.2H405.4V305.9H406.4V305.8H407.4V305.2H408.4V304.7H409.4V305.5H410.4V305.8H411.4V302.8H412.4V305.9H413.4V305.1H414.4V305.5H415.4V303.5H416.4V305.9H418.4V305.7H419.4V304.7H420.4V305.8H421.4V305.9H425.4V305.8H426.4V305.6H428.4V305.7H429.4V305.9H430.4V305.4H431.4V304.9H432.4V305.9H433.4V305H434.4V305.9H435.4V305.7H436.4V305.9H442.4V305.2H443.4V305.9H447.4V305.8H448.4V305.9H450.4V303.2H451.4V305.9H453.4V303.7H454.4V305.9H455.4V301.8H456.4V303.7H457.4V305.3H458.4V303.5H459.4V305.9H460.4V302.7H461.4V305.9H463.4V303.5H464.4V303.7H465.4V296.1H466.4V303.3H467.4V300.8H468.4V299.9H469.4V300.3H470.4V302.9H471.4V305.3H472.4V303.3H473.4V302.7H474.4V303.5H475.4V300.9H476.4V302.1H477.4V301.9H478.4V300.1H479.4V303.9H480.4V304H481.4V304.2H482.4V303.1H483.4V304H484.4V303.2H485.4V305.9H486.4V304.6H487.4V303.4H488.4V305.9H489.4V305.2H490.4V302.9H491.4V304.4H492.4V305.9H493.4V305.3H494.4V305.9H495.4V304.5H496.4V302.6H497.4V305.7H498.4V303.5H499.4V304.2H500.4V300.6H501.4V304.8H502.4V296.7H503.4V303H504.4V299.5H505.4V302.4H506.4V303H507.4V299.4H508.4V299.5H509.4V300.5H510.4V300.2H511.4V305H512.4V303H513.4V302.4H514.4V299.3H515.4V301H516.4V301.9H517.4V304.4H519.4V300.7H520.4V305.9H521.4V303.7H522.4V301.5H523.4V299.5H524.4V303.4H525.4V302.7H526.4V303.6H527.4V303.3H528.4V301.5H529.4V304.2H530.4V303.8H531.4V303.7H532.4V305.9H533.4V305.6H534.4V305.4H535.4V302.8H536.4V305.8H537.4V304.7H538.4V305.5H539.4V304.5H540.4V304.2H541.4V301.8H542.4V305.9H543.4V303.7H544.4V305.1H545.4V303.2H546.4V305.2H547.4V305.9H549.4V302.4H550.4V299.7H551.4V303.8H552.4V301.2H553.4V305.9H554.4V305.2H555.4V305.9H556.4V304.5H557.4V305.9H558.4V305.8H559.4V305.9H561.4V300.7H562.4V303.6H563.4V305H564.4V305.6H565.4V303.3H566.4V305.5H567.4V305.8H568.4V303.5H569.4V305.9H570.4V304.4H571.4V303.2H572.4V305.2H573.4V298.8H574.4V300.8H575.4V299.6H576.4V304H577.4V302.7H578.4V304.3H579.4V301.6H580.4V303.9H581.4V298.9H582.4V305.9H583.4V303.8H584.4V301.1H585.4V300.4H586.4V302.7H587.4V305.9H588.4V303.9H589.4V305.8H590.4V305.4H591.4V305.9H592.4V303H593.4V305.9H596.4V304.9H597.4V305.9H598.4V302.9H599.4V305.9H600.4V304.4H601.4V305.9H602.4V300.6H603.4V305.9H604.4V305.2H605.4V298.6H606.4V305.9H607.4V298.2H608.4V305.7H609.4V305.9H610.4V302.8H611.4V305.9H612.4V299.9H613.4V294.5H614.4V304.1H615.4V301.7H616.4V305.9H617.4V305.1H618.4V305.9H685V305.9Z" fill="#006838"/>
<text x="34.6" y="139.9" font-size="8.2" text-anchor="end" fill="#231F20"><tspan font-style="italic">k</tspan> = 2</text>
<text x="34.6" y="179.8" font-size="8.2" text-anchor="end" fill="#231F20"><tspan font-style="italic">k</tspan> = 3</text>
<text x="34.6" y="214.9" font-size="8.2" text-anchor="end" fill="#231F20"><tspan font-style="italic">k</tspan> = 4</text>
<text x="34.6" y="253.7" font-size="8.2" text-anchor="end" fill="#231F20"><tspan font-style="italic">k</tspan> = 5</text>
<text x="34.6" y="290.0" font-size="8.2" text-anchor="end" fill="#231F20"><tspan font-style="italic">k</tspan> = 6</text>
<text x="117.8" y="118.9" font-size="7.3" letter-spacing="-0.3" fill="#231F20">S2021</text>
<text x="247.2" y="118.9" font-size="7.3" letter-spacing="-0.3" fill="#231F20">S21</text>
<text x="260.9" y="118.9" font-size="7.3" letter-spacing="-0.3" fill="#231F20">S2024</text>
<text x="298.5" y="118.9" font-size="7.3" letter-spacing="-0.3" fill="#231F20">Z203</text>
<text x="398.1" y="118.9" font-size="7.3" letter-spacing="-0.3" fill="#231F20">Z95</text>
<text x="413.6" y="118.9" font-size="7.3" letter-spacing="-0.3" fill="#231F20">Dongzao</text>
<text x="455.9" y="118.9" font-size="7.3" letter-spacing="-0.3" fill="#231F20">Junzao</text>
<text x="584.3" y="118.9" font-size="7.3" letter-spacing="-0.3" fill="#231F20">Z94</text>
<line x1="127.4" y1="109" x2="127.4" y2="111.6" stroke="#E8432E" stroke-width="0.6"/>
<line x1="305.5" y1="109" x2="305.5" y2="111.6" stroke="#231F20" stroke-width="0.6"/>
<line x1="461.5" y1="109" x2="461.5" y2="111.6" stroke="#E8432E" stroke-width="0.6"/>
<line x1="590.5" y1="109" x2="590.5" y2="111.6" stroke="#231F20" stroke-width="0.6"/>
<path d="M257.8,111.6V109.4H260.2V111.6" fill="none" stroke="#E8432E" stroke-width="0.6"/>
<path d="M409.6,111.6L410.6,109.2" fill="none" stroke="#231F20" stroke-width="0.6"/>
<path d="M412.4,109.2L413.4,111.6" fill="none" stroke="#E8432E" stroke-width="0.6"/>
<text x="162" y="316.4" font-size="7.5" text-anchor="middle" font-weight="normal" font-style="normal" fill="#231F20" >Wild</text>
<text x="320" y="316.4" font-size="7.5" text-anchor="middle" font-weight="normal" font-style="normal" fill="#231F20" >C-sub1</text>
<text x="400.7" y="316.4" font-size="7.5" text-anchor="middle" font-weight="normal" font-style="normal" fill="#231F20" >C-sub2</text>
<text x="489" y="316.4" font-size="7.5" text-anchor="middle" font-weight="normal" font-style="normal" fill="#231F20" >C-sub3</text>
<text x="573" y="316.4" font-size="7.5" text-anchor="middle" font-weight="normal" font-style="normal" fill="#231F20" >C-sub4</text>
<text x="651" y="316.4" font-size="7.5" text-anchor="middle" font-weight="normal" font-style="normal" fill="#231F20" >C-sub5</text>
<line x1="39.4" y1="109" x2="39.4" y2="320" stroke="#231F20" stroke-width="0.9" stroke-dasharray="3.2,3.8"/>
<line x1="290.4" y1="109" x2="290.4" y2="320" stroke="#231F20" stroke-width="0.9" stroke-dasharray="3.2,3.8"/>
<line x1="294.9" y1="109" x2="294.9" y2="320" stroke="#231F20" stroke-width="0.9" stroke-dasharray="3.2,3.8"/>
<line x1="345.9" y1="109" x2="345.9" y2="320" stroke="#231F20" stroke-width="0.9" stroke-dasharray="3.2,3.8"/>
<line x1="453.3" y1="109" x2="453.3" y2="320" stroke="#231F20" stroke-width="0.9" stroke-dasharray="3.2,3.8"/>
<line x1="527.2" y1="109" x2="527.2" y2="320" stroke="#231F20" stroke-width="0.9" stroke-dasharray="3.2,3.8"/>
<line x1="617.6" y1="109" x2="617.6" y2="320" stroke="#231F20" stroke-width="0.9" stroke-dasharray="3.2,3.8"/>
<line x1="684.4" y1="109" x2="684.4" y2="320" stroke="#231F20" stroke-width="0.9" stroke-dasharray="3.2,3.8"/>
<path d="M42.8,346.0H228.1V517.1H42.8Z" fill="none" stroke="#231F20" stroke-width="1.5"/>
<text x="33.0" y="348.45" font-size="7.9" text-anchor="end" fill="#231F20" >0.06</text>
<text x="33.0" y="376.90000000000003" font-size="7.9" text-anchor="end" fill="#231F20" >0.04</text>
<text x="33.0" y="405.35" font-size="7.9" text-anchor="end" fill="#231F20" >0.02</text>
<text x="33.0" y="433.8" font-size="7.9" text-anchor="end" fill="#231F20" >0</text>
<text x="33.0" y="462.25" font-size="7.9" text-anchor="end" fill="#231F20" >&#8211;0.02</text>
<text x="33.0" y="490.7" font-size="7.9" text-anchor="end" fill="#231F20" >&#8211;0.04</text>
<text x="33.0" y="519.15" font-size="7.9" text-anchor="end" fill="#231F20" >&#8211;0.06</text>
<text x="42.900000000000006" y="531.2" font-size="7.9" text-anchor="middle" fill="#231F20" >&#8211;0.06</text>
<text x="73.70000000000002" y="531.2" font-size="7.9" text-anchor="middle" fill="#231F20" >&#8211;0.04</text>
<text x="104.50000000000001" y="531.2" font-size="7.9" text-anchor="middle" fill="#231F20" >&#8211;0.02</text>
<text x="135.3" y="531.2" font-size="7.9" text-anchor="middle" fill="#231F20" >0</text>
<text x="166.10000000000002" y="531.2" font-size="7.9" text-anchor="middle" fill="#231F20" >0.02</text>
<text x="196.9" y="531.2" font-size="7.9" text-anchor="middle" fill="#231F20" >0.04</text>
<text x="227.70000000000002" y="531.2" font-size="7.9" text-anchor="middle" fill="#231F20" >0.06</text>
<path d="M37.4,345.6H42.8M37.4,374.1H42.8M37.4,402.6H42.8M37.4,431.0H42.8M37.4,459.4H42.8M37.4,487.9H42.8M37.4,516.4H42.8M42.9,517.1V522.4M73.7,517.1V522.4M104.5,517.1V522.4M135.3,517.1V522.4M166.1,517.1V522.4M196.9,517.1V522.4M227.7,517.1V522.4" fill="none" stroke="#231F20" stroke-width="1.1"/>
<text x="138.7" y="543.2" font-size="8.15" text-anchor="middle" fill="#231F20" >Eigenvector 1 (38.93%)</text>
<text transform="translate(7.4,428.2) rotate(-90)" font-size="8.1" text-anchor="middle" fill="#231F20">Eigenvector 2 (18.70%)</text>
<path d="M42.8,346.0H93.6V402.6H42.8" fill="none" stroke="#231F20" stroke-width="1.0"/>
<text x="52.8" y="355.2" font-size="7.0" text-anchor="start" fill="#231F20" >Wild</text>
<text x="52.8" y="364.1" font-size="7.0" text-anchor="start" fill="#231F20" >C-sub1</text>
<text x="52.8" y="372.8" font-size="7.0" text-anchor="start" fill="#231F20" >C-sub2</text>
<text x="52.8" y="381.6" font-size="7.0" text-anchor="start" fill="#231F20" >C-sub3</text>
<text x="52.8" y="390.2" font-size="7.0" text-anchor="start" fill="#231F20" >C-sub4</text>
<text x="52.8" y="398.7" font-size="7.0" text-anchor="start" fill="#231F20" >C-sub5</text>
<path d="M93.2,426.1h3.4M94.9,424.4v3.4M102.7,421.0h3.4M104.4,419.3v3.4M108.5,418.8h3.4M110.2,417.1v3.4M88.8,433.2h3.4M90.5,431.5v3.4M98.3,431.7h3.4M100.0,430.0v3.4M97.8,435.0h3.4M99.5,433.3v3.4M104.9,433.8h3.4M106.6,432.1v3.4M109.3,435.4h3.4M111.0,433.7v3.4M118.8,436.1h3.4M120.5,434.4v3.4M119.5,440.5h3.4M121.2,438.8v3.4M125.1,440.5h3.4M126.8,438.8v3.4M114.9,442.3h3.4M116.6,440.6v3.4M111.2,445.2h3.4M112.9,443.5v3.4M119.3,444.8h3.4M121.0,443.1v3.4M125.4,445.2h3.4M127.1,443.5v3.4M129.8,450.3h3.4M131.5,448.6v3.4M120.7,452.8h3.4M122.4,451.1v3.4M113.7,456.6h3.4M115.4,454.9v3.4M122.5,457.2h3.4M124.2,455.5v3.4M131.7,457.2h3.4M133.4,455.5v3.4M102.0,437.9h3.4M103.7,436.2v3.4M104.9,441.5h3.4M106.6,439.8v3.4M103.4,445.2h3.4M105.1,443.5v3.4M102.0,454.0h3.4M103.7,452.3v3.4M105.6,454.0h3.4M107.3,452.3v3.4M106.6,458.4h3.4M108.3,456.7v3.4M102.0,460.6h3.4M103.7,458.9v3.4M106.6,462.5h3.4M108.3,460.8v3.4M100.5,464.5h3.4M102.2,462.8v3.4M96.1,465.4h3.4M97.8,463.7v3.4M91.0,465.4h3.4M92.7,463.7v3.4M84.3,466.0h3.4M86.0,464.3v3.4M89.5,470.9h3.4M91.2,469.2v3.4M107.1,468.2h3.4M108.8,466.5v3.4M119.5,462.8h3.4M121.2,461.1v3.4M117.3,477.7h3.4M119.0,476.0v3.4M61.6,468.9h3.4M63.3,467.2v3.4M57.2,463.5h3.4M58.9,461.8v3.4M58.0,457.7h3.4M59.7,456.0v3.4M92.9,426.0h3.4M94.6,424.3v3.4M102.9,420.6h3.4M104.6,418.9v3.4M117.6,435.2h3.4M119.3,433.5v3.4M111.3,450.0h3.4M113.0,448.3v3.4M115.3,449.0h3.4M117.0,447.3v3.4M94.3,447.0h3.4M96.0,445.3v3.4M97.3,451.0h3.4M99.0,449.3v3.4M81.3,440.9h3.4M83.0,439.2v3.4M93.3,430.0h3.4M95.0,428.3v3.4M58.6,459.0h3.4M60.3,457.3v3.4M83.9,445.1h3.4M85.6,443.4v3.4M76.3,453.9h3.4M78.0,452.2v3.4M82.2,448.0h3.4M83.9,446.3v3.4M74.6,451.7h3.4M76.3,450.0v3.4M67.7,454.7h3.4M69.4,453.0v3.4M81.5,446.9h3.4M83.2,445.2v3.4M91.7,442.9h3.4M93.4,441.2v3.4M97.9,435.2h3.4M99.6,433.5v3.4M88.8,436.6h3.4M90.5,434.9v3.4M72.3,453.9h3.4M74.0,452.2v3.4M97.6,435.9h3.4M99.3,434.2v3.4M73.7,453.8h3.4M75.4,452.1v3.4M64.1,460.5h3.4M65.8,458.8v3.4M63.3,456.0h3.4M65.0,454.3v3.4M72.7,450.6h3.4M74.4,448.9v3.4M66.9,453.8h3.4M68.6,452.1v3.4M65.6,457.4h3.4M67.3,455.7v3.4M86.7,443.0h3.4M88.4,441.3v3.4M84.5,446.0h3.4M86.2,444.3v3.4M65.9,458.4h3.4M67.6,456.7v3.4M96.7,444.3h3.4M98.4,442.6v3.4M96.9,437.7h3.4M98.6,436.0v3.4M67.5,451.8h3.4M69.2,450.1v3.4M66.0,452.4h3.4M67.7,450.7v3.4M99.7,442.7h3.4M101.4,441.0v3.4M63.8,459.9h3.4M65.5,458.2v3.4M88.1,446.4h3.4M89.8,444.7v3.4M77.7,450.9h3.4M79.4,449.2v3.4M69.0,456.5h3.4M70.7,454.8v3.4M86.1,445.0h3.4M87.8,443.3v3.4M68.1,457.3h3.4M69.8,455.6v3.4M74.5,455.3h3.4M76.2,453.6v3.4M85.4,442.6h3.4M87.1,440.9v3.4M65.6,457.2h3.4M67.3,455.5v3.4M78.0,448.3h3.4M79.7,446.6v3.4M90.5,442.5h3.4M92.2,440.8v3.4M90.9,444.9h3.4M92.6,443.2v3.4M68.3,454.5h3.4M70.0,452.8v3.4M81.9,450.5h3.4M83.6,448.8v3.4M90.7,438.9h3.4M92.4,437.2v3.4M82.6,444.4h3.4M84.3,442.7v3.4M75.9,453.8h3.4M77.6,452.1v3.4M101.4,436.0h3.4M103.1,434.3v3.4M76.5,450.6h3.4M78.2,448.9v3.4M71.3,448.9h3.4M73.0,447.2v3.4M74.0,447.7h3.4M75.7,446.0v3.4M81.1,440.1h3.4M82.8,438.4v3.4M72.2,450.2h3.4M73.9,448.5v3.4M77.4,445.2h3.4M79.1,443.5v3.4M74.7,452.4h3.4M76.4,450.7v3.4M84.3,447.9h3.4M86.0,446.2v3.4M68.1,451.9h3.4M69.8,450.2v3.4M84.8,436.8h3.4M86.5,435.1v3.4M69.4,449.1h3.4M71.1,447.4v3.4M85.0,447.1h3.4M86.7,445.4v3.4M87.0,431.2h3.4M88.7,429.5v3.4M89.5,437.6h3.4M91.2,435.9v3.4M70.7,450.8h3.4M72.4,449.1v3.4M74.7,445.5h3.4M76.4,443.8v3.4M88.5,449.3h3.4M90.2,447.6v3.4M78.3,444.8h3.4M80.0,443.1v3.4M82.4,442.1h3.4M84.1,440.4v3.4M87.3,444.6h3.4M89.0,442.9v3.4M74.1,449.1h3.4M75.8,447.4v3.4M83.2,444.4h3.4M84.9,442.7v3.4M76.5,451.1h3.4M78.2,449.4v3.4M65.9,457.9h3.4M67.6,456.2v3.4M71.1,456.2h3.4M72.8,454.5v3.4M70.3,449.6h3.4M72.0,447.9v3.4M69.3,454.7h3.4M71.0,453.0v3.4M73.6,454.4h3.4M75.3,452.7v3.4M67.5,454.6h3.4M69.2,452.9v3.4M63.9,457.0h3.4M65.6,455.3v3.4M76.5,451.9h3.4M78.2,450.2v3.4M96.3,434.5h3.4M98.0,432.8v3.4M86.5,439.3h3.4M88.2,437.6v3.4M64.0,454.5h3.4M65.7,452.8v3.4M100.0,437.1h3.4M101.7,435.4v3.4M72.6,452.5h3.4M74.3,450.8v3.4M62.7,455.5h3.4M64.4,453.8v3.4M62.9,452.5h3.4M64.6,450.8v3.4M71.3,453.0h3.4M73.0,451.3v3.4M73.5,453.3h3.4M75.2,451.6v3.4M99.4,435.4h3.4M101.1,433.7v3.4M73.1,454.0h3.4M74.8,452.3v3.4M70.8,458.8h3.4M72.5,457.1v3.4M76.2,453.0h3.4M77.9,451.3v3.4M64.3,454.8h3.4M66.0,453.1v3.4M71.9,448.8h3.4M73.6,447.1v3.4M62.4,457.5h3.4M64.1,455.8v3.4M94.2,436.0h3.4M95.9,434.3v3.4M74.9,460.8h3.4M76.6,459.1v3.4M68.2,451.8h3.4M69.9,450.1v3.4M77.9,442.9h3.4M79.6,441.2v3.4M66.4,454.6h3.4M68.1,452.9v3.4M77.0,450.9h3.4M78.7,449.2v3.4M75.3,449.4h3.4M77.0,447.7v3.4M85.3,443.2h3.4M87.0,441.5v3.4M63.6,456.1h3.4M65.3,454.4v3.4M91.1,439.8h3.4M92.8,438.1v3.4M83.0,444.8h3.4M84.7,443.1v3.4M82.0,441.7h3.4M83.7,440.0v3.4M89.7,441.8h3.4M91.4,440.1v3.4M91.3,443.8h3.4M93.0,442.1v3.4M96.1,444.3h3.4M97.8,442.6v3.4M81.6,446.0h3.4M83.3,444.3v3.4M89.2,441.7h3.4M90.9,440.0v3.4M73.0,448.9h3.4M74.7,447.2v3.4M74.1,456.0h3.4M75.8,454.3v3.4M91.2,443.1h3.4M92.9,441.4v3.4M90.5,436.7h3.4M92.2,435.0v3.4M63.3,451.2h3.4M65.0,449.5v3.4M95.8,435.9h3.4M97.5,434.2v3.4M91.0,446.3h3.4M92.7,444.6v3.4M93.8,436.3h3.4M95.5,434.6v3.4M72.2,453.0h3.4M73.9,451.3v3.4M79.4,447.9h3.4M81.1,446.2v3.4M83.2,447.1h3.4M84.9,445.4v3.4M74.3,452.5h3.4M76.0,450.8v3.4M79.6,441.3h3.4M81.3,439.6v3.4M64.5,457.4h3.4M66.2,455.7v3.4M72.8,447.7h3.4M74.5,446.0v3.4M77.6,453.6h3.4M79.3,451.9v3.4M64.9,454.0h3.4M66.6,452.3v3.4M87.4,437.7h3.4M89.1,436.0v3.4M67.9,453.6h3.4M69.6,451.9v3.4M84.4,443.3h3.4M86.1,441.6v3.4M66.0,457.9h3.4M67.7,456.2v3.4M66.8,452.1h3.4M68.5,450.4v3.4M65.0,456.2h3.4M66.7,454.5v3.4M64.8,455.6h3.4M66.5,453.9v3.4M87.8,440.7h3.4M89.5,439.0v3.4M94.0,443.4h3.4M95.7,441.7v3.4M68.7,462.4h3.4M70.4,460.7v3.4M84.0,446.9h3.4M85.7,445.2v3.4M91.3,431.6h3.4M93.0,429.9v3.4M65.0,454.7h3.4M66.7,453.0v3.4M67.2,457.9h3.4M68.9,456.2v3.4M71.2,453.7h3.4M72.9,452.0v3.4M85.3,436.3h3.4M87.0,434.6v3.4M77.3,448.1h3.4M79.0,446.4v3.4M75.6,445.1h3.4M77.3,443.4v3.4M74.5,452.1h3.4M76.2,450.4v3.4M73.9,456.7h3.4M75.6,455.0v3.4M76.7,449.8h3.4M78.4,448.1v3.4M79.7,447.5h3.4M81.4,445.8v3.4M73.6,451.3h3.4M75.3,449.6v3.4M68.5,458.2h3.4M70.2,456.5v3.4M74.8,450.8h3.4M76.5,449.1v3.4M69.4,456.0h3.4M71.1,454.3v3.4M70.9,456.9h3.4M72.6,455.2v3.4M66.9,456.7h3.4M68.6,455.0v3.4M91.4,433.4h3.4M93.1,431.7v3.4M77.8,449.6h3.4M79.5,447.9v3.4M81.9,450.3h3.4M83.6,448.6v3.4M86.8,446.0h3.4M88.5,444.3v3.4M64.7,458.8h3.4M66.4,457.1v3.4M76.9,451.1h3.4M78.6,449.4v3.4M69.0,453.8h3.4M70.7,452.1v3.4M85.2,442.0h3.4M86.9,440.3v3.4M66.2,449.2h3.4M67.9,447.5v3.4M73.9,449.8h3.4M75.6,448.1v3.4M68.5,459.5h3.4M70.2,457.8v3.4M78.1,452.4h3.4M79.8,450.7v3.4M92.1,436.9h3.4M93.8,435.2v3.4M70.9,459.3h3.4M72.6,457.6v3.4M78.0,449.3h3.4M79.7,447.6v3.4M72.1,455.5h3.4M73.8,453.8v3.4M65.0,460.0h3.4M66.7,458.3v3.4M71.9,453.7h3.4M73.6,452.0v3.4M97.2,441.9h3.4M98.9,440.2v3.4M72.8,451.3h3.4M74.5,449.6v3.4M74.2,455.5h3.4M75.9,453.8v3.4M86.6,434.8h3.4M88.3,433.1v3.4M72.1,455.5h3.4M73.8,453.8v3.4M74.1,448.5h3.4M75.8,446.8v3.4M80.5,439.6h3.4M82.2,437.9v3.4M66.1,455.1h3.4M67.8,453.4v3.4M70.7,456.5h3.4M72.4,454.8v3.4M66.3,452.6h3.4M68.0,450.9v3.4M72.2,454.2h3.4M73.9,452.5v3.4M72.0,456.0h3.4M73.7,454.3v3.4M80.0,448.8h3.4M81.7,447.1v3.4M86.7,445.4h3.4M88.4,443.7v3.4M69.7,454.7h3.4M71.4,453.0v3.4M72.7,455.6h3.4M74.4,453.9v3.4M83.0,445.5h3.4M84.7,443.8v3.4M83.1,441.6h3.4M84.8,439.9v3.4M83.6,434.5h3.4M85.3,432.8v3.4M84.6,441.5h3.4M86.3,439.8v3.4M87.2,443.2h3.4M88.9,441.5v3.4M66.2,459.1h3.4M67.9,457.4v3.4M83.2,446.5h3.4M84.9,444.8v3.4M86.0,442.9h3.4M87.7,441.2v3.4M66.6,459.2h3.4M68.3,457.5v3.4M95.7,439.2h3.4M97.4,437.5v3.4M66.7,455.9h3.4M68.4,454.2v3.4M75.8,453.3h3.4M77.5,451.6v3.4M89.0,440.0h3.4M90.7,438.3v3.4M80.8,453.0h3.4M82.5,451.3v3.4M80.7,448.7h3.4M82.4,447.0v3.4M63.9,461.7h3.4M65.6,460.0v3.4M72.9,451.6h3.4M74.6,449.9v3.4M91.2,441.4h3.4M92.9,439.7v3.4M93.5,436.8h3.4M95.2,435.1v3.4M87.7,442.5h3.4M89.4,440.8v3.4M100.7,438.6h3.4M102.4,436.9v3.4M79.0,447.9h3.4M80.7,446.2v3.4M68.3,456.9h3.4M70.0,455.2v3.4M76.0,452.1h3.4M77.7,450.4v3.4M68.1,456.3h3.4M69.8,454.6v3.4M99.9,431.1h3.4M101.6,429.4v3.4M79.9,447.8h3.4M81.6,446.1v3.4M88.4,441.5h3.4M90.1,439.8v3.4M71.0,458.3h3.4M72.7,456.6v3.4M94.4,446.0h3.4M96.1,444.3v3.4M69.3,448.1h3.4M71.0,446.4v3.4M82.6,443.7h3.4M84.3,442.0v3.4M61.0,457.7h3.4M62.7,456.0v3.4M66.0,457.1h3.4M67.7,455.4v3.4M63.6,460.0h3.4M65.3,458.3v3.4M75.6,447.1h3.4M77.3,445.4v3.4M99.3,429.4h3.4M101.0,427.7v3.4M82.0,441.3h3.4M83.7,439.6v3.4M84.9,445.9h3.4M86.6,444.2v3.4M80.8,444.9h3.4M82.5,443.2v3.4M67.6,458.4h3.4M69.3,456.7v3.4M98.6,455.7h3.4M100.3,454.0v3.4M102.3,444.0h3.4M104.0,442.3v3.4M108.3,443.1h3.4M110.0,441.4v3.4M102.3,437.9h3.4M104.0,436.2v3.4M103.4,453.4h3.4M105.1,451.7v3.4M109.1,459.3h3.4M110.8,457.6v3.4M101.6,457.8h3.4M103.3,456.1v3.4M103.0,451.9h3.4M104.7,450.2v3.4M88.1,449.4h3.4M89.8,447.7v3.4M107.4,442.2h3.4M109.1,440.5v3.4M109.6,450.1h3.4M111.3,448.4v3.4M93.3,436.1h3.4M95.0,434.4v3.4M93.2,440.6h3.4M94.9,438.9v3.4M100.6,459.4h3.4M102.3,457.7v3.4M107.8,452.0h3.4M109.5,450.3v3.4M93.1,438.8h3.4M94.8,437.1v3.4M101.6,450.4h3.4M103.3,448.7v3.4M102.3,445.7h3.4M104.0,444.0v3.4M107.1,441.5h3.4M108.8,439.8v3.4M90.9,443.0h3.4M92.6,441.3v3.4M99.7,459.3h3.4M101.4,457.6v3.4M87.0,452.5h3.4M88.7,450.8v3.4M103.8,441.8h3.4M105.5,440.1v3.4M84.1,450.7h3.4M85.8,449.0v3.4M105.5,458.8h3.4M107.2,457.1v3.4M102.7,446.8h3.4M104.4,445.1v3.4M94.2,449.7h3.4M95.9,448.0v3.4M107.6,443.9h3.4M109.3,442.2v3.4M90.2,451.7h3.4M91.9,450.0v3.4M109.4,440.9h3.4M111.1,439.2v3.4M83.2,439.0h3.4M84.9,437.3v3.4M98.1,451.7h3.4M99.8,450.0v3.4M87.4,440.9h3.4M89.1,439.2v3.4M98.9,452.8h3.4M100.6,451.1v3.4M101.6,455.0h3.4M103.3,453.3v3.4" fill="none" stroke="#006838" stroke-width="1.0"/>
<path d="M164.4,346.0h3.2v3.0h-3.2ZM167.3,359.7h3.2v3.0h-3.2ZM167.6,359.3h3.2v3.0h-3.2ZM167.3,358.8h3.2v3.0h-3.2ZM167.3,360.6h3.2v3.0h-3.2ZM151.7,369.3h3.2v3.0h-3.2ZM139.8,372.5h3.2v3.0h-3.2ZM128.3,385.1h3.2v3.0h-3.2ZM127.2,384.0h3.2v3.0h-3.2ZM133.8,383.5h3.2v3.0h-3.2ZM129.4,396.1h3.2v3.0h-3.2ZM131.6,396.6h3.2v3.0h-3.2ZM125.5,402.1h3.2v3.0h-3.2ZM127.2,406.0h3.2v3.0h-3.2ZM119.5,409.3h3.2v3.0h-3.2ZM122.2,409.8h3.2v3.0h-3.2ZM154.7,417.5h3.2v3.0h-3.2ZM156.9,410.4h3.2v3.0h-3.2ZM105.8,408.1h3.2v3.0h-3.2ZM112.2,416.3h3.2v3.0h-3.2ZM158.0,409.9h3.2v3.0h-3.2ZM129.6,396.2h3.2v3.0h-3.2ZM129.7,383.8h3.2v3.0h-3.2ZM148.8,382.9h3.2v3.0h-3.2ZM147.0,376.3h3.2v3.0h-3.2ZM145.5,385.7h3.2v3.0h-3.2ZM140.4,384.1h3.2v3.0h-3.2ZM145.2,373.5h3.2v3.0h-3.2ZM142.4,386.0h3.2v3.0h-3.2ZM136.4,383.6h3.2v3.0h-3.2ZM148.5,377.8h3.2v3.0h-3.2ZM144.7,387.4h3.2v3.0h-3.2ZM150.9,379.1h3.2v3.0h-3.2ZM152.9,385.0h3.2v3.0h-3.2ZM147.1,390.1h3.2v3.0h-3.2ZM151.0,385.1h3.2v3.0h-3.2ZM152.5,386.4h3.2v3.0h-3.2ZM154.5,383.0h3.2v3.0h-3.2ZM135.0,390.4h3.2v3.0h-3.2ZM151.5,385.8h3.2v3.0h-3.2ZM146.6,383.1h3.2v3.0h-3.2ZM147.0,379.3h3.2v3.0h-3.2ZM151.3,383.9h3.2v3.0h-3.2ZM140.2,384.6h3.2v3.0h-3.2ZM144.3,383.3h3.2v3.0h-3.2ZM149.8,395.4h3.2v3.0h-3.2ZM139.5,385.3h3.2v3.0h-3.2ZM150.9,385.4h3.2v3.0h-3.2ZM155.9,381.6h3.2v3.0h-3.2ZM144.3,383.4h3.2v3.0h-3.2ZM137.6,388.4h3.2v3.0h-3.2ZM138.4,385.9h3.2v3.0h-3.2ZM154.1,379.8h3.2v3.0h-3.2ZM145.2,382.6h3.2v3.0h-3.2ZM157.4,384.6h3.2v3.0h-3.2ZM135.1,388.3h3.2v3.0h-3.2ZM153.0,374.6h3.2v3.0h-3.2ZM128.9,395.1h3.2v3.0h-3.2ZM146.9,374.0h3.2v3.0h-3.2ZM153.2,389.8h3.2v3.0h-3.2ZM131.1,389.2h3.2v3.0h-3.2ZM150.9,383.4h3.2v3.0h-3.2ZM141.9,385.2h3.2v3.0h-3.2ZM141.2,384.2h3.2v3.0h-3.2ZM144.7,381.5h3.2v3.0h-3.2ZM149.9,387.9h3.2v3.0h-3.2ZM152.1,385.5h3.2v3.0h-3.2Z" fill="none" stroke="#EAB6C0" stroke-width="0.95"/>
<path d="M121.7,394.3h3.2v2.8h-3.2ZM161.3,383.2h3.2v2.8h-3.2ZM176.6,383.0h3.2v2.8h-3.2ZM161.8,387.2h3.2v2.8h-3.2ZM163.4,391.6h3.2v2.8h-3.2ZM138.2,392.9h3.2v2.8h-3.2ZM140.4,394.0h3.2v2.8h-3.2ZM142.0,395.1h3.2v2.8h-3.2ZM139.3,395.6h3.2v2.8h-3.2ZM138.2,398.9h3.2v2.8h-3.2ZM140.9,400.0h3.2v2.8h-3.2ZM143.1,400.6h3.2v2.8h-3.2ZM132.7,402.8h3.2v2.8h-3.2ZM136.0,403.3h3.2v2.8h-3.2ZM131.6,405.0h3.2v2.8h-3.2ZM140.4,406.6h3.2v2.8h-3.2ZM143.1,407.7h3.2v2.8h-3.2ZM146.4,408.1h3.2v2.8h-3.2ZM134.9,410.5h3.2v2.8h-3.2ZM137.6,410.5h3.2v2.8h-3.2ZM140.4,409.9h3.2v2.8h-3.2ZM143.1,411.6h3.2v2.8h-3.2ZM155.8,413.8h3.2v2.8h-3.2ZM157.4,413.8h3.2v2.8h-3.2ZM167.3,418.2h3.2v2.8h-3.2ZM143.1,425.9h3.2v2.8h-3.2ZM124.4,429.1h3.2v2.8h-3.2ZM127.7,433.0h3.2v2.8h-3.2ZM144.2,433.0h3.2v2.8h-3.2ZM148.6,433.5h3.2v2.8h-3.2ZM151.9,431.1h3.2v2.8h-3.2ZM162.4,433.0h3.2v2.8h-3.2ZM164.6,430.2h3.2v2.8h-3.2ZM165.7,427.0h3.2v2.8h-3.2ZM166.8,425.9h3.2v2.8h-3.2ZM147.1,371.7h3.2v2.8h-3.2ZM165.9,373.1h3.2v2.8h-3.2ZM165.9,374.9h3.2v2.8h-3.2ZM148.1,378.6h3.2v2.8h-3.2ZM121.4,394.5h3.2v2.8h-3.2ZM164.7,407.4h3.2v2.8h-3.2ZM152.7,391.0h3.2v2.8h-3.2ZM163.5,408.9h3.2v2.8h-3.2ZM159.6,393.2h3.2v2.8h-3.2ZM153.4,408.1h3.2v2.8h-3.2ZM165.3,391.2h3.2v2.8h-3.2ZM152.5,398.8h3.2v2.8h-3.2ZM153.9,404.9h3.2v2.8h-3.2ZM155.7,405.3h3.2v2.8h-3.2ZM152.0,400.4h3.2v2.8h-3.2ZM166.0,403.9h3.2v2.8h-3.2ZM150.9,392.7h3.2v2.8h-3.2ZM160.3,397.7h3.2v2.8h-3.2ZM155.7,399.7h3.2v2.8h-3.2ZM159.3,409.0h3.2v2.8h-3.2ZM153.5,401.4h3.2v2.8h-3.2ZM153.9,401.0h3.2v2.8h-3.2ZM161.8,393.1h3.2v2.8h-3.2ZM157.6,404.0h3.2v2.8h-3.2ZM149.5,405.3h3.2v2.8h-3.2ZM156.5,400.2h3.2v2.8h-3.2ZM159.8,405.7h3.2v2.8h-3.2ZM150.4,400.1h3.2v2.8h-3.2ZM150.1,397.9h3.2v2.8h-3.2ZM155.3,391.0h3.2v2.8h-3.2ZM154.5,399.2h3.2v2.8h-3.2ZM160.5,408.2h3.2v2.8h-3.2ZM155.7,400.7h3.2v2.8h-3.2Z" fill="#E89600"/>
<path d="M156.3,380.2h3.2v2.8h-3.2ZM153.6,386.8h3.2v2.8h-3.2ZM150.3,391.2h3.2v2.8h-3.2ZM157.4,392.9h3.2v2.8h-3.2ZM164.0,396.7h3.2v2.8h-3.2ZM172.2,395.1h3.2v2.8h-3.2ZM172.2,397.3h3.2v2.8h-3.2ZM149.2,401.7h3.2v2.8h-3.2ZM156.3,402.6h3.2v2.8h-3.2ZM168.4,405.0h3.2v2.8h-3.2ZM165.1,407.7h3.2v2.8h-3.2ZM122.8,412.1h3.2v2.8h-3.2ZM149.2,411.6h3.2v2.8h-3.2ZM153.0,411.0h3.2v2.8h-3.2ZM147.5,414.9h3.2v2.8h-3.2ZM165.1,413.8h3.2v2.8h-3.2ZM167.9,415.4h3.2v2.8h-3.2ZM168.4,416.5h3.2v2.8h-3.2ZM157.4,417.6h3.2v2.8h-3.2ZM171.1,419.8h3.2v2.8h-3.2ZM134.3,417.6h3.2v2.8h-3.2ZM144.2,421.5h3.2v2.8h-3.2ZM137.1,428.1h3.2v2.8h-3.2ZM169.5,427.0h3.2v2.8h-3.2ZM170.0,429.1h3.2v2.8h-3.2ZM172.2,429.7h3.2v2.8h-3.2ZM176.6,429.7h3.2v2.8h-3.2ZM169.5,434.1h3.2v2.8h-3.2ZM156.3,379.5h3.2v2.8h-3.2ZM156.8,380.9h3.2v2.8h-3.2ZM153.1,386.8h3.2v2.8h-3.2ZM183.4,446.6h3.2v2.8h-3.2ZM187.4,448.6h3.2v2.8h-3.2ZM186.4,452.6h3.2v2.8h-3.2ZM180.4,457.6h3.2v2.8h-3.2ZM177.4,460.6h3.2v2.8h-3.2ZM184.4,455.6h3.2v2.8h-3.2Z" fill="#38B4A6"/>
<path d="M157.2,345.9l3.2,3.2M157.2,349.1l3.2,-3.2M157.2,347.9l3.2,3.2M157.2,351.1l3.2,-3.2M157.9,349.9l3.2,3.2M157.9,353.1l3.2,-3.2M156.6,351.4l3.2,3.2M156.6,354.6l3.2,-3.2M158.9,352.9l3.2,3.2M158.9,356.1l3.2,-3.2M160.4,353.9l3.2,3.2M160.4,357.1l3.2,-3.2M159.4,355.4l3.2,3.2M159.4,358.6l3.2,-3.2M161.4,356.9l3.2,3.2M161.4,360.1l3.2,-3.2M158.4,357.9l3.2,3.2M158.4,361.1l3.2,-3.2M160.9,358.7l3.2,3.2M160.9,361.9l3.2,-3.2M156.4,353.4l3.2,3.2M156.4,356.6l3.2,-3.2M161.8,354.9l3.2,3.2M161.8,358.1l3.2,-3.2M151.3,354.1l3.2,3.2M151.3,357.3l3.2,-3.2M153.1,354.1l3.2,3.2M153.1,357.3l3.2,-3.2M164.5,354.0l3.2,3.2M164.5,357.2l3.2,-3.2M171.9,356.4l3.2,3.2M171.9,359.6l3.2,-3.2M171.9,357.8l3.2,3.2M171.9,361.0l3.2,-3.2M151.3,359.6l3.2,3.2M151.3,362.8l3.2,-3.2M151.3,361.0l3.2,3.2M151.3,364.2l3.2,-3.2M160.0,363.8l3.2,3.2M160.0,367.0l3.2,-3.2M157.2,365.6l3.2,3.2M157.2,368.8l3.2,-3.2M146.2,363.8l3.2,3.2M146.2,367.0l3.2,-3.2M145.8,366.5l3.2,3.2M145.8,369.7l3.2,-3.2M145.3,367.9l3.2,3.2M145.3,371.1l3.2,-3.2M151.3,367.0l3.2,3.2M151.3,370.2l3.2,-3.2M154.0,369.7l3.2,3.2M154.0,372.9l3.2,-3.2M138.9,368.4l3.2,3.2M138.9,371.6l3.2,-3.2M165.0,368.3l3.2,3.2M165.0,371.5l3.2,-3.2M165.0,370.6l3.2,3.2M165.0,373.8l3.2,-3.2M141.6,372.0l3.2,3.2M141.6,375.2l3.2,-3.2M150.3,379.8l3.2,3.2M150.3,383.0l3.2,-3.2M123.2,380.4l3.2,3.2M123.2,383.6l3.2,-3.2M127.8,378.7l3.2,3.2M127.8,381.9l3.2,-3.2M112.2,402.1l3.2,3.2M112.2,405.3l3.2,-3.2M116.8,402.1l3.2,3.2M116.8,405.3l3.2,-3.2M107.6,408.9l3.2,3.2M107.6,412.1l3.2,-3.2M123.9,380.0l3.2,3.2M123.9,383.2l3.2,-3.2M127.2,379.4l3.2,3.2M127.2,382.6l3.2,-3.2M160.6,357.1l3.2,3.2M160.6,360.3l3.2,-3.2M159.6,358.8l3.2,3.2M159.6,362.0l3.2,-3.2M157.6,354.4l3.2,3.2M157.6,357.6l3.2,-3.2M161.7,358.4l3.2,3.2M161.7,361.6l3.2,-3.2M159.2,357.2l3.2,3.2M159.2,360.4l3.2,-3.2M161.4,352.1l3.2,3.2M161.4,355.3l3.2,-3.2M159.7,347.6l3.2,3.2M159.7,350.8l3.2,-3.2M159.5,346.7l3.2,3.2M159.5,349.9l3.2,-3.2M160.2,346.9l3.2,3.2M160.2,350.1l3.2,-3.2M160.7,356.0l3.2,3.2M160.7,359.2l3.2,-3.2M158.6,356.7l3.2,3.2M158.6,359.9l3.2,-3.2M156.0,355.4l3.2,3.2M156.0,358.6l3.2,-3.2M162.5,354.2l3.2,3.2M162.5,357.4l3.2,-3.2M157.1,358.9l3.2,3.2M157.1,362.1l3.2,-3.2M159.5,346.3l3.2,3.2M159.5,349.5l3.2,-3.2M159.4,348.3l3.2,3.2M159.4,351.5l3.2,-3.2M157.7,354.9l3.2,3.2M157.7,358.1l3.2,-3.2M160.2,355.8l3.2,3.2M160.2,359.0l3.2,-3.2M160.3,353.0l3.2,3.2M160.3,356.2l3.2,-3.2M159.7,350.7l3.2,3.2M159.7,353.9l3.2,-3.2M160.5,350.6l3.2,3.2M160.5,353.8l3.2,-3.2M160.4,355.0l3.2,3.2M160.4,358.2l3.2,-3.2" fill="none" stroke="#56207C" stroke-width="1.05"/>
<path d="M191.2,427.3a1.5,1.25 0 1,0 3,0a1.5,1.25 0 1,0 -3,0M186.6,432.4a1.5,1.25 0 1,0 3,0a1.5,1.25 0 1,0 -3,0M178.7,443.2a1.5,1.25 0 1,0 3,0a1.5,1.25 0 1,0 -3,0M186.0,449.3a1.5,1.25 0 1,0 3,0a1.5,1.25 0 1,0 -3,0M177.2,453.0a1.5,1.25 0 1,0 3,0a1.5,1.25 0 1,0 -3,0M177.2,454.8a1.5,1.25 0 1,0 3,0a1.5,1.25 0 1,0 -3,0M181.5,457.5a1.5,1.25 0 1,0 3,0a1.5,1.25 0 1,0 -3,0M183.3,456.6a1.5,1.25 0 1,0 3,0a1.5,1.25 0 1,0 -3,0M186.0,455.7a1.5,1.25 0 1,0 3,0a1.5,1.25 0 1,0 -3,0M192.5,461.2a1.5,1.25 0 1,0 3,0a1.5,1.25 0 1,0 -3,0M178.7,466.7a1.5,1.25 0 1,0 3,0a1.5,1.25 0 1,0 -3,0M182.4,464.9a1.5,1.25 0 1,0 3,0a1.5,1.25 0 1,0 -3,0M189.7,467.6a1.5,1.25 0 1,0 3,0a1.5,1.25 0 1,0 -3,0M156.2,468.5a1.5,1.25 0 1,0 3,0a1.5,1.25 0 1,0 -3,0M159.5,472.7a1.5,1.25 0 1,0 3,0a1.5,1.25 0 1,0 -3,0M153.6,476.4a1.5,1.25 0 1,0 3,0a1.5,1.25 0 1,0 -3,0M153.6,479.5a1.5,1.25 0 1,0 3,0a1.5,1.25 0 1,0 -3,0M193.4,473.5a1.5,1.25 0 1,0 3,0a1.5,1.25 0 1,0 -3,0M195.7,475.8a1.5,1.25 0 1,0 3,0a1.5,1.25 0 1,0 -3,0M191.5,479.5a1.5,1.25 0 1,0 3,0a1.5,1.25 0 1,0 -3,0M197.0,479.5a1.5,1.25 0 1,0 3,0a1.5,1.25 0 1,0 -3,0M201.5,480.0a1.5,1.25 0 1,0 3,0a1.5,1.25 0 1,0 -3,0M193.4,482.2a1.5,1.25 0 1,0 3,0a1.5,1.25 0 1,0 -3,0M195.2,484.0a1.5,1.25 0 1,0 3,0a1.5,1.25 0 1,0 -3,0M197.5,486.8a1.5,1.25 0 1,0 3,0a1.5,1.25 0 1,0 -3,0M186.0,483.2a1.5,1.25 0 1,0 3,0a1.5,1.25 0 1,0 -3,0M203.5,487.4a1.5,1.25 0 1,0 3,0a1.5,1.25 0 1,0 -3,0M200.7,490.5a1.5,1.25 0 1,0 3,0a1.5,1.25 0 1,0 -3,0M202.5,493.2a1.5,1.25 0 1,0 3,0a1.5,1.25 0 1,0 -3,0M186.5,432.5a1.5,1.25 0 1,0 3,0a1.5,1.25 0 1,0 -3,0M194.0,478.0a1.5,1.25 0 1,0 3,0a1.5,1.25 0 1,0 -3,0M195.5,481.0a1.5,1.25 0 1,0 3,0a1.5,1.25 0 1,0 -3,0M199.0,483.0a1.5,1.25 0 1,0 3,0a1.5,1.25 0 1,0 -3,0M217.9,512.0a1.5,1.25 0 1,0 3,0a1.5,1.25 0 1,0 -3,0M218.3,515.1a1.5,1.25 0 1,0 3,0a1.5,1.25 0 1,0 -3,0M218.6,514.6a1.5,1.25 0 1,0 3,0a1.5,1.25 0 1,0 -3,0M216.4,512.6a1.5,1.25 0 1,0 3,0a1.5,1.25 0 1,0 -3,0M217.9,514.8a1.5,1.25 0 1,0 3,0a1.5,1.25 0 1,0 -3,0M217.8,513.8a1.5,1.25 0 1,0 3,0a1.5,1.25 0 1,0 -3,0M215.2,510.3a1.5,1.25 0 1,0 3,0a1.5,1.25 0 1,0 -3,0M215.4,510.1a1.5,1.25 0 1,0 3,0a1.5,1.25 0 1,0 -3,0M215.4,509.9a1.5,1.25 0 1,0 3,0a1.5,1.25 0 1,0 -3,0M213.9,509.1a1.5,1.25 0 1,0 3,0a1.5,1.25 0 1,0 -3,0M216.9,513.4a1.5,1.25 0 1,0 3,0a1.5,1.25 0 1,0 -3,0M215.7,512.0a1.5,1.25 0 1,0 3,0a1.5,1.25 0 1,0 -3,0M213.9,509.0a1.5,1.25 0 1,0 3,0a1.5,1.25 0 1,0 -3,0M215.4,509.8a1.5,1.25 0 1,0 3,0a1.5,1.25 0 1,0 -3,0M214.1,507.4a1.5,1.25 0 1,0 3,0a1.5,1.25 0 1,0 -3,0M216.0,511.1a1.5,1.25 0 1,0 3,0a1.5,1.25 0 1,0 -3,0M216.4,513.4a1.5,1.25 0 1,0 3,0a1.5,1.25 0 1,0 -3,0M212.5,506.3a1.5,1.25 0 1,0 3,0a1.5,1.25 0 1,0 -3,0M216.3,512.1a1.5,1.25 0 1,0 3,0a1.5,1.25 0 1,0 -3,0M214.1,507.9a1.5,1.25 0 1,0 3,0a1.5,1.25 0 1,0 -3,0M212.8,506.4a1.5,1.25 0 1,0 3,0a1.5,1.25 0 1,0 -3,0M212.2,506.7a1.5,1.25 0 1,0 3,0a1.5,1.25 0 1,0 -3,0" fill="none" stroke="#0068AC" stroke-width="0.9"/>
<path d="M83.2,352.7h3.4M84.9,351.0v3.4" fill="none" stroke="#006838" stroke-width="1.0"/>
<path d="M83.3,360.0l3.2,3.2M83.3,363.2l3.2,-3.2" fill="none" stroke="#56207C" stroke-width="1.05"/>
<path d="M83.3,368.9h3.2v2.8h-3.2Z" fill="#E89600"/>
<path d="M83.3,377.6h3.2v3.0h-3.2Z" fill="none" stroke="#EAB6C0" stroke-width="0.95"/>
<path d="M83.3,386.3h3.2v2.8h-3.2Z" fill="#38B4A6"/>
<path d="M83.4,396.2a1.5,1.25 0 1,0 3,0a1.5,1.25 0 1,0 -3,0" fill="none" stroke="#0068AC" stroke-width="0.9"/>
<text x="260.8" y="515.0" font-size="7.8" text-anchor="end" fill="#231F20" >0.0</text>
<text x="260.8" y="487.30000000000007" font-size="7.8" text-anchor="end" fill="#231F20" >0.1</text>
<text x="260.8" y="459.6000000000001" font-size="7.8" text-anchor="end" fill="#231F20" >0.2</text>
<text x="260.8" y="431.90000000000003" font-size="7.8" text-anchor="end" fill="#231F20" >0.3</text>
<text x="260.8" y="404.20000000000005" font-size="7.8" text-anchor="end" fill="#231F20" >0.4</text>
<text x="260.8" y="376.50000000000006" font-size="7.8" text-anchor="end" fill="#231F20" >0.5</text>
<text x="260.8" y="348.80000000000007" font-size="7.8" text-anchor="end" fill="#231F20" >0.6</text>
<text x="277.8" y="532.7" font-size="7.9" text-anchor="middle" fill="#231F20" >0</text>
<text x="308.735" y="532.7" font-size="7.9" text-anchor="middle" fill="#231F20" >50</text>
<text x="339.67" y="532.7" font-size="7.9" text-anchor="middle" fill="#231F20" >100</text>
<text x="370.605" y="532.7" font-size="7.9" text-anchor="middle" fill="#231F20" >150</text>
<text x="401.54" y="532.7" font-size="7.9" text-anchor="middle" fill="#231F20" >200</text>
<text x="432.475" y="532.7" font-size="7.9" text-anchor="middle" fill="#231F20" >250</text>
<text x="463.41" y="532.7" font-size="7.9" text-anchor="middle" fill="#231F20" >300</text>
<path d="M270,346.0V512.2M264.4,512.2H270M264.4,484.5H270M264.4,456.8H270M264.4,429.1H270M264.4,401.4H270M264.4,373.7H270M264.4,346.0H270M277.8,518.4H463.4M277.8,518.4V523.6M308.7,518.4V523.6M339.7,518.4V523.6M370.6,518.4V523.6M401.5,518.4V523.6M432.5,518.4V523.6M463.4,518.4V523.6" fill="none" stroke="#231F20" stroke-width="1.2"/>
<text x="378.0" y="543.4" font-size="8.05" text-anchor="middle" fill="#231F20" >Distance (kb)</text>
<text transform="translate(242.6,429.5) rotate(-90)" font-size="7.6" text-anchor="middle" fill="#231F20"><tspan font-style="italic">r</tspan><tspan font-size="5" dy="-2.8">2</tspan></text>
<path d="M277.80,437.41L277.95,444.64L278.11,450.55L278.26,453.29L278.42,454.25L278.73,455.85L279.04,457.16L279.66,459.22L280.27,461.05L280.89,462.59L281.51,463.90L282.75,466.03L283.99,467.53L285.22,468.76L287.08,470.29L288.94,471.39L291.41,472.53L293.89,473.49L296.36,474.28L299.45,475.09L302.55,475.80L308.74,476.74L314.92,477.63L321.11,478.44L327.30,479.15L336.58,480.07L345.86,480.85L358.23,481.60L370.61,482.18L386.07,482.86L401.54,483.52L420.10,484.22L438.66,484.73L463.41,485.33" fill="none" stroke="#56207C" stroke-width="2.0" stroke-linejoin="round"/>
<path d="M277.80,436.03L277.95,446.55L278.11,455.14L278.26,458.88L278.42,459.91L278.73,461.64L279.04,463.06L279.66,465.29L280.27,466.96L280.89,468.31L281.51,469.45L282.75,471.32L283.99,472.63L285.22,473.71L287.08,475.04L288.94,476.03L291.41,477.08L293.89,477.96L296.36,478.73L299.45,479.60L302.55,480.36L308.74,481.62L314.92,482.53L321.11,483.24L327.30,483.85L336.58,484.65L345.86,485.32L358.23,485.99L370.61,486.51L386.07,487.06L401.54,487.55L420.10,488.02L438.66,488.44L463.41,488.93" fill="none" stroke="#EAB6C0" stroke-width="2.0" stroke-linejoin="round"/>
<path d="M277.80,442.95L277.95,452.16L278.11,459.68L278.26,462.93L278.42,463.81L278.73,465.29L279.04,466.49L279.66,468.39L280.27,470.07L280.89,471.48L281.51,472.68L282.75,474.63L283.99,475.96L285.22,477.03L287.08,478.37L288.94,479.36L291.41,480.40L293.89,481.28L296.36,482.08L299.45,483.02L302.55,483.83L308.74,485.19L314.92,486.09L321.11,486.75L327.30,487.31L336.58,488.04L345.86,488.67L358.23,489.42L370.61,490.09L386.07,490.80L401.54,491.42L420.10,492.09L438.66,492.68L463.41,493.36" fill="none" stroke="#E89600" stroke-width="2.0" stroke-linejoin="round"/>
<path d="M277.80,362.62L277.95,416.81L278.11,429.09L278.26,432.06L278.42,434.64L278.73,437.47L279.04,439.79L279.66,443.44L280.27,445.54L280.89,447.08L281.51,448.39L282.75,450.52L283.99,452.27L285.22,453.73L287.08,455.54L288.94,456.83L291.41,458.16L293.89,459.28L296.36,460.20L299.45,461.12L302.55,461.93L308.74,463.10L314.92,464.17L321.11,465.14L327.30,465.99L336.58,467.10L345.86,468.04L358.23,468.94L370.61,469.63L386.07,470.39L401.54,471.06L420.10,471.76L438.66,472.40L463.41,473.14" fill="none" stroke="#0068AC" stroke-width="2.0" stroke-linejoin="round"/>
<path d="M277.80,434.64L277.95,446.74L278.11,456.62L278.26,460.84L278.42,461.92L278.73,463.71L279.04,465.18L279.66,467.49L280.27,469.17L280.89,470.53L281.51,471.67L282.75,473.53L283.99,474.85L285.22,475.92L287.08,477.26L288.94,478.25L291.41,479.30L293.89,480.17L296.36,480.95L299.45,481.82L302.55,482.57L308.74,483.84L314.92,484.75L321.11,485.46L327.30,486.07L336.58,486.86L345.86,487.54L358.23,488.26L370.61,488.85L386.07,489.49L401.54,490.04L420.10,490.61L438.66,491.12L463.41,491.70" fill="none" stroke="#38B4A6" stroke-width="2.0" stroke-linejoin="round"/>
<path d="M277.80,442.95L277.95,466.51L278.11,478.86L278.26,483.14L278.42,484.00L278.73,485.44L279.04,486.62L279.66,488.48L280.27,489.84L280.89,490.94L281.51,491.86L282.75,493.37L283.99,494.53L285.22,495.49L287.08,496.68L288.94,497.52L291.41,498.37L293.89,499.09L296.36,499.68L299.45,500.26L302.55,500.76L308.74,501.46L314.92,501.94L321.11,502.31L327.30,502.64L336.58,503.08L345.86,503.45L358.23,503.95L370.61,504.41L386.07,504.97L401.54,505.52L420.10,506.11L438.66,506.49L463.41,506.94" fill="none" stroke="#006838" stroke-width="2.0" stroke-linejoin="round"/>
<path d="M405.6,352.8H429.4" stroke="#006838" stroke-width="2.1" stroke-linecap="round"/>
<text x="434.2" y="355.40000000000003" font-size="7.4" text-anchor="start" fill="#231F20" >Wild</text>
<path d="M405.6,361.4H429.4" stroke="#56207C" stroke-width="2.1" stroke-linecap="round"/>
<text x="434.2" y="364.0" font-size="7.4" text-anchor="start" fill="#231F20" >C-sub1</text>
<path d="M405.6,369.9H429.4" stroke="#E89600" stroke-width="2.1" stroke-linecap="round"/>
<text x="434.2" y="372.5" font-size="7.4" text-anchor="start" fill="#231F20" >C-sub2</text>
<path d="M405.6,378.5H429.4" stroke="#EAB6C0" stroke-width="2.1" stroke-linecap="round"/>
<text x="434.2" y="381.1" font-size="7.4" text-anchor="start" fill="#231F20" >C-sub3</text>
<path d="M405.6,387.2H429.4" stroke="#38B4A6" stroke-width="2.1" stroke-linecap="round"/>
<text x="434.2" y="389.8" font-size="7.4" text-anchor="start" fill="#231F20" >C-sub4</text>
<path d="M405.6,396.0H429.4" stroke="#0068AC" stroke-width="2.1" stroke-linecap="round"/>
<text x="434.2" y="398.6" font-size="7.4" text-anchor="start" fill="#231F20" >C-sub5</text>
<defs>
<radialGradient id="gr1" cx="0.45" cy="0.42" r="0.62"><stop offset="0" stop-color="#D8401E"/><stop offset="0.55" stop-color="#B42410"/><stop offset="0.85" stop-color="#801206"/><stop offset="1" stop-color="#3A0602"/></radialGradient>
<radialGradient id="gr2" cx="0.5" cy="0.45" r="0.62"><stop offset="0" stop-color="#F6F8E0"/><stop offset="0.75" stop-color="#F0F2CC"/><stop offset="0.93" stop-color="#E6E4AE"/><stop offset="1" stop-color="#B89048"/></radialGradient>
<radialGradient id="gr3" cx="0.5" cy="0.5" r="0.55"><stop offset="0" stop-color="#B86858"/><stop offset="1" stop-color="#8E3426"/></radialGradient>
<radialGradient id="gr4" cx="0.58" cy="0.42" r="0.62"><stop offset="0" stop-color="#C01A12"/><stop offset="0.5" stop-color="#9A1208"/><stop offset="0.82" stop-color="#640804"/><stop offset="1" stop-color="#220201"/></radialGradient>
<radialGradient id="gr5" cx="0.5" cy="0.5" r="0.5"><stop offset="0" stop-color="#FFFFFF"/><stop offset="0.5" stop-color="#FFF4EE" stop-opacity="0.8"/><stop offset="1" stop-color="#FFE8E0" stop-opacity="0"/></radialGradient>
</defs>
<rect x="473.8" y="344.1" width="100.2" height="79.7" fill="#060606"/>
<path d="M498.6,383 C498.6,375 504,372.6 511.2,373.6 C518,372.6 523.8,375 523.8,384 C523.8,393 518,398.2 511.2,398.2 C504,398.2 498.6,392 498.6,383Z" fill="url(#gr1)"/>
<path d="M509,397.8 Q515,396.5 518,393 Q521,389 522.8,384.5 Q522.6,391.5 518.8,395.6 Q514,398.4 509,397.8Z" fill="#A08838" opacity="0.45"/>
<path d="M505.2,386.0h0.7v0.7h-0.7ZM508.1,387.3h0.7v0.7h-0.7ZM513.8,375.4h0.7v0.7h-0.7ZM505.7,379.2h0.7v0.7h-0.7ZM518.4,384.5h0.7v0.7h-0.7ZM514.1,377.3h0.7v0.7h-0.7ZM514.0,393.1h0.7v0.7h-0.7ZM511.5,390.3h0.7v0.7h-0.7ZM516.7,387.0h0.7v0.7h-0.7ZM519.0,384.4h0.7v0.7h-0.7ZM515.8,393.3h0.7v0.7h-0.7ZM508.7,391.6h0.7v0.7h-0.7ZM509.8,394.6h0.7v0.7h-0.7ZM513.8,380.6h0.7v0.7h-0.7ZM511.2,382.5h0.7v0.7h-0.7ZM507.7,386.9h0.7v0.7h-0.7ZM512.9,393.9h0.7v0.7h-0.7ZM514.8,377.6h0.7v0.7h-0.7ZM519.9,386.5h0.7v0.7h-0.7ZM515.7,378.6h0.7v0.7h-0.7ZM518.3,386.6h0.7v0.7h-0.7ZM509.0,377.3h0.7v0.7h-0.7ZM506.5,390.9h0.7v0.7h-0.7ZM515.8,381.3h0.7v0.7h-0.7ZM504.3,383.0h0.7v0.7h-0.7ZM513.4,377.4h0.7v0.7h-0.7ZM519.7,382.3h0.7v0.7h-0.7ZM510.1,385.4h0.7v0.7h-0.7ZM514.2,387.1h0.7v0.7h-0.7ZM512.3,387.6h0.7v0.7h-0.7ZM520.7,385.2h0.7v0.7h-0.7ZM509.5,389.8h0.7v0.7h-0.7ZM505.2,380.6h0.7v0.7h-0.7ZM509.1,386.8h0.7v0.7h-0.7ZM513.9,375.3h0.7v0.7h-0.7ZM513.8,384.3h0.7v0.7h-0.7ZM514.9,381.8h0.7v0.7h-0.7ZM515.6,390.2h0.7v0.7h-0.7ZM505.5,384.0h0.7v0.7h-0.7ZM513.0,381.0h0.7v0.7h-0.7Z" fill="#E06030" opacity="0.45"/>
<circle cx="511.5" cy="384" r="2.6" fill="url(#gr5)"/>
<path d="M551.0,386.0L550.9,387.5L550.8,388.7L550.6,389.8L550.2,390.8L549.8,391.8L549.4,392.7L548.8,393.6L548.2,394.4L547.5,395.1L546.8,395.8L546.1,396.3L545.3,396.9L544.4,397.3L543.5,397.6L542.6,397.8L541.6,397.8L540.5,397.4L539.2,397.1L537.9,397.4L536.8,397.8L535.8,397.8L534.9,397.6L534.0,397.3L533.1,396.9L532.3,396.3L531.6,395.8L530.9,395.1L530.2,394.4L529.6,393.6L529.0,392.7L528.6,391.8L528.2,390.8L527.8,389.8L527.6,388.7L527.5,387.5L527.4,386.0L527.4,384.5L527.6,383.3L527.8,382.2L528.0,381.2L528.4,380.2L528.8,379.3L529.3,378.4L529.8,377.6L530.5,376.9L531.2,376.2L531.9,375.7L532.7,375.2L533.6,374.7L534.6,374.4L535.6,374.2L536.6,374.1L537.8,374.2L539.2,374.3L540.6,374.2L541.8,374.1L542.8,374.2L543.8,374.4L544.8,374.7L545.7,375.2L546.5,375.7L547.2,376.2L547.9,376.9L548.6,377.6L549.1,378.4L549.6,379.3L550.0,380.2L550.4,381.2L550.6,382.2L550.8,383.3L551.0,384.5Z" fill="url(#gr2)"/>
<ellipse cx="539.7" cy="385.8" rx="5.2" ry="6.8" fill="url(#gr3)"/>
<path d="M538.5,383.6h0.6v0.6h-0.6ZM538.5,386.9h0.6v0.6h-0.6ZM537.9,384.3h0.6v0.6h-0.6ZM540.3,388.6h0.6v0.6h-0.6ZM538.0,382.5h0.6v0.6h-0.6ZM542.4,382.7h0.6v0.6h-0.6ZM536.9,385.0h0.6v0.6h-0.6ZM541.5,381.0h0.6v0.6h-0.6ZM538.1,383.8h0.6v0.6h-0.6ZM542.7,385.1h0.6v0.6h-0.6ZM538.2,387.6h0.6v0.6h-0.6ZM543.2,385.2h0.6v0.6h-0.6ZM540.0,382.1h0.6v0.6h-0.6ZM542.5,389.9h0.6v0.6h-0.6ZM536.9,383.1h0.6v0.6h-0.6ZM542.5,387.5h0.6v0.6h-0.6ZM542.5,383.9h0.6v0.6h-0.6ZM536.4,383.3h0.6v0.6h-0.6Z" fill="#E0A090" opacity="0.6"/>
<rect x="555.6" y="420.0" width="15.4" height="1.7" fill="#fff"/>
<rect x="585.0" y="344.1" width="100" height="79.7" fill="#060606"/>
<ellipse cx="612.3" cy="380.8" rx="21.1" ry="33.0" fill="url(#gr1)"/>
<path d="M630.6,369.5L629.9,371.7L630.1,374.1L628.0,375.7L627.5,377.8L628.5,381.3L626.9,383.3L625.3,385.3L622.8,386.0L621.3,388.8L618.7,389.6L615.8,387.4L613.5,387.1L611.4,385.9L609.5,385.0L607.5,384.5L605.7,383.5L603.8,382.5L602.1,381.3L600.2,380.0L597.2,379.2L596.4,376.8L595.1,374.6L597.1,371.7L595.2,369.5L595.3,367.0L594.8,364.3L595.9,362.0L597.7,360.1L600.1,358.9L602.6,358.3L603.2,355.7L605.9,355.9L607.8,355.4L609.4,353.9L611.3,352.7L613.5,351.1L616.1,348.8L618.6,349.9L620.6,351.8L622.5,353.5L625.1,353.9L626.1,356.5L627.5,358.5L627.1,361.5L627.4,363.6L629.4,365.1L631.2,367.1Z" fill="#E4EAB4" opacity="0.96"/>
<path d="M624.2,385.8L624.1,387.3L622.7,387.9L621.4,387.8L620.3,387.1L619.1,385.8L620.3,384.6L621.2,383.2L622.8,383.4L624.1,384.3Z" fill="#E4EAB4" opacity="0.9"/>
<path d="M625.3,380.7L625.4,381.6L624.5,381.7L623.8,381.9L623.1,381.5L622.8,380.7L623.4,380.2L623.7,379.3L624.5,379.5L625.2,379.9Z" fill="#E4EAB4" opacity="0.9"/>
<path d="M611.5,353.1L611.1,353.9L610.4,354.3L609.6,354.4L608.7,354.0L608.9,353.1L608.9,352.3L609.6,351.8L610.4,351.9L610.8,352.5Z" fill="#E4EAB4" opacity="0.9"/>
<path d="M616.7,386.9L616.0,388.3L614.8,389.1L613.3,389.1L612.0,388.4L612.2,386.9L612.6,385.9L613.3,384.6L614.8,384.7L615.6,385.8Z" fill="#E4EAB4" opacity="0.9"/>
<path d="M620.0,352.1L619.7,353.3L618.8,354.5L617.4,354.1L616.5,353.3L615.6,352.1L616.1,350.7L617.6,350.7L618.8,349.9L619.8,350.9Z" fill="#E4EAB4" opacity="0.9"/>
<path d="M625.4,354.5L625.4,356.1L623.9,356.6L622.6,356.4L621.0,356.1L620.3,354.5L621.8,353.4L622.4,352.1L624.0,352.0L625.1,353.2Z" fill="#E4EAB4" opacity="0.9"/>
<path d="M615.6,385.4L615.6,386.3L614.8,387.0L613.8,386.9L613.3,386.1L612.3,385.4L613.1,384.6L613.8,384.0L614.7,384.2L615.9,384.2Z" fill="#E4EAB4" opacity="0.9"/>
<path d="M615.7,351.5L615.6,352.5L614.8,353.4L613.5,353.6L612.9,352.4L611.9,351.5L612.5,350.3L613.5,349.7L614.6,350.0L616.0,350.1Z" fill="#E4EAB4" opacity="0.9"/>
<path d="M609.6,384.3L609.1,385.6L608.0,386.3L606.8,385.9L605.3,385.8L605.1,384.3L605.6,383.1L606.7,382.5L608.1,382.0L608.5,383.4Z" fill="#E4EAB4" opacity="0.9"/>
<path d="M618.5,353.9L617.8,355.4L616.6,356.6L614.8,357.0L613.8,355.3L613.2,353.9L613.5,352.3L615.0,351.4L616.4,352.0L618.1,352.3Z" fill="#E4EAB4" opacity="0.9"/>
<path d="M617.1,387.6L617.3,389.1L615.8,389.6L614.5,389.7L613.3,389.0L613.1,387.6L613.8,386.6L614.5,385.5L615.9,385.5L617.0,386.3Z" fill="#E4EAB4" opacity="0.9"/>
<path d="M629.0,377.5L628.0,378.6L627.2,379.7L625.6,380.0L624.4,379.0L624.5,377.5L624.0,375.7L625.7,375.3L627.1,375.5L627.9,376.4Z" fill="#E4EAB4" opacity="0.9"/>
<path d="M612.0,387.3L612.2,388.3L611.2,388.6L610.5,388.3L609.7,388.1L609.2,387.3L609.8,386.6L610.4,386.0L611.3,385.7L612.1,386.4Z" fill="#E4EAB4" opacity="0.9"/>
<path d="M607.0,354.1L606.3,354.6L606.1,355.6L605.1,355.5L604.6,354.8L604.1,354.1L604.1,353.1L605.2,353.1L606.0,352.7L606.6,353.4Z" fill="#E4EAB4" opacity="0.9"/>
<path d="M608.8,376.1h0.8v0.8h-0.8ZM616.2,370.8h0.8v0.8h-0.8ZM617.6,367.6h0.8v0.8h-0.8ZM608.2,358.6h0.8v0.8h-0.8ZM620.6,370.4h0.8v0.8h-0.8ZM620.2,364.5h0.8v0.8h-0.8ZM606.9,365.3h0.8v0.8h-0.8ZM613.6,360.9h0.8v0.8h-0.8ZM621.0,364.3h0.8v0.8h-0.8ZM608.8,365.9h0.8v0.8h-0.8ZM614.7,377.7h0.8v0.8h-0.8ZM609.4,380.1h0.8v0.8h-0.8ZM602.6,361.7h0.8v0.8h-0.8ZM621.3,376.3h0.8v0.8h-0.8ZM604.7,359.1h0.8v0.8h-0.8ZM611.2,376.8h0.8v0.8h-0.8ZM622.3,377.0h0.8v0.8h-0.8ZM616.1,357.7h0.8v0.8h-0.8ZM610.7,359.2h0.8v0.8h-0.8ZM614.3,371.2h0.8v0.8h-0.8ZM605.2,361.0h0.8v0.8h-0.8ZM615.0,371.7h0.8v0.8h-0.8ZM618.7,362.6h0.8v0.8h-0.8ZM623.6,368.5h0.8v0.8h-0.8ZM616.3,376.3h0.8v0.8h-0.8ZM618.0,368.7h0.8v0.8h-0.8ZM614.2,367.7h0.8v0.8h-0.8ZM604.9,369.9h0.8v0.8h-0.8ZM617.6,367.2h0.8v0.8h-0.8ZM621.7,372.9h0.8v0.8h-0.8Z" fill="#C84818" opacity="0.45"/>
<path d="M613.4,408.8h0.7v0.7h-0.7ZM605.6,406.9h0.7v0.7h-0.7ZM619.0,383.3h0.7v0.7h-0.7ZM624.9,398.2h0.7v0.7h-0.7ZM620.6,390.0h0.7v0.7h-0.7ZM625.0,393.0h0.7v0.7h-0.7ZM621.2,394.5h0.7v0.7h-0.7ZM599.8,394.9h0.7v0.7h-0.7ZM619.2,396.2h0.7v0.7h-0.7ZM609.2,399.8h0.7v0.7h-0.7ZM605.0,393.9h0.7v0.7h-0.7ZM621.3,391.8h0.7v0.7h-0.7ZM619.9,390.7h0.7v0.7h-0.7ZM607.4,395.9h0.7v0.7h-0.7ZM615.5,386.2h0.7v0.7h-0.7ZM622.2,383.6h0.7v0.7h-0.7ZM610.6,385.2h0.7v0.7h-0.7ZM601.5,384.5h0.7v0.7h-0.7ZM608.5,384.4h0.7v0.7h-0.7ZM600.1,394.7h0.7v0.7h-0.7ZM610.1,392.0h0.7v0.7h-0.7ZM608.5,391.7h0.7v0.7h-0.7ZM611.1,384.3h0.7v0.7h-0.7ZM616.4,390.1h0.7v0.7h-0.7ZM620.2,387.8h0.7v0.7h-0.7ZM622.4,393.9h0.7v0.7h-0.7ZM603.0,387.5h0.7v0.7h-0.7ZM623.3,399.1h0.7v0.7h-0.7ZM606.4,382.0h0.7v0.7h-0.7ZM605.0,398.4h0.7v0.7h-0.7ZM604.6,406.2h0.7v0.7h-0.7ZM598.1,391.5h0.7v0.7h-0.7ZM606.0,400.8h0.7v0.7h-0.7ZM620.6,402.5h0.7v0.7h-0.7ZM624.1,396.7h0.7v0.7h-0.7ZM627.2,390.6h0.7v0.7h-0.7ZM608.9,386.3h0.7v0.7h-0.7ZM622.1,394.4h0.7v0.7h-0.7ZM603.7,384.4h0.7v0.7h-0.7ZM619.9,398.4h0.7v0.7h-0.7ZM619.6,391.4h0.7v0.7h-0.7ZM611.5,383.9h0.7v0.7h-0.7ZM610.8,403.3h0.7v0.7h-0.7ZM618.4,382.1h0.7v0.7h-0.7ZM602.5,406.0h0.7v0.7h-0.7ZM617.1,407.1h0.7v0.7h-0.7ZM625.4,393.4h0.7v0.7h-0.7ZM626.3,402.5h0.7v0.7h-0.7ZM606.0,390.8h0.7v0.7h-0.7ZM596.6,391.8h0.7v0.7h-0.7Z" fill="#E05A28" opacity="0.4"/>
<ellipse cx="610.5" cy="382.5" rx="2.6" ry="4.2" fill="url(#gr5)"/>
<path d="M679.5,383.5L679.4,388.2L679.1,391.6L678.6,394.5L678.0,397.1L677.3,399.5L676.5,401.7L675.5,403.7L674.5,405.6L673.4,407.2L672.2,408.8L671.0,410.1L669.7,411.3L668.3,412.2L666.8,413.0L665.3,413.5L663.6,413.6L661.7,412.9L659.0,412.0L656.3,412.9L654.4,413.6L652.7,413.5L651.2,413.0L649.7,412.2L648.3,411.3L647.0,410.1L645.8,408.8L644.6,407.2L643.5,405.6L642.5,403.7L641.5,401.7L640.7,399.5L640.0,397.1L639.4,394.5L638.9,391.6L638.6,388.2L638.5,383.5L638.6,378.8L638.7,375.4L639.0,372.5L639.5,369.9L640.0,367.5L640.6,365.3L641.4,363.3L642.3,361.4L643.3,359.8L644.4,358.2L645.6,356.9L647.0,355.7L648.4,354.8L650.0,354.0L651.8,353.4L653.7,353.1L655.9,353.0L659.0,353.1L662.1,353.0L664.3,353.1L666.2,353.4L668.0,354.0L669.6,354.8L671.0,355.7L672.4,356.9L673.6,358.2L674.7,359.8L675.7,361.4L676.6,363.3L677.4,365.3L678.0,367.5L678.5,369.9L679.0,372.5L679.3,375.4L679.4,378.8Z" fill="url(#gr2)"/>
<path d="M660.3,398.6 L660.3,412.5" stroke="#E0E0B8" stroke-width="1.2"/>
<path d="M660.3,369.8Q669.7,384.2 660.3,398.6Q650.9,384.2 660.3,369.8Z" fill="url(#gr3)"/>
<path d="M660.7,374.8h0.6v0.6h-0.6ZM657.6,387.8h0.6v0.6h-0.6ZM658.1,387.7h0.6v0.6h-0.6ZM658.5,385.7h0.6v0.6h-0.6ZM659.8,390.9h0.6v0.6h-0.6ZM661.0,391.1h0.6v0.6h-0.6ZM660.5,376.7h0.6v0.6h-0.6ZM657.6,383.4h0.6v0.6h-0.6ZM658.5,392.1h0.6v0.6h-0.6ZM661.0,387.6h0.6v0.6h-0.6ZM662.0,393.1h0.6v0.6h-0.6ZM659.3,386.7h0.6v0.6h-0.6ZM660.0,374.9h0.6v0.6h-0.6ZM662.4,386.5h0.6v0.6h-0.6ZM662.3,377.1h0.6v0.6h-0.6ZM660.6,383.3h0.6v0.6h-0.6ZM659.3,383.8h0.6v0.6h-0.6ZM657.6,385.5h0.6v0.6h-0.6ZM661.8,382.3h0.6v0.6h-0.6ZM661.2,386.7h0.6v0.6h-0.6ZM658.5,380.6h0.6v0.6h-0.6ZM659.9,374.2h0.6v0.6h-0.6Z" fill="#D88878" opacity="0.6"/>
<rect x="666.3" y="420.0" width="15.4" height="1.7" fill="#fff"/>
<rect x="473.8" y="438.1" width="100.2" height="79.8" fill="#060606"/>
<ellipse cx="501.9" cy="475.7" rx="20.8" ry="31.4" fill="url(#gr4)" transform="rotate(-5 501.9 475.7)"/>
<ellipse cx="500.6" cy="477.5" rx="3.2" ry="6.5" fill="url(#gr5)"/>
<path d="M496.2,483.3h0.8v0.8h-0.8ZM505.7,498.6h0.8v0.8h-0.8ZM503.9,488.4h0.8v0.8h-0.8ZM513.8,489.7h0.8v0.8h-0.8ZM509.6,488.1h0.8v0.8h-0.8ZM508.3,485.9h0.8v0.8h-0.8ZM503.5,492.8h0.8v0.8h-0.8ZM497.6,488.6h0.8v0.8h-0.8ZM499.3,494.8h0.8v0.8h-0.8ZM508.9,485.7h0.8v0.8h-0.8ZM493.5,486.0h0.8v0.8h-0.8ZM500.9,481.6h0.8v0.8h-0.8ZM494.7,495.3h0.8v0.8h-0.8ZM499.9,483.2h0.8v0.8h-0.8Z" fill="#D04030" opacity="0.5"/>
<path d="M569.7,476.3L569.6,481.3L569.2,484.7L568.8,487.8L568.1,490.5L567.4,493.0L566.5,495.3L565.5,497.4L564.5,499.4L563.4,501.1L562.2,502.7L560.9,504.1L559.6,505.3L558.2,506.3L556.8,507.2L555.2,507.7L553.5,507.8L551.7,507.3L549.0,506.5L546.3,507.3L544.5,507.8L542.8,507.7L541.2,507.2L539.8,506.3L538.4,505.3L537.1,504.1L535.8,502.7L534.6,501.1L533.5,499.4L532.5,497.4L531.5,495.3L530.6,493.0L529.9,490.5L529.2,487.8L528.8,484.7L528.4,481.3L528.3,476.3L528.4,471.3L528.5,467.9L528.8,464.8L529.3,462.1L529.8,459.6L530.5,457.3L531.2,455.2L532.1,453.2L533.1,451.5L534.3,449.9L535.5,448.5L536.9,447.3L538.3,446.3L539.9,445.4L541.7,444.8L543.6,444.5L545.8,444.4L549.0,444.5L552.2,444.4L554.4,444.5L556.3,444.8L558.1,445.4L559.7,446.3L561.1,447.3L562.5,448.5L563.7,449.9L564.9,451.5L565.9,453.2L566.8,455.2L567.5,457.3L568.2,459.6L568.7,462.1L569.2,464.8L569.5,467.9L569.6,471.3Z" fill="url(#gr2)"/>
<path d="M549.0,460.0Q558.8,477.0 549.0,494.0Q539.2,477.0 549.0,460.0Z" fill="url(#gr3)"/>
<path d="M547.7,476.0h0.6v0.6h-0.6ZM549.2,478.2h0.6v0.6h-0.6ZM548.0,486.9h0.6v0.6h-0.6ZM547.5,476.0h0.6v0.6h-0.6ZM547.6,469.8h0.6v0.6h-0.6ZM546.5,477.9h0.6v0.6h-0.6ZM549.2,467.6h0.6v0.6h-0.6ZM550.8,476.0h0.6v0.6h-0.6ZM548.5,472.5h0.6v0.6h-0.6ZM545.9,478.3h0.6v0.6h-0.6ZM546.2,471.7h0.6v0.6h-0.6ZM547.3,485.5h0.6v0.6h-0.6ZM548.4,470.3h0.6v0.6h-0.6ZM549.9,481.9h0.6v0.6h-0.6ZM547.3,466.8h0.6v0.6h-0.6ZM550.8,485.1h0.6v0.6h-0.6ZM549.1,486.3h0.6v0.6h-0.6ZM549.4,470.8h0.6v0.6h-0.6ZM550.0,488.1h0.6v0.6h-0.6ZM551.8,476.1h0.6v0.6h-0.6ZM550.1,489.0h0.6v0.6h-0.6ZM551.1,479.9h0.6v0.6h-0.6Z" fill="#D88070" opacity="0.6"/>
<rect x="555.0" y="514.2" width="15.9" height="1.6" fill="#fff"/>
<rect x="585.0" y="438.9" width="100" height="78.5" fill="#060606"/>
<ellipse cx="614.9" cy="476.7" rx="19.8" ry="26.6" fill="url(#gr1)"/>
<path d="M612,451.2 Q624,449.5 630.5,458 Q635,468 633.5,481 Q632,488 629.5,490 Q627,484 626,479 Q623,476 622.5,470 Q619,466 619.5,460 Q615,458 612,451.2Z" fill="#D8DC90" opacity="0.95"/>
<path d="M609.6,482.7h0.7v0.7h-0.7ZM602.8,470.6h0.7v0.7h-0.7ZM613.3,478.7h0.7v0.7h-0.7ZM607.9,480.4h0.7v0.7h-0.7ZM620.5,480.3h0.7v0.7h-0.7ZM606.8,482.8h0.7v0.7h-0.7ZM609.5,494.6h0.7v0.7h-0.7ZM614.1,483.8h0.7v0.7h-0.7ZM611.7,474.1h0.7v0.7h-0.7ZM600.9,488.1h0.7v0.7h-0.7ZM608.4,482.5h0.7v0.7h-0.7ZM616.0,471.0h0.7v0.7h-0.7ZM608.7,493.8h0.7v0.7h-0.7ZM606.9,473.8h0.7v0.7h-0.7ZM606.9,478.1h0.7v0.7h-0.7ZM605.9,468.7h0.7v0.7h-0.7ZM612.7,490.7h0.7v0.7h-0.7ZM621.5,486.7h0.7v0.7h-0.7ZM611.5,473.6h0.7v0.7h-0.7ZM613.3,465.7h0.7v0.7h-0.7ZM616.9,487.3h0.7v0.7h-0.7ZM619.3,470.3h0.7v0.7h-0.7ZM603.3,493.6h0.7v0.7h-0.7ZM608.7,467.9h0.7v0.7h-0.7ZM605.9,468.7h0.7v0.7h-0.7ZM607.9,496.9h0.7v0.7h-0.7ZM611.6,489.3h0.7v0.7h-0.7ZM607.7,490.9h0.7v0.7h-0.7ZM619.9,484.5h0.7v0.7h-0.7ZM611.0,483.4h0.7v0.7h-0.7ZM610.4,483.2h0.7v0.7h-0.7ZM621.3,471.2h0.7v0.7h-0.7ZM614.6,497.6h0.7v0.7h-0.7ZM602.7,473.6h0.7v0.7h-0.7ZM617.2,482.9h0.7v0.7h-0.7ZM613.1,479.9h0.7v0.7h-0.7ZM602.1,485.6h0.7v0.7h-0.7ZM607.0,482.2h0.7v0.7h-0.7ZM608.5,475.5h0.7v0.7h-0.7ZM608.0,485.6h0.7v0.7h-0.7Z" fill="#E05028" opacity="0.4"/>
<ellipse cx="613.3" cy="480" rx="2.2" ry="3" fill="url(#gr5)"/>
<path d="M679.1,482.0L679.0,485.9L678.7,488.6L678.2,491.0L677.6,493.2L676.9,495.1L676.1,497.0L675.2,498.6L674.2,500.2L673.1,501.5L671.9,502.8L670.7,503.9L669.4,504.8L668.1,505.6L666.6,506.3L665.1,506.7L663.4,506.7L661.6,506.0L658.9,505.1L656.2,506.0L654.4,506.7L652.7,506.7L651.2,506.3L649.7,505.6L648.4,504.8L647.1,503.9L645.9,502.8L644.7,501.5L643.6,500.2L642.6,498.6L641.7,497.0L640.9,495.1L640.2,493.2L639.6,491.0L639.1,488.6L638.8,485.9L638.7,482.0L638.8,478.1L638.9,475.4L639.2,473.0L639.6,470.8L640.2,468.9L640.8,467.0L641.6,465.4L642.4,463.8L643.4,462.5L644.5,461.2L645.7,460.1L647.0,459.2L648.5,458.4L650.1,457.7L651.8,457.3L653.6,457.0L655.8,457.0L658.9,457.1L662.0,457.0L664.2,457.0L666.0,457.3L667.7,457.7L669.3,458.4L670.8,459.2L672.1,460.1L673.3,461.2L674.4,462.5L675.4,463.8L676.2,465.4L677.0,467.0L677.6,468.9L678.2,470.8L678.6,473.0L678.9,475.4L679.0,478.1Z" fill="url(#gr2)"/>
<path d="M658.4,494 L658.4,506" stroke="#E0E0B8" stroke-width="1.1"/>
<path d="M658.0,467.8Q667.8,481.8 658.0,495.8Q648.2,481.8 658.0,467.8Z" fill="url(#gr3)"/>
<path d="M656.4,473.5h0.6v0.6h-0.6ZM658.0,486.9h0.6v0.6h-0.6ZM656.9,485.0h0.6v0.6h-0.6ZM657.7,481.3h0.6v0.6h-0.6ZM658.2,490.0h0.6v0.6h-0.6ZM657.6,484.4h0.6v0.6h-0.6ZM655.1,480.2h0.6v0.6h-0.6ZM660.4,487.9h0.6v0.6h-0.6ZM657.1,475.5h0.6v0.6h-0.6ZM658.3,490.2h0.6v0.6h-0.6ZM657.5,489.9h0.6v0.6h-0.6ZM659.4,478.8h0.6v0.6h-0.6ZM656.6,481.9h0.6v0.6h-0.6ZM657.3,479.0h0.6v0.6h-0.6ZM659.0,490.1h0.6v0.6h-0.6ZM658.6,474.0h0.6v0.6h-0.6ZM656.1,479.0h0.6v0.6h-0.6ZM658.8,473.9h0.6v0.6h-0.6Z" fill="#D88070" opacity="0.6"/>
<rect x="666.3" y="513.6" width="14.9" height="1.6" fill="#fff"/>
<text x="527.1" y="341.0" font-size="8.0" text-anchor="middle" fill="#231F20" >S21</text>
<text x="635.6" y="341.0" font-size="8.0" text-anchor="middle" fill="#231F20" >Z203</text>
<text x="527.3" y="435.2" font-size="8.0" text-anchor="middle" fill="#231F20" >Z95</text>
<text x="636.6" y="436.6" font-size="8.0" text-anchor="middle" fill="#231F20" >Z94</text>
</svg>
</body></html>
